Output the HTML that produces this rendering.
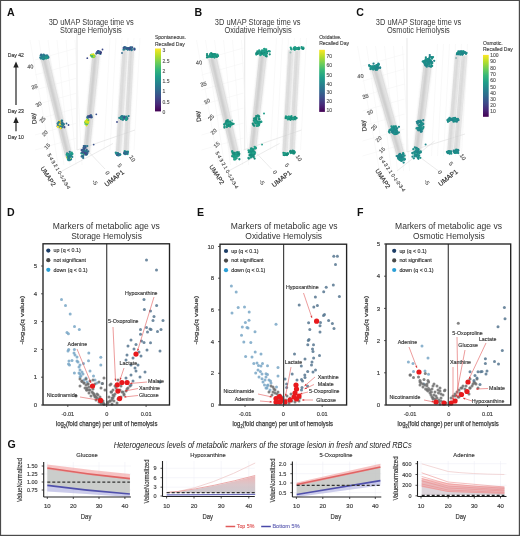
<!DOCTYPE html><html><head><meta charset="utf-8"><style>html,body{margin:0;padding:0;background:#fff;}svg{display:block;will-change:transform;}#wrap{width:520px;height:536px;}</style></head><body><div id="wrap"><svg width="520" height="536" viewBox="0 0 520 536">
<defs><linearGradient id="barg" x1="0" x2="1" y1="0" y2="0"><stop offset="0" stop-color="#f6f6f6"/><stop offset="0.2" stop-color="#dcdcdc"/><stop offset="0.45" stop-color="#c6c6c6"/><stop offset="0.55" stop-color="#c2c2c2"/><stop offset="0.8" stop-color="#dadada"/><stop offset="1" stop-color="#f4f4f4"/></linearGradient><linearGradient id="vir" x1="0" x2="0" y1="1" y2="0"><stop offset="0.000" stop-color="#440154"/><stop offset="0.111" stop-color="#482878"/><stop offset="0.222" stop-color="#3e4a89"/><stop offset="0.333" stop-color="#31688e"/><stop offset="0.444" stop-color="#26828e"/><stop offset="0.556" stop-color="#1f9e89"/><stop offset="0.667" stop-color="#35b779"/><stop offset="0.778" stop-color="#6ece58"/><stop offset="0.889" stop-color="#b5de2b"/><stop offset="1.000" stop-color="#fde725"/></linearGradient><filter id="soft" x="-50%" y="-10%" width="200%" height="120%"><feGaussianBlur stdDeviation="1.0"/></filter></defs>
<rect width="520" height="536" fill="#fff"/>
<g font-family='"Liberation Sans", sans-serif'>
<text x="7.00" y="16.00" font-size="10.6" fill="#111" text-anchor="start" font-weight="bold">A</text>
<text x="194.40" y="15.90" font-size="10.6" fill="#111" text-anchor="start" font-weight="bold">B</text>
<text x="356.30" y="15.90" font-size="10.6" fill="#111" text-anchor="start" font-weight="bold">C</text>
<text x="7.00" y="216.00" font-size="10.6" fill="#111" text-anchor="start" font-weight="bold">D</text>
<text x="196.90" y="216.00" font-size="10.6" fill="#111" text-anchor="start" font-weight="bold">E</text>
<text x="356.90" y="216.00" font-size="10.6" fill="#111" text-anchor="start" font-weight="bold">F</text>
<text x="7.50" y="447.60" font-size="10.6" fill="#111" text-anchor="start" font-weight="bold">G</text>
<text x="7.80" y="56.70" font-size="6.0" fill="#333" text-anchor="start" stroke="#333" stroke-width="0.160" textLength="16.10" lengthAdjust="spacingAndGlyphs">Day 42</text>
<text x="7.80" y="112.50" font-size="6.0" fill="#333" text-anchor="start" stroke="#333" stroke-width="0.160" textLength="16.10" lengthAdjust="spacingAndGlyphs">Day 23</text>
<text x="7.80" y="139.30" font-size="6.0" fill="#333" text-anchor="start" stroke="#333" stroke-width="0.160" textLength="16.10" lengthAdjust="spacingAndGlyphs">Day 10</text>
<line x1="16" y1="66" x2="16" y2="105" stroke="#333" stroke-width="1.3"/>
<polygon points="16,61.4 13.3,67.6 18.7,67.6" fill="#222"/>
<line x1="16" y1="121" x2="16" y2="131.2" stroke="#333" stroke-width="1.3"/>
<polygon points="16,116.8 13.3,123 18.7,123" fill="#222"/>
<text x="48.70" y="25.00" font-size="8.5" fill="#3a3a3a" text-anchor="start" textLength="85.10" lengthAdjust="spacingAndGlyphs">3D uMAP Storage time vs</text>
<text x="60.00" y="33.30" font-size="8.5" fill="#3a3a3a" text-anchor="start" textLength="61.70" lengthAdjust="spacingAndGlyphs">Storage Hemolysis</text>
<text x="214.80" y="25.00" font-size="8.5" fill="#3a3a3a" text-anchor="start" textLength="85.60" lengthAdjust="spacingAndGlyphs">3D uMAP Storage time vs</text>
<text x="224.40" y="33.30" font-size="8.5" fill="#3a3a3a" text-anchor="start" textLength="67.30" lengthAdjust="spacingAndGlyphs">Oxidative Hemolysis</text>
<text x="375.80" y="25.00" font-size="8.5" fill="#3a3a3a" text-anchor="start" textLength="85.50" lengthAdjust="spacingAndGlyphs">3D uMAP Storage time vs</text>
<text x="386.90" y="33.30" font-size="8.5" fill="#3a3a3a" text-anchor="start" textLength="62.90" lengthAdjust="spacingAndGlyphs">Osmotic Hemolysis</text>
<line x1="77" y1="32" x2="77" y2="150" stroke="#d6d6d6" stroke-width="0.6"/>
<line x1="30" y1="40" x2="52" y2="165" stroke="#f2f2f2" stroke-width="0.5"/>
<line x1="110" y1="38" x2="104" y2="150" stroke="#f2f2f2" stroke-width="0.5"/>
<line x1="39" y1="40" x2="58" y2="165" stroke="#f2f2f2" stroke-width="0.5"/>
<line x1="116" y1="38" x2="110" y2="150" stroke="#f2f2f2" stroke-width="0.5"/>
<line x1="48" y1="40" x2="64" y2="165" stroke="#f2f2f2" stroke-width="0.5"/>
<line x1="122" y1="38" x2="116" y2="150" stroke="#f2f2f2" stroke-width="0.5"/>
<line x1="57" y1="40" x2="70" y2="165" stroke="#f2f2f2" stroke-width="0.5"/>
<line x1="128" y1="38" x2="122" y2="150" stroke="#f2f2f2" stroke-width="0.5"/>
<line x1="66" y1="40" x2="76" y2="165" stroke="#f2f2f2" stroke-width="0.5"/>
<line x1="134" y1="38" x2="128" y2="150" stroke="#f2f2f2" stroke-width="0.5"/>
<line x1="75" y1="40" x2="82" y2="165" stroke="#f2f2f2" stroke-width="0.5"/>
<line x1="140" y1="38" x2="134" y2="150" stroke="#f2f2f2" stroke-width="0.5"/>
<line x1="35" y1="60" x2="77" y2="48" stroke="#f2f2f2" stroke-width="0.5"/>
<line x1="35" y1="75" x2="77" y2="63" stroke="#f2f2f2" stroke-width="0.5"/>
<line x1="35" y1="90" x2="77" y2="78" stroke="#f2f2f2" stroke-width="0.5"/>
<line x1="35" y1="105" x2="77" y2="93" stroke="#f2f2f2" stroke-width="0.5"/>
<line x1="35" y1="120" x2="77" y2="108" stroke="#f2f2f2" stroke-width="0.5"/>
<line x1="35" y1="135" x2="77" y2="123" stroke="#f2f2f2" stroke-width="0.5"/>
<line x1="35" y1="150" x2="77" y2="138" stroke="#f2f2f2" stroke-width="0.5"/>
<line x1="62" y1="171" x2="113" y2="143.5" stroke="#dedede" stroke-width="0.6"/>
<line x1="86" y1="149" x2="105" y2="169" stroke="#dedede" stroke-width="0.6"/>
<line x1="77" y1="150" x2="135" y2="130" stroke="#dedede" stroke-width="0.6"/>
<g filter="url(#soft)" opacity="0.9">
<polygon points="40.25,58 48.75,58 72.75,157 65.25,157" fill="#dedede"/>
<line x1="43.65" y1="58" x2="68.25" y2="157" stroke="#b4b4b4" stroke-width="1.6"/>
</g>
<line x1="40.93" y1="58" x2="65.85" y2="157" stroke="#cfcfcf" stroke-width="0.6" opacity="0.9"/>
<line x1="48.07" y1="58" x2="72.15" y2="157" stroke="#d6d6d6" stroke-width="0.6" opacity="0.9"/>
<g filter="url(#soft)" opacity="0.9">
<polygon points="92.25,55 99.75,55 89.75,153 83.25,153" fill="#dedede"/>
<line x1="95.25" y1="55" x2="85.85" y2="153" stroke="#b4b4b4" stroke-width="1.6"/>
</g>
<line x1="92.85" y1="55" x2="83.77" y2="153" stroke="#cfcfcf" stroke-width="0.6" opacity="0.9"/>
<line x1="99.15" y1="55" x2="89.23" y2="153" stroke="#d6d6d6" stroke-width="0.6" opacity="0.9"/>
<g filter="url(#soft)" opacity="0.7">
<polygon points="122.5,50 127.5,50 121.0,153 116.0,153" fill="#dedede"/>
<line x1="124.50" y1="50" x2="118.00" y2="153" stroke="#b4b4b4" stroke-width="1.6"/>
</g>
<line x1="122.90" y1="50" x2="116.40" y2="153" stroke="#cfcfcf" stroke-width="0.6" opacity="0.7"/>
<line x1="127.10" y1="50" x2="120.60" y2="153" stroke="#d6d6d6" stroke-width="0.6" opacity="0.7"/>
<g filter="url(#soft)" opacity="0.7">
<polygon points="129.0,50 134.0,50 128.5,152 123.5,152" fill="#dedede"/>
<line x1="131.00" y1="50" x2="125.50" y2="152" stroke="#b4b4b4" stroke-width="1.6"/>
</g>
<line x1="129.40" y1="50" x2="123.90" y2="152" stroke="#cfcfcf" stroke-width="0.6" opacity="0.7"/>
<line x1="133.60" y1="50" x2="128.10" y2="152" stroke="#d6d6d6" stroke-width="0.6" opacity="0.7"/>
<circle cx="43.99" cy="57.61" r="1.15" fill="#1f9e89"/>
<circle cx="46.73" cy="57.65" r="1.15" fill="#2a788e"/>
<circle cx="40.69" cy="55.69" r="1.15" fill="#26828e"/>
<circle cx="46.57" cy="57.30" r="1.15" fill="#1f9e89"/>
<circle cx="44.65" cy="58.52" r="1.15" fill="#1f9e89"/>
<circle cx="44.98" cy="56.45" r="1.15" fill="#26828e"/>
<circle cx="42.70" cy="55.84" r="1.15" fill="#1f9e89"/>
<circle cx="42.72" cy="56.44" r="1.15" fill="#26828e"/>
<circle cx="48.29" cy="57.68" r="1.15" fill="#2a788e"/>
<circle cx="42.32" cy="57.73" r="1.15" fill="#31688e"/>
<circle cx="43.18" cy="59.06" r="1.15" fill="#26828e"/>
<circle cx="46.58" cy="57.94" r="1.15" fill="#26828e"/>
<circle cx="42.75" cy="58.09" r="1.15" fill="#1f9e89"/>
<circle cx="41.95" cy="56.34" r="1.15" fill="#23898e"/>
<circle cx="43.61" cy="55.85" r="1.15" fill="#2a788e"/>
<circle cx="40.30" cy="57.58" r="1.15" fill="#2a788e"/>
<circle cx="43.41" cy="59.03" r="1.15" fill="#26828e"/>
<circle cx="45.97" cy="57.50" r="1.15" fill="#23898e"/>
<circle cx="46.79" cy="55.63" r="1.15" fill="#2a788e"/>
<circle cx="43.90" cy="56.70" r="1.15" fill="#31688e"/>
<circle cx="41.57" cy="57.99" r="1.15" fill="#26828e"/>
<circle cx="46.41" cy="56.49" r="1.15" fill="#1f9e89"/>
<circle cx="44.74" cy="55.44" r="1.15" fill="#2a788e"/>
<circle cx="43.50" cy="57.94" r="1.15" fill="#23898e"/>
<circle cx="42.56" cy="56.36" r="1.15" fill="#1f9e89"/>
<circle cx="46.63" cy="56.54" r="1.15" fill="#1f9e89"/>
<circle cx="47.39" cy="57.69" r="1.15" fill="#31688e"/>
<circle cx="48.21" cy="56.90" r="1.15" fill="#2a788e"/>
<circle cx="43.63" cy="54.55" r="1.15" fill="#2a788e"/>
<circle cx="46.70" cy="57.19" r="1.15" fill="#26828e"/>
<circle cx="42.71" cy="56.10" r="1.15" fill="#26828e"/>
<circle cx="44.62" cy="56.37" r="1.15" fill="#26828e"/>
<circle cx="40.93" cy="58.60" r="1.15" fill="#23898e"/>
<circle cx="46.41" cy="57.64" r="1.15" fill="#31688e"/>
<circle cx="44.31" cy="57.64" r="1.15" fill="#23898e"/>
<circle cx="45.56" cy="56.27" r="1.15" fill="#23898e"/>
<circle cx="47.52" cy="56.85" r="1.15" fill="#23898e"/>
<circle cx="45.60" cy="56.82" r="1.15" fill="#26828e"/>
<circle cx="46.20" cy="58.43" r="1.15" fill="#1f9e89"/>
<circle cx="41.84" cy="57.15" r="1.15" fill="#2a788e"/>
<circle cx="44.28" cy="57.66" r="1.15" fill="#31688e"/>
<circle cx="42.74" cy="58.14" r="1.15" fill="#26828e"/>
<circle cx="43.62" cy="55.66" r="1.15" fill="#31688e"/>
<circle cx="42.65" cy="55.37" r="1.15" fill="#23898e"/>
<circle cx="47.31" cy="55.77" r="1.15" fill="#31688e"/>
<circle cx="42.93" cy="57.76" r="1.15" fill="#1f9e89"/>
<circle cx="42.49" cy="57.14" r="1.15" fill="#26828e"/>
<circle cx="45.75" cy="57.34" r="1.15" fill="#26828e"/>
<circle cx="46.59" cy="58.04" r="1.15" fill="#1f9e89"/>
<circle cx="45.65" cy="57.00" r="1.15" fill="#1f9e89"/>
<circle cx="47.12" cy="56.48" r="1.15" fill="#1f9e89"/>
<circle cx="46.44" cy="55.82" r="1.15" fill="#26828e"/>
<circle cx="41.19" cy="54.76" r="1.15" fill="#31688e"/>
<circle cx="43.83" cy="57.46" r="1.15" fill="#23898e"/>
<circle cx="62.79" cy="124.39" r="1.15" fill="#2c728e"/>
<circle cx="60.66" cy="125.64" r="1.15" fill="#31688e"/>
<circle cx="60.89" cy="121.99" r="1.15" fill="#2a788e"/>
<circle cx="59.92" cy="124.35" r="1.15" fill="#fde725"/>
<circle cx="59.42" cy="127.07" r="1.15" fill="#1f9e89"/>
<circle cx="61.07" cy="122.65" r="1.15" fill="#26828e"/>
<circle cx="60.59" cy="122.89" r="1.15" fill="#31688e"/>
<circle cx="62.26" cy="123.38" r="1.15" fill="#23898e"/>
<circle cx="58.28" cy="123.72" r="1.15" fill="#31688e"/>
<circle cx="59.56" cy="122.21" r="1.15" fill="#23898e"/>
<circle cx="62.02" cy="120.69" r="1.15" fill="#23898e"/>
<circle cx="61.58" cy="126.94" r="1.15" fill="#1f9e89"/>
<circle cx="63.82" cy="124.25" r="1.15" fill="#2c728e"/>
<circle cx="60.86" cy="127.87" r="1.15" fill="#31688e"/>
<circle cx="57.64" cy="126.18" r="1.15" fill="#31688e"/>
<circle cx="62.46" cy="123.92" r="1.15" fill="#23898e"/>
<circle cx="62.44" cy="125.98" r="1.15" fill="#31688e"/>
<circle cx="61.63" cy="127.45" r="1.15" fill="#1f9e89"/>
<circle cx="58.69" cy="124.91" r="1.15" fill="#26828e"/>
<circle cx="61.41" cy="123.54" r="1.15" fill="#3b528b"/>
<circle cx="61.54" cy="120.91" r="1.15" fill="#2c728e"/>
<circle cx="62.31" cy="122.99" r="1.15" fill="#31688e"/>
<circle cx="64.31" cy="127.26" r="1.15" fill="#3b528b"/>
<circle cx="58.43" cy="125.33" r="1.15" fill="#26828e"/>
<circle cx="60.85" cy="123.17" r="1.15" fill="#2a788e"/>
<circle cx="63.11" cy="125.01" r="1.15" fill="#2c728e"/>
<circle cx="61.31" cy="123.34" r="1.15" fill="#2c728e"/>
<circle cx="60.18" cy="122.79" r="1.15" fill="#fde725"/>
<circle cx="60.68" cy="124.36" r="1.15" fill="#26828e"/>
<circle cx="57.64" cy="123.65" r="1.15" fill="#3b528b"/>
<circle cx="62.05" cy="124.38" r="1.15" fill="#23898e"/>
<circle cx="62.09" cy="124.77" r="1.15" fill="#fde725"/>
<circle cx="61.13" cy="127.42" r="1.15" fill="#3e4a89"/>
<circle cx="58.08" cy="123.35" r="1.15" fill="#1f9e89"/>
<circle cx="62.26" cy="123.40" r="1.15" fill="#2c728e"/>
<circle cx="59.46" cy="121.05" r="1.15" fill="#fde725"/>
<circle cx="57.86" cy="126.85" r="1.15" fill="#fde725"/>
<circle cx="61.63" cy="125.42" r="1.15" fill="#fde725"/>
<circle cx="62.71" cy="124.78" r="1.15" fill="#2a788e"/>
<circle cx="58.85" cy="122.10" r="1.15" fill="#2a788e"/>
<circle cx="61.85" cy="126.70" r="1.15" fill="#26828e"/>
<circle cx="59.67" cy="123.82" r="1.15" fill="#fde725"/>
<circle cx="59.20" cy="124.02" r="1.15" fill="#26828e"/>
<circle cx="61.41" cy="124.00" r="1.15" fill="#23898e"/>
<circle cx="60.54" cy="128.23" r="1.15" fill="#fde725"/>
<circle cx="60.64" cy="124.65" r="1.15" fill="#26828e"/>
<circle cx="58.94" cy="125.56" r="1.15" fill="#fde725"/>
<circle cx="60.16" cy="123.59" r="1.15" fill="#3e4a89"/>
<circle cx="59.11" cy="125.30" r="1.15" fill="#2c728e"/>
<circle cx="59.79" cy="124.42" r="1.15" fill="#fde725"/>
<circle cx="71.73" cy="152.66" r="1.15" fill="#1f9e89"/>
<circle cx="71.99" cy="154.03" r="1.15" fill="#23898e"/>
<circle cx="69.47" cy="155.08" r="1.15" fill="#26828e"/>
<circle cx="67.91" cy="157.09" r="1.15" fill="#23898e"/>
<circle cx="68.00" cy="156.60" r="1.15" fill="#1f9e89"/>
<circle cx="69.72" cy="151.83" r="1.15" fill="#2a788e"/>
<circle cx="71.13" cy="154.93" r="1.15" fill="#26828e"/>
<circle cx="71.06" cy="159.24" r="1.15" fill="#23898e"/>
<circle cx="69.75" cy="160.20" r="1.15" fill="#2a788e"/>
<circle cx="69.72" cy="155.21" r="1.15" fill="#23898e"/>
<circle cx="69.90" cy="157.81" r="1.15" fill="#fde725"/>
<circle cx="67.62" cy="157.19" r="1.15" fill="#26828e"/>
<circle cx="67.93" cy="158.91" r="1.15" fill="#1f9e89"/>
<circle cx="68.07" cy="157.89" r="1.15" fill="#1f9e89"/>
<circle cx="67.56" cy="157.60" r="1.15" fill="#1f9e89"/>
<circle cx="68.42" cy="155.94" r="1.15" fill="#23898e"/>
<circle cx="69.74" cy="155.83" r="1.15" fill="#1f9e89"/>
<circle cx="68.52" cy="160.20" r="1.15" fill="#2a788e"/>
<circle cx="68.89" cy="157.04" r="1.15" fill="#2a788e"/>
<circle cx="70.41" cy="153.57" r="1.15" fill="#1f9e89"/>
<circle cx="67.35" cy="157.38" r="1.15" fill="#fde725"/>
<circle cx="66.76" cy="154.67" r="1.15" fill="#26828e"/>
<circle cx="68.48" cy="159.53" r="1.15" fill="#2a788e"/>
<circle cx="68.45" cy="156.35" r="1.15" fill="#1f9e89"/>
<circle cx="67.09" cy="153.31" r="1.15" fill="#26828e"/>
<circle cx="68.12" cy="155.11" r="1.15" fill="#1f9e89"/>
<circle cx="70.15" cy="154.33" r="1.15" fill="#26828e"/>
<circle cx="70.66" cy="155.93" r="1.15" fill="#1f9e89"/>
<circle cx="68.66" cy="155.59" r="1.15" fill="#23898e"/>
<circle cx="72.36" cy="154.00" r="1.15" fill="#1f9e89"/>
<circle cx="70.02" cy="156.42" r="1.15" fill="#1f9e89"/>
<circle cx="67.64" cy="154.22" r="1.15" fill="#23898e"/>
<circle cx="68.53" cy="158.28" r="1.15" fill="#2a788e"/>
<circle cx="68.63" cy="159.58" r="1.15" fill="#1f9e89"/>
<circle cx="69.30" cy="156.09" r="1.15" fill="#fde725"/>
<circle cx="68.02" cy="155.59" r="1.15" fill="#23898e"/>
<circle cx="69.05" cy="158.18" r="1.15" fill="#2a788e"/>
<circle cx="67.89" cy="153.91" r="1.15" fill="#2a788e"/>
<circle cx="70.35" cy="155.68" r="1.15" fill="#23898e"/>
<circle cx="70.46" cy="155.80" r="1.15" fill="#2a788e"/>
<circle cx="67.78" cy="157.04" r="1.15" fill="#1f9e89"/>
<circle cx="69.14" cy="155.71" r="1.15" fill="#1f9e89"/>
<circle cx="68.51" cy="156.28" r="1.15" fill="#2a788e"/>
<circle cx="70.64" cy="153.83" r="1.15" fill="#1f9e89"/>
<circle cx="67.00" cy="154.21" r="1.15" fill="#1f9e89"/>
<circle cx="68.09" cy="156.30" r="1.15" fill="#23898e"/>
<circle cx="70.52" cy="156.04" r="1.15" fill="#26828e"/>
<circle cx="70.98" cy="155.57" r="1.15" fill="#23898e"/>
<circle cx="72.23" cy="156.89" r="1.15" fill="#23898e"/>
<circle cx="68.95" cy="156.07" r="1.15" fill="#2a788e"/>
<circle cx="70.12" cy="156.81" r="1.15" fill="#23898e"/>
<circle cx="69.03" cy="159.46" r="1.15" fill="#26828e"/>
<circle cx="68.94" cy="156.86" r="1.15" fill="#2a788e"/>
<circle cx="67.63" cy="154.96" r="1.15" fill="#1f9e89"/>
<circle cx="92.26" cy="56.62" r="1.15" fill="#35b779"/>
<circle cx="94.39" cy="55.54" r="1.15" fill="#d8e219"/>
<circle cx="91.63" cy="54.81" r="1.15" fill="#35b779"/>
<circle cx="91.82" cy="56.51" r="1.15" fill="#6ece58"/>
<circle cx="93.45" cy="57.17" r="1.15" fill="#d8e219"/>
<circle cx="94.33" cy="56.46" r="1.15" fill="#35b779"/>
<circle cx="91.37" cy="54.95" r="1.15" fill="#35b779"/>
<circle cx="93.28" cy="56.84" r="1.15" fill="#35b779"/>
<circle cx="90.84" cy="55.31" r="1.15" fill="#fde725"/>
<circle cx="93.11" cy="54.94" r="1.15" fill="#d8e219"/>
<circle cx="92.75" cy="56.13" r="1.15" fill="#b5de2b"/>
<circle cx="93.44" cy="55.78" r="1.15" fill="#6ece58"/>
<circle cx="91.19" cy="55.55" r="1.15" fill="#35b779"/>
<circle cx="92.01" cy="55.05" r="1.15" fill="#fde725"/>
<circle cx="92.13" cy="56.09" r="1.15" fill="#35b779"/>
<circle cx="92.85" cy="55.76" r="1.15" fill="#35b779"/>
<circle cx="94.00" cy="56.59" r="1.15" fill="#b5de2b"/>
<circle cx="93.20" cy="54.38" r="1.15" fill="#d8e219"/>
<circle cx="98.86" cy="52.03" r="1.15" fill="#2c728e"/>
<circle cx="97.43" cy="52.53" r="1.15" fill="#2c728e"/>
<circle cx="100.11" cy="52.19" r="1.15" fill="#3e4a89"/>
<circle cx="97.30" cy="51.83" r="1.15" fill="#3e4a89"/>
<circle cx="97.84" cy="52.13" r="1.15" fill="#3b528b"/>
<circle cx="98.38" cy="52.24" r="1.15" fill="#2c728e"/>
<circle cx="100.18" cy="52.71" r="1.15" fill="#3e4a89"/>
<circle cx="98.15" cy="51.52" r="1.15" fill="#3b528b"/>
<circle cx="98.66" cy="51.95" r="1.15" fill="#2c728e"/>
<circle cx="98.21" cy="52.57" r="1.15" fill="#440154"/>
<circle cx="100.39" cy="53.97" r="1.15" fill="#2c728e"/>
<circle cx="100.76" cy="52.59" r="1.15" fill="#440154"/>
<circle cx="100.71" cy="52.35" r="1.15" fill="#3b528b"/>
<circle cx="96.30" cy="53.52" r="1.15" fill="#31688e"/>
<circle cx="99.62" cy="52.64" r="1.15" fill="#440154"/>
<circle cx="98.89" cy="53.16" r="1.15" fill="#440154"/>
<circle cx="99.81" cy="51.75" r="1.15" fill="#3e4a89"/>
<circle cx="98.66" cy="52.01" r="1.15" fill="#2c728e"/>
<circle cx="98.26" cy="52.75" r="1.15" fill="#2c728e"/>
<circle cx="98.32" cy="51.85" r="1.15" fill="#31688e"/>
<circle cx="97.66" cy="52.84" r="1.15" fill="#3e4a89"/>
<circle cx="99.05" cy="52.47" r="1.15" fill="#3b528b"/>
<circle cx="99.43" cy="52.20" r="1.15" fill="#31688e"/>
<circle cx="98.21" cy="51.03" r="1.15" fill="#3b528b"/>
<circle cx="98.99" cy="52.76" r="1.15" fill="#2c728e"/>
<circle cx="88.20" cy="121.98" r="1.15" fill="#b5de2b"/>
<circle cx="88.35" cy="120.79" r="1.15" fill="#fde725"/>
<circle cx="86.94" cy="122.51" r="1.15" fill="#35b779"/>
<circle cx="86.53" cy="125.36" r="1.15" fill="#d8e219"/>
<circle cx="87.95" cy="121.69" r="1.15" fill="#b5de2b"/>
<circle cx="87.32" cy="123.44" r="1.15" fill="#b5de2b"/>
<circle cx="88.23" cy="120.06" r="1.15" fill="#35b779"/>
<circle cx="85.51" cy="123.92" r="1.15" fill="#6ece58"/>
<circle cx="85.63" cy="121.22" r="1.15" fill="#fde725"/>
<circle cx="87.85" cy="121.33" r="1.15" fill="#6ece58"/>
<circle cx="87.02" cy="119.70" r="1.15" fill="#b5de2b"/>
<circle cx="85.11" cy="122.32" r="1.15" fill="#6ece58"/>
<circle cx="87.71" cy="123.30" r="1.15" fill="#b5de2b"/>
<circle cx="86.86" cy="123.21" r="1.15" fill="#35b779"/>
<circle cx="87.69" cy="121.82" r="1.15" fill="#35b779"/>
<circle cx="87.07" cy="123.83" r="1.15" fill="#35b779"/>
<circle cx="86.57" cy="122.60" r="1.15" fill="#d8e219"/>
<circle cx="87.94" cy="122.86" r="1.15" fill="#b5de2b"/>
<circle cx="86.06" cy="121.45" r="1.15" fill="#b5de2b"/>
<circle cx="87.98" cy="121.96" r="1.15" fill="#d8e219"/>
<circle cx="86.36" cy="121.65" r="1.15" fill="#d8e219"/>
<circle cx="89.21" cy="116.76" r="1.15" fill="#31688e"/>
<circle cx="88.02" cy="117.44" r="1.15" fill="#31688e"/>
<circle cx="91.02" cy="115.74" r="1.15" fill="#2c728e"/>
<circle cx="88.03" cy="117.28" r="1.15" fill="#31688e"/>
<circle cx="88.72" cy="116.94" r="1.15" fill="#3e4a89"/>
<circle cx="87.93" cy="116.51" r="1.15" fill="#3b528b"/>
<circle cx="90.50" cy="117.09" r="1.15" fill="#31688e"/>
<circle cx="91.64" cy="117.32" r="1.15" fill="#2c728e"/>
<circle cx="88.45" cy="116.95" r="1.15" fill="#3b528b"/>
<circle cx="90.92" cy="115.34" r="1.15" fill="#3e4a89"/>
<circle cx="90.38" cy="117.03" r="1.15" fill="#2c728e"/>
<circle cx="90.86" cy="116.34" r="1.15" fill="#3e4a89"/>
<circle cx="87.37" cy="117.51" r="1.15" fill="#2c728e"/>
<circle cx="90.39" cy="116.41" r="1.15" fill="#3e4a89"/>
<circle cx="89.61" cy="116.90" r="1.15" fill="#3e4a89"/>
<circle cx="91.29" cy="116.10" r="1.15" fill="#2c728e"/>
<circle cx="91.29" cy="117.12" r="1.15" fill="#3e4a89"/>
<circle cx="89.68" cy="116.00" r="1.15" fill="#3e4a89"/>
<circle cx="83.57" cy="150.11" r="1.15" fill="#3b528b"/>
<circle cx="82.95" cy="149.55" r="1.15" fill="#3b528b"/>
<circle cx="84.22" cy="150.71" r="1.15" fill="#31688e"/>
<circle cx="83.16" cy="157.88" r="1.15" fill="#2c728e"/>
<circle cx="83.52" cy="153.29" r="1.15" fill="#1f9e89"/>
<circle cx="86.74" cy="152.03" r="1.15" fill="#2c728e"/>
<circle cx="84.22" cy="154.40" r="1.15" fill="#2c728e"/>
<circle cx="83.20" cy="152.32" r="1.15" fill="#2c728e"/>
<circle cx="86.32" cy="152.53" r="1.15" fill="#3e4a89"/>
<circle cx="85.61" cy="152.63" r="1.15" fill="#3b528b"/>
<circle cx="85.63" cy="152.98" r="1.15" fill="#3b528b"/>
<circle cx="85.65" cy="151.09" r="1.15" fill="#3e4a89"/>
<circle cx="83.54" cy="147.80" r="1.15" fill="#31688e"/>
<circle cx="84.01" cy="150.30" r="1.15" fill="#3e4a89"/>
<circle cx="84.35" cy="148.69" r="1.15" fill="#2c728e"/>
<circle cx="83.30" cy="152.05" r="1.15" fill="#2c728e"/>
<circle cx="84.65" cy="153.97" r="1.15" fill="#3e4a89"/>
<circle cx="86.45" cy="154.48" r="1.15" fill="#1f9e89"/>
<circle cx="84.99" cy="153.84" r="1.15" fill="#3b528b"/>
<circle cx="85.02" cy="151.49" r="1.15" fill="#1f9e89"/>
<circle cx="85.59" cy="154.23" r="1.15" fill="#2c728e"/>
<circle cx="86.90" cy="152.56" r="1.15" fill="#3b528b"/>
<circle cx="85.10" cy="152.32" r="1.15" fill="#3b528b"/>
<circle cx="81.80" cy="153.37" r="1.15" fill="#31688e"/>
<circle cx="83.82" cy="146.12" r="1.15" fill="#3b528b"/>
<circle cx="83.95" cy="153.58" r="1.15" fill="#fde725"/>
<circle cx="84.49" cy="151.29" r="1.15" fill="#3b528b"/>
<circle cx="87.27" cy="146.12" r="1.15" fill="#2c728e"/>
<circle cx="84.57" cy="152.19" r="1.15" fill="#3e4a89"/>
<circle cx="86.14" cy="153.42" r="1.15" fill="#31688e"/>
<circle cx="81.69" cy="150.23" r="1.15" fill="#3b528b"/>
<circle cx="82.42" cy="156.07" r="1.15" fill="#3b528b"/>
<circle cx="86.90" cy="154.29" r="1.15" fill="#2c728e"/>
<circle cx="81.68" cy="156.51" r="1.15" fill="#2c728e"/>
<circle cx="83.19" cy="156.10" r="1.15" fill="#2c728e"/>
<circle cx="86.32" cy="152.54" r="1.15" fill="#3b528b"/>
<circle cx="84.96" cy="152.19" r="1.15" fill="#31688e"/>
<circle cx="84.71" cy="151.05" r="1.15" fill="#2c728e"/>
<circle cx="84.43" cy="146.12" r="1.15" fill="#31688e"/>
<circle cx="83.44" cy="153.92" r="1.15" fill="#1f9e89"/>
<circle cx="87.37" cy="153.25" r="1.15" fill="#31688e"/>
<circle cx="85.84" cy="150.92" r="1.15" fill="#1f9e89"/>
<circle cx="86.71" cy="150.01" r="1.15" fill="#31688e"/>
<circle cx="85.80" cy="152.31" r="1.15" fill="#2c728e"/>
<circle cx="84.07" cy="148.94" r="1.15" fill="#3b528b"/>
<circle cx="85.49" cy="146.12" r="1.15" fill="#2c728e"/>
<circle cx="85.92" cy="154.43" r="1.15" fill="#3e4a89"/>
<circle cx="85.46" cy="147.66" r="1.15" fill="#3b528b"/>
<circle cx="83.25" cy="150.44" r="1.15" fill="#31688e"/>
<circle cx="81.44" cy="153.20" r="1.15" fill="#1f9e89"/>
<circle cx="85.55" cy="152.88" r="1.15" fill="#3b528b"/>
<circle cx="84.51" cy="153.02" r="1.15" fill="#3e4a89"/>
<circle cx="82.26" cy="152.40" r="1.15" fill="#3b528b"/>
<circle cx="88.20" cy="151.28" r="1.15" fill="#31688e"/>
<circle cx="128.90" cy="48.99" r="1.15" fill="#31688e"/>
<circle cx="123.54" cy="49.69" r="1.15" fill="#23898e"/>
<circle cx="129.64" cy="49.03" r="1.15" fill="#23898e"/>
<circle cx="126.17" cy="47.98" r="1.15" fill="#31688e"/>
<circle cx="129.40" cy="48.13" r="1.15" fill="#1f9e89"/>
<circle cx="126.71" cy="48.42" r="1.15" fill="#1f9e89"/>
<circle cx="129.62" cy="49.20" r="1.15" fill="#2c728e"/>
<circle cx="129.19" cy="49.27" r="1.15" fill="#2c728e"/>
<circle cx="127.80" cy="49.32" r="1.15" fill="#2c728e"/>
<circle cx="127.12" cy="48.68" r="1.15" fill="#31688e"/>
<circle cx="124.45" cy="47.23" r="1.15" fill="#31688e"/>
<circle cx="134.38" cy="48.74" r="1.15" fill="#2c728e"/>
<circle cx="132.11" cy="47.39" r="1.15" fill="#3e4a89"/>
<circle cx="130.35" cy="48.34" r="1.15" fill="#3e4a89"/>
<circle cx="131.59" cy="50.17" r="1.15" fill="#2c728e"/>
<circle cx="131.27" cy="48.41" r="1.15" fill="#3b528b"/>
<circle cx="127.08" cy="48.87" r="1.15" fill="#3e4a89"/>
<circle cx="131.76" cy="49.28" r="1.15" fill="#26828e"/>
<circle cx="129.50" cy="49.36" r="1.15" fill="#3b528b"/>
<circle cx="134.46" cy="49.51" r="1.15" fill="#3e4a89"/>
<circle cx="125.94" cy="48.11" r="1.15" fill="#2c728e"/>
<circle cx="130.90" cy="47.51" r="1.15" fill="#2a788e"/>
<circle cx="128.28" cy="48.30" r="1.15" fill="#1f9e89"/>
<circle cx="129.58" cy="48.78" r="1.15" fill="#23898e"/>
<circle cx="128.10" cy="48.62" r="1.15" fill="#31688e"/>
<circle cx="130.09" cy="47.71" r="1.15" fill="#3b528b"/>
<circle cx="128.27" cy="48.47" r="1.15" fill="#3b528b"/>
<circle cx="127.34" cy="49.03" r="1.15" fill="#1f9e89"/>
<circle cx="127.66" cy="48.07" r="1.15" fill="#3e4a89"/>
<circle cx="127.72" cy="49.54" r="1.15" fill="#26828e"/>
<circle cx="128.57" cy="48.77" r="1.15" fill="#26828e"/>
<circle cx="127.41" cy="48.15" r="1.15" fill="#2a788e"/>
<circle cx="129.08" cy="48.77" r="1.15" fill="#3b528b"/>
<circle cx="124.72" cy="49.30" r="1.15" fill="#2a788e"/>
<circle cx="126.81" cy="48.39" r="1.15" fill="#3b528b"/>
<circle cx="129.58" cy="48.87" r="1.15" fill="#3b528b"/>
<circle cx="125.38" cy="47.51" r="1.15" fill="#31688e"/>
<circle cx="123.66" cy="47.99" r="1.15" fill="#3b528b"/>
<circle cx="130.29" cy="49.15" r="1.15" fill="#3b528b"/>
<circle cx="124.94" cy="117.81" r="1.15" fill="#23898e"/>
<circle cx="124.09" cy="116.41" r="1.15" fill="#23898e"/>
<circle cx="122.66" cy="119.63" r="1.15" fill="#1f9e89"/>
<circle cx="126.50" cy="117.84" r="1.15" fill="#1f9e89"/>
<circle cx="121.56" cy="117.20" r="1.15" fill="#26828e"/>
<circle cx="126.52" cy="117.29" r="1.15" fill="#2a788e"/>
<circle cx="121.24" cy="116.63" r="1.15" fill="#2a788e"/>
<circle cx="122.91" cy="117.61" r="1.15" fill="#23898e"/>
<circle cx="124.63" cy="118.58" r="1.15" fill="#2a788e"/>
<circle cx="125.19" cy="117.80" r="1.15" fill="#26828e"/>
<circle cx="125.19" cy="118.47" r="1.15" fill="#23898e"/>
<circle cx="126.73" cy="118.30" r="1.15" fill="#1f9e89"/>
<circle cx="123.04" cy="117.31" r="1.15" fill="#2a788e"/>
<circle cx="121.75" cy="117.33" r="1.15" fill="#1f9e89"/>
<circle cx="122.88" cy="117.38" r="1.15" fill="#23898e"/>
<circle cx="121.12" cy="118.59" r="1.15" fill="#23898e"/>
<circle cx="122.62" cy="117.99" r="1.15" fill="#1f9e89"/>
<circle cx="122.13" cy="117.29" r="1.15" fill="#23898e"/>
<circle cx="121.11" cy="118.41" r="1.15" fill="#23898e"/>
<circle cx="126.08" cy="116.60" r="1.15" fill="#2a788e"/>
<circle cx="124.90" cy="118.29" r="1.15" fill="#2a788e"/>
<circle cx="121.37" cy="119.21" r="1.15" fill="#3e4a89"/>
<circle cx="123.37" cy="117.98" r="1.15" fill="#2a788e"/>
<circle cx="127.11" cy="118.72" r="1.15" fill="#3e4a89"/>
<circle cx="127.22" cy="118.72" r="1.15" fill="#2a788e"/>
<circle cx="121.79" cy="116.71" r="1.15" fill="#1f9e89"/>
<circle cx="128.57" cy="116.11" r="1.15" fill="#26828e"/>
<circle cx="126.16" cy="119.89" r="1.15" fill="#23898e"/>
<circle cx="123.05" cy="119.60" r="1.15" fill="#2a788e"/>
<circle cx="122.63" cy="116.68" r="1.15" fill="#23898e"/>
<circle cx="125.87" cy="118.33" r="1.15" fill="#1f9e89"/>
<circle cx="126.54" cy="119.61" r="1.15" fill="#1f9e89"/>
<circle cx="126.01" cy="117.44" r="1.15" fill="#1f9e89"/>
<circle cx="119.38" cy="117.97" r="1.15" fill="#23898e"/>
<circle cx="121.45" cy="117.32" r="1.15" fill="#23898e"/>
<circle cx="123.75" cy="118.22" r="1.15" fill="#2a788e"/>
<circle cx="121.43" cy="118.73" r="1.15" fill="#1f9e89"/>
<circle cx="122.00" cy="116.27" r="1.15" fill="#2a788e"/>
<circle cx="124.45" cy="117.32" r="1.15" fill="#3e4a89"/>
<circle cx="120.26" cy="154.62" r="1.15" fill="#23898e"/>
<circle cx="116.51" cy="153.89" r="1.15" fill="#31688e"/>
<circle cx="117.98" cy="155.07" r="1.15" fill="#2a788e"/>
<circle cx="117.91" cy="153.53" r="1.15" fill="#2a788e"/>
<circle cx="119.57" cy="154.15" r="1.15" fill="#26828e"/>
<circle cx="117.76" cy="154.45" r="1.15" fill="#2c728e"/>
<circle cx="118.88" cy="155.23" r="1.15" fill="#3e4a89"/>
<circle cx="117.58" cy="155.01" r="1.15" fill="#1f9e89"/>
<circle cx="115.79" cy="152.73" r="1.15" fill="#26828e"/>
<circle cx="117.79" cy="153.05" r="1.15" fill="#2c728e"/>
<circle cx="118.98" cy="154.98" r="1.15" fill="#2a788e"/>
<circle cx="117.01" cy="154.53" r="1.15" fill="#3e4a89"/>
<circle cx="118.58" cy="154.57" r="1.15" fill="#3e4a89"/>
<circle cx="118.09" cy="154.21" r="1.15" fill="#26828e"/>
<circle cx="117.52" cy="155.00" r="1.15" fill="#2c728e"/>
<circle cx="117.13" cy="154.51" r="1.15" fill="#3b528b"/>
<circle cx="118.48" cy="155.14" r="1.15" fill="#23898e"/>
<circle cx="118.11" cy="154.30" r="1.15" fill="#2c728e"/>
<circle cx="117.65" cy="153.46" r="1.15" fill="#31688e"/>
<circle cx="116.43" cy="153.12" r="1.15" fill="#1f9e89"/>
<circle cx="117.23" cy="154.52" r="1.15" fill="#3e4a89"/>
<circle cx="120.09" cy="154.65" r="1.15" fill="#26828e"/>
<circle cx="116.69" cy="153.68" r="1.15" fill="#23898e"/>
<circle cx="125.82" cy="154.07" r="1.15" fill="#3e4a89"/>
<circle cx="126.05" cy="152.66" r="1.15" fill="#3b528b"/>
<circle cx="125.83" cy="152.84" r="1.15" fill="#31688e"/>
<circle cx="127.31" cy="152.67" r="1.15" fill="#2c728e"/>
<circle cx="126.30" cy="152.96" r="1.15" fill="#2a788e"/>
<circle cx="126.09" cy="152.20" r="1.15" fill="#1f9e89"/>
<circle cx="127.35" cy="152.98" r="1.15" fill="#23898e"/>
<circle cx="125.77" cy="152.52" r="1.15" fill="#2a788e"/>
<circle cx="125.76" cy="151.82" r="1.15" fill="#23898e"/>
<circle cx="127.63" cy="154.07" r="1.15" fill="#1f9e89"/>
<circle cx="125.84" cy="152.80" r="1.15" fill="#26828e"/>
<circle cx="127.92" cy="151.59" r="1.15" fill="#1f9e89"/>
<circle cx="125.57" cy="152.07" r="1.15" fill="#2a788e"/>
<circle cx="124.75" cy="151.16" r="1.15" fill="#1f9e89"/>
<circle cx="125.02" cy="154.07" r="1.15" fill="#2c728e"/>
<circle cx="127.03" cy="153.03" r="1.15" fill="#3b528b"/>
<circle cx="125.74" cy="153.11" r="1.15" fill="#2c728e"/>
<circle cx="127.67" cy="152.21" r="1.15" fill="#26828e"/>
<circle cx="126.22" cy="153.25" r="1.15" fill="#2c728e"/>
<circle cx="124.10" cy="153.54" r="1.15" fill="#23898e"/>
<circle cx="124.35" cy="152.75" r="1.15" fill="#3e4a89"/>
<circle cx="126.60" cy="152.01" r="1.15" fill="#2c728e"/>
<circle cx="124.87" cy="152.34" r="1.15" fill="#2c728e"/>
<text transform="translate(30.40,66.50) rotate(-5)" x="0" y="1.98" font-size="5.5" fill="#555" stroke="#555" stroke-width="0.147" text-anchor="middle">40</text>
<text transform="translate(34.50,86.70) rotate(-15)" x="0" y="1.98" font-size="5.5" fill="#555" stroke="#555" stroke-width="0.147" text-anchor="middle">35</text>
<text transform="translate(38.60,104.20) rotate(-30)" x="0" y="1.98" font-size="5.5" fill="#555" stroke="#555" stroke-width="0.147" text-anchor="middle">30</text>
<text transform="translate(42.50,119.60) rotate(-50)" x="0" y="1.98" font-size="5.5" fill="#555" stroke="#555" stroke-width="0.147" text-anchor="middle">25</text>
<text transform="translate(44.70,133.30) rotate(-45)" x="0" y="1.98" font-size="5.5" fill="#555" stroke="#555" stroke-width="0.147" text-anchor="middle">20</text>
<text transform="translate(47.20,146.10) rotate(-45)" x="0" y="1.98" font-size="5.5" fill="#555" stroke="#555" stroke-width="0.147" text-anchor="middle">15</text>
<text transform="translate(33.50,118.60) rotate(-100)" x="0" y="2.27" font-size="6.3" fill="#333" stroke="#333" stroke-width="0.168" text-anchor="middle">Day</text>
<text transform="translate(49.50,155.00) rotate(60)" x="0" y="1.80" font-size="5.0" fill="#444" stroke="#444" stroke-width="0.133" text-anchor="middle">5</text>
<text transform="translate(51.56,158.50) rotate(60)" x="0" y="1.80" font-size="5.0" fill="#444" stroke="#444" stroke-width="0.133" text-anchor="middle">4</text>
<text transform="translate(53.61,162.00) rotate(60)" x="0" y="1.80" font-size="5.0" fill="#444" stroke="#444" stroke-width="0.133" text-anchor="middle">3</text>
<text transform="translate(55.67,165.50) rotate(60)" x="0" y="1.80" font-size="5.0" fill="#444" stroke="#444" stroke-width="0.133" text-anchor="middle">2</text>
<text transform="translate(57.72,169.00) rotate(60)" x="0" y="1.80" font-size="5.0" fill="#444" stroke="#444" stroke-width="0.133" text-anchor="middle">1</text>
<text transform="translate(59.78,172.50) rotate(60)" x="0" y="1.80" font-size="5.0" fill="#444" stroke="#444" stroke-width="0.133" text-anchor="middle">0</text>
<text transform="translate(61.83,176.00) rotate(60)" x="0" y="1.80" font-size="5.0" fill="#444" stroke="#444" stroke-width="0.133" text-anchor="middle">-1</text>
<text transform="translate(63.89,179.50) rotate(60)" x="0" y="1.80" font-size="5.0" fill="#444" stroke="#444" stroke-width="0.133" text-anchor="middle">-2</text>
<text transform="translate(65.94,183.00) rotate(60)" x="0" y="1.80" font-size="5.0" fill="#444" stroke="#444" stroke-width="0.133" text-anchor="middle">-3</text>
<text transform="translate(68.00,186.50) rotate(60)" x="0" y="1.80" font-size="5.0" fill="#444" stroke="#444" stroke-width="0.133" text-anchor="middle">-4</text>
<text transform="translate(48.30,176.20) rotate(57)" x="0" y="2.30" font-size="6.4" fill="#333" stroke="#333" stroke-width="0.171" text-anchor="middle">UMAP2</text>
<text transform="translate(132.40,158.50) rotate(55)" x="0" y="2.02" font-size="5.6" fill="#555" stroke="#555" stroke-width="0.149" text-anchor="middle">10</text>
<text transform="translate(119.70,165.30) rotate(55)" x="0" y="2.02" font-size="5.6" fill="#555" stroke="#555" stroke-width="0.149" text-anchor="middle">5</text>
<text transform="translate(107.60,172.80) rotate(55)" x="0" y="2.02" font-size="5.6" fill="#555" stroke="#555" stroke-width="0.149" text-anchor="middle">0</text>
<text transform="translate(94.90,182.30) rotate(55)" x="0" y="2.02" font-size="5.6" fill="#555" stroke="#555" stroke-width="0.149" text-anchor="middle">-5</text>
<text transform="translate(114.20,178.10) rotate(-38)" x="0" y="2.38" font-size="6.6" fill="#333" stroke="#333" stroke-width="0.176" text-anchor="middle">UMAP1</text>
<circle cx="122" cy="53" r="0.9" fill="#31688e"/>
<circle cx="87.3" cy="58.2" r="0.9" fill="#3e4a89"/>
<circle cx="102.5" cy="49.5" r="0.9" fill="#3e4a89"/>
<circle cx="96.3" cy="114.3" r="0.9" fill="#3b528b"/>
<circle cx="93.7" cy="144.6" r="0.9" fill="#3b528b"/>
<circle cx="117" cy="122" r="0.9" fill="#3e4a89"/>
<circle cx="66.5" cy="123.5" r="0.9" fill="#31688e"/>
<circle cx="68.5" cy="125" r="0.9" fill="#3e4a89"/>
<circle cx="262" cy="144.4" r="1.0" fill="#1f9e89"/>
<circle cx="264" cy="113.5" r="1.0" fill="#1f9e89"/>
<circle cx="290.5" cy="52.5" r="1.0" fill="#1f9e89"/>
<circle cx="232" cy="120.5" r="1.0" fill="#1f9e89"/>
<circle cx="239" cy="152" r="1.0" fill="#1f9e89"/>
<circle cx="425.6" cy="144.4" r="1.0" fill="#23898e"/>
<circle cx="456" cy="58" r="1.0" fill="#23898e"/>
<circle cx="448" cy="122" r="1.0" fill="#23898e"/>
<line x1="244.7" y1="32" x2="244.7" y2="150" stroke="#d6d6d6" stroke-width="0.6"/>
<line x1="196.5" y1="40" x2="218.5" y2="165" stroke="#f2f2f2" stroke-width="0.5"/>
<line x1="276.5" y1="38" x2="270.5" y2="150" stroke="#f2f2f2" stroke-width="0.5"/>
<line x1="205.5" y1="40" x2="224.5" y2="165" stroke="#f2f2f2" stroke-width="0.5"/>
<line x1="282.5" y1="38" x2="276.5" y2="150" stroke="#f2f2f2" stroke-width="0.5"/>
<line x1="214.5" y1="40" x2="230.5" y2="165" stroke="#f2f2f2" stroke-width="0.5"/>
<line x1="288.5" y1="38" x2="282.5" y2="150" stroke="#f2f2f2" stroke-width="0.5"/>
<line x1="223.5" y1="40" x2="236.5" y2="165" stroke="#f2f2f2" stroke-width="0.5"/>
<line x1="294.5" y1="38" x2="288.5" y2="150" stroke="#f2f2f2" stroke-width="0.5"/>
<line x1="232.5" y1="40" x2="242.5" y2="165" stroke="#f2f2f2" stroke-width="0.5"/>
<line x1="300.5" y1="38" x2="294.5" y2="150" stroke="#f2f2f2" stroke-width="0.5"/>
<line x1="241.5" y1="40" x2="248.5" y2="165" stroke="#f2f2f2" stroke-width="0.5"/>
<line x1="306.5" y1="38" x2="300.5" y2="150" stroke="#f2f2f2" stroke-width="0.5"/>
<line x1="201.5" y1="60" x2="243.5" y2="48" stroke="#f2f2f2" stroke-width="0.5"/>
<line x1="201.5" y1="75" x2="243.5" y2="63" stroke="#f2f2f2" stroke-width="0.5"/>
<line x1="201.5" y1="90" x2="243.5" y2="78" stroke="#f2f2f2" stroke-width="0.5"/>
<line x1="201.5" y1="105" x2="243.5" y2="93" stroke="#f2f2f2" stroke-width="0.5"/>
<line x1="201.5" y1="120" x2="243.5" y2="108" stroke="#f2f2f2" stroke-width="0.5"/>
<line x1="201.5" y1="135" x2="243.5" y2="123" stroke="#f2f2f2" stroke-width="0.5"/>
<line x1="201.5" y1="150" x2="243.5" y2="138" stroke="#f2f2f2" stroke-width="0.5"/>
<line x1="228.5" y1="171" x2="279.5" y2="143.5" stroke="#dedede" stroke-width="0.6"/>
<line x1="252.5" y1="149" x2="271.5" y2="169" stroke="#dedede" stroke-width="0.6"/>
<line x1="243.5" y1="150" x2="301.5" y2="130" stroke="#dedede" stroke-width="0.6"/>
<g filter="url(#soft)" opacity="0.9">
<polygon points="208.0,58 217.0,58 240.0,157 232.0,157" fill="#dedede"/>
<line x1="211.60" y1="58" x2="235.20" y2="157" stroke="#b4b4b4" stroke-width="1.6"/>
</g>
<line x1="208.72" y1="58" x2="232.64" y2="157" stroke="#cfcfcf" stroke-width="0.6" opacity="0.9"/>
<line x1="216.28" y1="58" x2="239.36" y2="157" stroke="#d6d6d6" stroke-width="0.6" opacity="0.9"/>
<g filter="url(#soft)" opacity="0.9">
<polygon points="259.0,55 267.0,55 255.8,153 248.8,153" fill="#dedede"/>
<line x1="262.20" y1="55" x2="251.60" y2="153" stroke="#b4b4b4" stroke-width="1.6"/>
</g>
<line x1="259.64" y1="55" x2="249.36" y2="153" stroke="#cfcfcf" stroke-width="0.6" opacity="0.9"/>
<line x1="266.36" y1="55" x2="255.24" y2="153" stroke="#d6d6d6" stroke-width="0.6" opacity="0.9"/>
<g filter="url(#soft)" opacity="0.7">
<polygon points="288.5,50 293.5,50 287.5,153 282.5,153" fill="#dedede"/>
<line x1="290.50" y1="50" x2="284.50" y2="153" stroke="#b4b4b4" stroke-width="1.6"/>
</g>
<line x1="288.90" y1="50" x2="282.90" y2="153" stroke="#cfcfcf" stroke-width="0.6" opacity="0.7"/>
<line x1="293.10" y1="50" x2="287.10" y2="153" stroke="#d6d6d6" stroke-width="0.6" opacity="0.7"/>
<g filter="url(#soft)" opacity="0.7">
<polygon points="295.0,50 300.0,50 294.5,152 289.5,152" fill="#dedede"/>
<line x1="297.00" y1="50" x2="291.50" y2="152" stroke="#b4b4b4" stroke-width="1.6"/>
</g>
<line x1="295.40" y1="50" x2="289.90" y2="152" stroke="#cfcfcf" stroke-width="0.6" opacity="0.7"/>
<line x1="299.60" y1="50" x2="294.10" y2="152" stroke="#d6d6d6" stroke-width="0.6" opacity="0.7"/>
<circle cx="209.82" cy="56.34" r="1.15" fill="#1f9e89"/>
<circle cx="212.87" cy="55.68" r="1.15" fill="#1a8f7e"/>
<circle cx="211.39" cy="55.09" r="1.15" fill="#1f9e89"/>
<circle cx="212.30" cy="55.26" r="1.15" fill="#1f9e89"/>
<circle cx="211.20" cy="54.17" r="1.15" fill="#1a8f7e"/>
<circle cx="212.42" cy="55.13" r="1.15" fill="#178a78"/>
<circle cx="214.52" cy="57.60" r="1.15" fill="#1a8f7e"/>
<circle cx="215.68" cy="54.35" r="1.15" fill="#20a086"/>
<circle cx="213.88" cy="55.92" r="1.15" fill="#1a8f7e"/>
<circle cx="217.96" cy="56.02" r="1.15" fill="#1a8f7e"/>
<circle cx="214.17" cy="54.24" r="1.15" fill="#178a78"/>
<circle cx="211.13" cy="55.58" r="1.15" fill="#1f9e89"/>
<circle cx="211.85" cy="56.37" r="1.15" fill="#178a78"/>
<circle cx="214.49" cy="55.60" r="1.15" fill="#178a78"/>
<circle cx="216.69" cy="56.01" r="1.15" fill="#178a78"/>
<circle cx="212.93" cy="54.15" r="1.15" fill="#20a086"/>
<circle cx="214.65" cy="54.38" r="1.15" fill="#1a8f7e"/>
<circle cx="212.66" cy="55.26" r="1.15" fill="#1a8f7e"/>
<circle cx="210.18" cy="56.78" r="1.15" fill="#1f9e89"/>
<circle cx="211.42" cy="53.67" r="1.15" fill="#178a78"/>
<circle cx="212.56" cy="55.54" r="1.15" fill="#1f9e89"/>
<circle cx="211.47" cy="57.12" r="1.15" fill="#1a8f7e"/>
<circle cx="215.52" cy="55.53" r="1.15" fill="#20a086"/>
<circle cx="210.86" cy="53.74" r="1.15" fill="#20a086"/>
<circle cx="207.05" cy="54.12" r="1.15" fill="#178a78"/>
<circle cx="211.15" cy="55.22" r="1.15" fill="#1f9e89"/>
<circle cx="214.25" cy="55.23" r="1.15" fill="#1f9e89"/>
<circle cx="215.35" cy="56.41" r="1.15" fill="#1a8f7e"/>
<circle cx="207.04" cy="55.69" r="1.15" fill="#1a8f7e"/>
<circle cx="210.81" cy="54.82" r="1.15" fill="#20a086"/>
<circle cx="217.44" cy="54.58" r="1.15" fill="#1a8f7e"/>
<circle cx="209.19" cy="56.18" r="1.15" fill="#178a78"/>
<circle cx="213.05" cy="56.25" r="1.15" fill="#1f9e89"/>
<circle cx="208.58" cy="56.93" r="1.15" fill="#1f9e89"/>
<circle cx="213.77" cy="55.32" r="1.15" fill="#1a8f7e"/>
<circle cx="211.16" cy="56.22" r="1.15" fill="#1f9e89"/>
<circle cx="214.42" cy="54.69" r="1.15" fill="#178a78"/>
<circle cx="213.85" cy="56.44" r="1.15" fill="#178a78"/>
<circle cx="211.31" cy="55.25" r="1.15" fill="#20a086"/>
<circle cx="209.99" cy="54.29" r="1.15" fill="#1f9e89"/>
<circle cx="212.02" cy="57.17" r="1.15" fill="#1f9e89"/>
<circle cx="211.32" cy="53.40" r="1.15" fill="#178a78"/>
<circle cx="210.58" cy="54.94" r="1.15" fill="#1f9e89"/>
<circle cx="211.71" cy="56.07" r="1.15" fill="#1a8f7e"/>
<circle cx="214.45" cy="56.76" r="1.15" fill="#1f9e89"/>
<circle cx="207.04" cy="57.41" r="1.15" fill="#178a78"/>
<circle cx="212.21" cy="54.44" r="1.15" fill="#1f9e89"/>
<circle cx="216.93" cy="56.90" r="1.15" fill="#178a78"/>
<circle cx="213.20" cy="56.45" r="1.15" fill="#1a8f7e"/>
<circle cx="217.59" cy="55.66" r="1.15" fill="#20a086"/>
<circle cx="211.43" cy="54.40" r="1.15" fill="#178a78"/>
<circle cx="211.10" cy="55.63" r="1.15" fill="#20a086"/>
<circle cx="214.44" cy="55.53" r="1.15" fill="#20a086"/>
<circle cx="211.45" cy="54.23" r="1.15" fill="#20a086"/>
<circle cx="214.69" cy="54.28" r="1.15" fill="#1f9e89"/>
<circle cx="210.91" cy="54.21" r="1.15" fill="#20a086"/>
<circle cx="210.66" cy="55.82" r="1.15" fill="#1a8f7e"/>
<circle cx="214.03" cy="55.04" r="1.15" fill="#20a086"/>
<circle cx="211.66" cy="54.13" r="1.15" fill="#178a78"/>
<circle cx="214.25" cy="54.57" r="1.15" fill="#1a8f7e"/>
<circle cx="210.57" cy="54.79" r="1.15" fill="#1f9e89"/>
<circle cx="230.55" cy="123.01" r="1.15" fill="#1a8f7e"/>
<circle cx="227.05" cy="125.34" r="1.15" fill="#1a8f7e"/>
<circle cx="231.68" cy="124.54" r="1.15" fill="#1f9e89"/>
<circle cx="227.86" cy="120.22" r="1.15" fill="#1f9e89"/>
<circle cx="227.99" cy="123.90" r="1.15" fill="#20a086"/>
<circle cx="225.62" cy="123.27" r="1.15" fill="#1a8f7e"/>
<circle cx="226.35" cy="121.40" r="1.15" fill="#178a78"/>
<circle cx="224.48" cy="126.34" r="1.15" fill="#1f9e89"/>
<circle cx="230.40" cy="123.93" r="1.15" fill="#1a8f7e"/>
<circle cx="228.60" cy="121.54" r="1.15" fill="#1a8f7e"/>
<circle cx="228.97" cy="125.77" r="1.15" fill="#1a8f7e"/>
<circle cx="231.28" cy="124.16" r="1.15" fill="#20a086"/>
<circle cx="226.72" cy="122.05" r="1.15" fill="#178a78"/>
<circle cx="230.45" cy="124.97" r="1.15" fill="#20a086"/>
<circle cx="231.50" cy="123.19" r="1.15" fill="#1f9e89"/>
<circle cx="233.62" cy="123.83" r="1.15" fill="#20a086"/>
<circle cx="229.27" cy="124.92" r="1.15" fill="#1a8f7e"/>
<circle cx="230.14" cy="121.62" r="1.15" fill="#20a086"/>
<circle cx="226.80" cy="121.76" r="1.15" fill="#1f9e89"/>
<circle cx="227.10" cy="126.05" r="1.15" fill="#20a086"/>
<circle cx="227.20" cy="124.30" r="1.15" fill="#1f9e89"/>
<circle cx="229.46" cy="122.01" r="1.15" fill="#1f9e89"/>
<circle cx="228.77" cy="125.74" r="1.15" fill="#178a78"/>
<circle cx="232.30" cy="123.71" r="1.15" fill="#20a086"/>
<circle cx="232.52" cy="124.05" r="1.15" fill="#178a78"/>
<circle cx="226.99" cy="126.04" r="1.15" fill="#178a78"/>
<circle cx="226.69" cy="124.24" r="1.15" fill="#1a8f7e"/>
<circle cx="227.87" cy="122.56" r="1.15" fill="#178a78"/>
<circle cx="229.46" cy="123.51" r="1.15" fill="#178a78"/>
<circle cx="229.26" cy="123.03" r="1.15" fill="#178a78"/>
<circle cx="228.74" cy="123.77" r="1.15" fill="#1a8f7e"/>
<circle cx="229.21" cy="124.67" r="1.15" fill="#178a78"/>
<circle cx="229.00" cy="124.83" r="1.15" fill="#1f9e89"/>
<circle cx="229.86" cy="123.08" r="1.15" fill="#20a086"/>
<circle cx="228.28" cy="124.85" r="1.15" fill="#20a086"/>
<circle cx="229.35" cy="122.95" r="1.15" fill="#1a8f7e"/>
<circle cx="226.72" cy="120.68" r="1.15" fill="#178a78"/>
<circle cx="230.10" cy="126.62" r="1.15" fill="#1a8f7e"/>
<circle cx="228.88" cy="122.07" r="1.15" fill="#1a8f7e"/>
<circle cx="227.38" cy="123.52" r="1.15" fill="#1f9e89"/>
<circle cx="230.16" cy="122.20" r="1.15" fill="#1a8f7e"/>
<circle cx="224.38" cy="124.38" r="1.15" fill="#20a086"/>
<circle cx="229.03" cy="125.08" r="1.15" fill="#1a8f7e"/>
<circle cx="230.03" cy="125.34" r="1.15" fill="#20a086"/>
<circle cx="226.86" cy="121.03" r="1.15" fill="#178a78"/>
<circle cx="224.38" cy="127.60" r="1.15" fill="#1a8f7e"/>
<circle cx="229.88" cy="125.54" r="1.15" fill="#1a8f7e"/>
<circle cx="229.67" cy="124.07" r="1.15" fill="#178a78"/>
<circle cx="229.35" cy="123.25" r="1.15" fill="#20a086"/>
<circle cx="224.38" cy="124.37" r="1.15" fill="#1a8f7e"/>
<circle cx="229.52" cy="125.82" r="1.15" fill="#1f9e89"/>
<circle cx="226.69" cy="127.04" r="1.15" fill="#178a78"/>
<circle cx="226.93" cy="126.62" r="1.15" fill="#1f9e89"/>
<circle cx="228.57" cy="125.61" r="1.15" fill="#178a78"/>
<circle cx="232.82" cy="153.63" r="1.15" fill="#178a78"/>
<circle cx="234.71" cy="157.03" r="1.15" fill="#178a78"/>
<circle cx="234.57" cy="154.96" r="1.15" fill="#178a78"/>
<circle cx="238.59" cy="154.50" r="1.15" fill="#1a8f7e"/>
<circle cx="235.23" cy="156.68" r="1.15" fill="#178a78"/>
<circle cx="239.36" cy="159.24" r="1.15" fill="#1a8f7e"/>
<circle cx="236.11" cy="154.39" r="1.15" fill="#20a086"/>
<circle cx="235.45" cy="154.80" r="1.15" fill="#178a78"/>
<circle cx="236.43" cy="155.43" r="1.15" fill="#20a086"/>
<circle cx="233.95" cy="152.97" r="1.15" fill="#20a086"/>
<circle cx="234.12" cy="152.93" r="1.15" fill="#1a8f7e"/>
<circle cx="236.62" cy="158.17" r="1.15" fill="#20a086"/>
<circle cx="235.21" cy="154.04" r="1.15" fill="#1f9e89"/>
<circle cx="237.28" cy="153.31" r="1.15" fill="#1a8f7e"/>
<circle cx="238.25" cy="153.35" r="1.15" fill="#178a78"/>
<circle cx="236.68" cy="154.13" r="1.15" fill="#178a78"/>
<circle cx="234.71" cy="154.35" r="1.15" fill="#178a78"/>
<circle cx="236.19" cy="155.53" r="1.15" fill="#1a8f7e"/>
<circle cx="233.66" cy="156.33" r="1.15" fill="#1a8f7e"/>
<circle cx="233.81" cy="155.04" r="1.15" fill="#1a8f7e"/>
<circle cx="236.28" cy="152.73" r="1.15" fill="#20a086"/>
<circle cx="235.71" cy="155.12" r="1.15" fill="#20a086"/>
<circle cx="232.22" cy="151.14" r="1.15" fill="#1f9e89"/>
<circle cx="234.17" cy="155.35" r="1.15" fill="#1a8f7e"/>
<circle cx="237.76" cy="156.24" r="1.15" fill="#1f9e89"/>
<circle cx="234.67" cy="153.34" r="1.15" fill="#1a8f7e"/>
<circle cx="235.63" cy="153.98" r="1.15" fill="#1a8f7e"/>
<circle cx="236.18" cy="156.10" r="1.15" fill="#20a086"/>
<circle cx="238.85" cy="155.39" r="1.15" fill="#1f9e89"/>
<circle cx="233.17" cy="156.11" r="1.15" fill="#1a8f7e"/>
<circle cx="234.01" cy="157.72" r="1.15" fill="#1f9e89"/>
<circle cx="235.90" cy="154.08" r="1.15" fill="#20a086"/>
<circle cx="232.22" cy="156.25" r="1.15" fill="#178a78"/>
<circle cx="236.51" cy="154.63" r="1.15" fill="#1a8f7e"/>
<circle cx="236.31" cy="155.03" r="1.15" fill="#1a8f7e"/>
<circle cx="234.81" cy="156.22" r="1.15" fill="#1f9e89"/>
<circle cx="239.30" cy="153.90" r="1.15" fill="#1a8f7e"/>
<circle cx="234.23" cy="159.62" r="1.15" fill="#20a086"/>
<circle cx="234.93" cy="155.25" r="1.15" fill="#1a8f7e"/>
<circle cx="234.31" cy="157.40" r="1.15" fill="#20a086"/>
<circle cx="232.91" cy="155.55" r="1.15" fill="#20a086"/>
<circle cx="238.97" cy="153.69" r="1.15" fill="#178a78"/>
<circle cx="235.83" cy="155.75" r="1.15" fill="#178a78"/>
<circle cx="237.98" cy="152.41" r="1.15" fill="#1a8f7e"/>
<circle cx="237.19" cy="152.40" r="1.15" fill="#178a78"/>
<circle cx="232.22" cy="151.95" r="1.15" fill="#1f9e89"/>
<circle cx="234.05" cy="157.34" r="1.15" fill="#1f9e89"/>
<circle cx="236.52" cy="153.32" r="1.15" fill="#1a8f7e"/>
<circle cx="235.38" cy="156.57" r="1.15" fill="#1f9e89"/>
<circle cx="233.17" cy="152.90" r="1.15" fill="#1a8f7e"/>
<circle cx="235.76" cy="156.18" r="1.15" fill="#1f9e89"/>
<circle cx="235.48" cy="159.25" r="1.15" fill="#20a086"/>
<circle cx="235.57" cy="155.76" r="1.15" fill="#20a086"/>
<circle cx="236.35" cy="153.59" r="1.15" fill="#1f9e89"/>
<circle cx="262.60" cy="53.18" r="1.15" fill="#20a086"/>
<circle cx="260.87" cy="52.86" r="1.15" fill="#178a78"/>
<circle cx="262.62" cy="52.47" r="1.15" fill="#20a086"/>
<circle cx="261.67" cy="52.79" r="1.15" fill="#178a78"/>
<circle cx="263.32" cy="51.30" r="1.15" fill="#178a78"/>
<circle cx="265.92" cy="51.15" r="1.15" fill="#20a086"/>
<circle cx="260.85" cy="52.55" r="1.15" fill="#1f9e89"/>
<circle cx="263.72" cy="53.66" r="1.15" fill="#178a78"/>
<circle cx="260.31" cy="54.36" r="1.15" fill="#20a086"/>
<circle cx="264.17" cy="49.11" r="1.15" fill="#1f9e89"/>
<circle cx="269.72" cy="54.30" r="1.15" fill="#178a78"/>
<circle cx="265.06" cy="51.31" r="1.15" fill="#20a086"/>
<circle cx="263.43" cy="51.58" r="1.15" fill="#1a8f7e"/>
<circle cx="260.82" cy="54.40" r="1.15" fill="#1a8f7e"/>
<circle cx="264.80" cy="53.28" r="1.15" fill="#20a086"/>
<circle cx="261.10" cy="51.95" r="1.15" fill="#178a78"/>
<circle cx="256.28" cy="54.55" r="1.15" fill="#1f9e89"/>
<circle cx="262.98" cy="53.10" r="1.15" fill="#1f9e89"/>
<circle cx="266.12" cy="52.54" r="1.15" fill="#1a8f7e"/>
<circle cx="266.88" cy="53.32" r="1.15" fill="#20a086"/>
<circle cx="256.84" cy="52.89" r="1.15" fill="#1a8f7e"/>
<circle cx="265.98" cy="50.65" r="1.15" fill="#1a8f7e"/>
<circle cx="262.62" cy="51.85" r="1.15" fill="#178a78"/>
<circle cx="258.79" cy="51.59" r="1.15" fill="#20a086"/>
<circle cx="265.56" cy="55.80" r="1.15" fill="#178a78"/>
<circle cx="269.72" cy="51.41" r="1.15" fill="#1f9e89"/>
<circle cx="266.59" cy="56.38" r="1.15" fill="#178a78"/>
<circle cx="266.78" cy="53.43" r="1.15" fill="#1a8f7e"/>
<circle cx="263.52" cy="52.12" r="1.15" fill="#20a086"/>
<circle cx="264.68" cy="52.95" r="1.15" fill="#1a8f7e"/>
<circle cx="267.47" cy="51.59" r="1.15" fill="#178a78"/>
<circle cx="260.08" cy="51.56" r="1.15" fill="#1a8f7e"/>
<circle cx="259.97" cy="52.92" r="1.15" fill="#20a086"/>
<circle cx="265.61" cy="54.05" r="1.15" fill="#1f9e89"/>
<circle cx="257.58" cy="53.78" r="1.15" fill="#1a8f7e"/>
<circle cx="256.28" cy="53.40" r="1.15" fill="#1a8f7e"/>
<circle cx="266.34" cy="55.44" r="1.15" fill="#1a8f7e"/>
<circle cx="268.88" cy="51.14" r="1.15" fill="#1f9e89"/>
<circle cx="264.43" cy="48.82" r="1.15" fill="#20a086"/>
<circle cx="265.47" cy="50.48" r="1.15" fill="#20a086"/>
<circle cx="265.78" cy="52.33" r="1.15" fill="#1f9e89"/>
<circle cx="258.54" cy="52.96" r="1.15" fill="#1f9e89"/>
<circle cx="260.43" cy="55.16" r="1.15" fill="#1f9e89"/>
<circle cx="262.08" cy="50.37" r="1.15" fill="#1f9e89"/>
<circle cx="261.31" cy="52.98" r="1.15" fill="#20a086"/>
<circle cx="261.42" cy="53.15" r="1.15" fill="#178a78"/>
<circle cx="260.58" cy="51.95" r="1.15" fill="#1f9e89"/>
<circle cx="262.90" cy="53.46" r="1.15" fill="#20a086"/>
<circle cx="264.29" cy="52.09" r="1.15" fill="#1a8f7e"/>
<circle cx="259.17" cy="50.28" r="1.15" fill="#1f9e89"/>
<circle cx="257.35" cy="51.34" r="1.15" fill="#1a8f7e"/>
<circle cx="262.89" cy="53.81" r="1.15" fill="#178a78"/>
<circle cx="260.73" cy="53.18" r="1.15" fill="#1f9e89"/>
<circle cx="264.29" cy="52.23" r="1.15" fill="#178a78"/>
<circle cx="261.36" cy="53.14" r="1.15" fill="#178a78"/>
<circle cx="265.82" cy="54.63" r="1.15" fill="#20a086"/>
<circle cx="264.02" cy="51.06" r="1.15" fill="#1f9e89"/>
<circle cx="257.71" cy="53.71" r="1.15" fill="#178a78"/>
<circle cx="264.34" cy="54.37" r="1.15" fill="#20a086"/>
<circle cx="263.83" cy="54.90" r="1.15" fill="#1f9e89"/>
<circle cx="265.15" cy="50.78" r="1.15" fill="#1f9e89"/>
<circle cx="262.49" cy="51.44" r="1.15" fill="#1a8f7e"/>
<circle cx="266.20" cy="49.28" r="1.15" fill="#20a086"/>
<circle cx="263.14" cy="51.49" r="1.15" fill="#1f9e89"/>
<circle cx="254.61" cy="118.35" r="1.15" fill="#1f9e89"/>
<circle cx="255.83" cy="120.13" r="1.15" fill="#1a8f7e"/>
<circle cx="256.14" cy="118.06" r="1.15" fill="#1a8f7e"/>
<circle cx="255.16" cy="120.72" r="1.15" fill="#178a78"/>
<circle cx="259.18" cy="116.64" r="1.15" fill="#20a086"/>
<circle cx="258.73" cy="122.43" r="1.15" fill="#20a086"/>
<circle cx="258.98" cy="123.86" r="1.15" fill="#1f9e89"/>
<circle cx="258.48" cy="125.52" r="1.15" fill="#178a78"/>
<circle cx="260.03" cy="121.92" r="1.15" fill="#1a8f7e"/>
<circle cx="254.13" cy="125.74" r="1.15" fill="#1a8f7e"/>
<circle cx="259.30" cy="123.83" r="1.15" fill="#178a78"/>
<circle cx="257.73" cy="115.85" r="1.15" fill="#1a8f7e"/>
<circle cx="256.75" cy="122.20" r="1.15" fill="#20a086"/>
<circle cx="256.57" cy="121.20" r="1.15" fill="#1f9e89"/>
<circle cx="261.20" cy="121.88" r="1.15" fill="#1f9e89"/>
<circle cx="256.11" cy="119.93" r="1.15" fill="#178a78"/>
<circle cx="256.99" cy="125.79" r="1.15" fill="#1a8f7e"/>
<circle cx="261.20" cy="121.72" r="1.15" fill="#1f9e89"/>
<circle cx="256.73" cy="125.94" r="1.15" fill="#20a086"/>
<circle cx="253.92" cy="120.42" r="1.15" fill="#1a8f7e"/>
<circle cx="256.47" cy="121.93" r="1.15" fill="#1f9e89"/>
<circle cx="257.98" cy="121.37" r="1.15" fill="#20a086"/>
<circle cx="254.10" cy="118.74" r="1.15" fill="#1a8f7e"/>
<circle cx="258.47" cy="122.84" r="1.15" fill="#1f9e89"/>
<circle cx="255.61" cy="120.52" r="1.15" fill="#1f9e89"/>
<circle cx="258.57" cy="123.71" r="1.15" fill="#20a086"/>
<circle cx="258.92" cy="125.17" r="1.15" fill="#20a086"/>
<circle cx="256.07" cy="117.71" r="1.15" fill="#1a8f7e"/>
<circle cx="253.23" cy="124.78" r="1.15" fill="#178a78"/>
<circle cx="256.22" cy="122.64" r="1.15" fill="#178a78"/>
<circle cx="256.17" cy="116.11" r="1.15" fill="#178a78"/>
<circle cx="258.54" cy="116.37" r="1.15" fill="#1a8f7e"/>
<circle cx="256.49" cy="122.31" r="1.15" fill="#178a78"/>
<circle cx="257.01" cy="123.72" r="1.15" fill="#1a8f7e"/>
<circle cx="255.38" cy="123.41" r="1.15" fill="#1a8f7e"/>
<circle cx="256.40" cy="122.55" r="1.15" fill="#1a8f7e"/>
<circle cx="257.32" cy="123.68" r="1.15" fill="#20a086"/>
<circle cx="257.78" cy="115.54" r="1.15" fill="#1a8f7e"/>
<circle cx="258.51" cy="115.97" r="1.15" fill="#1a8f7e"/>
<circle cx="259.80" cy="121.80" r="1.15" fill="#178a78"/>
<circle cx="259.43" cy="119.21" r="1.15" fill="#1a8f7e"/>
<circle cx="255.90" cy="119.64" r="1.15" fill="#1a8f7e"/>
<circle cx="252.80" cy="123.58" r="1.15" fill="#178a78"/>
<circle cx="258.40" cy="122.57" r="1.15" fill="#1f9e89"/>
<circle cx="258.95" cy="123.40" r="1.15" fill="#178a78"/>
<circle cx="259.30" cy="122.76" r="1.15" fill="#1f9e89"/>
<circle cx="254.77" cy="122.15" r="1.15" fill="#178a78"/>
<circle cx="259.26" cy="119.27" r="1.15" fill="#178a78"/>
<circle cx="257.04" cy="122.11" r="1.15" fill="#178a78"/>
<circle cx="258.47" cy="117.98" r="1.15" fill="#1f9e89"/>
<circle cx="256.21" cy="119.59" r="1.15" fill="#178a78"/>
<circle cx="254.56" cy="121.80" r="1.15" fill="#20a086"/>
<circle cx="255.31" cy="121.43" r="1.15" fill="#1f9e89"/>
<circle cx="256.35" cy="122.45" r="1.15" fill="#20a086"/>
<circle cx="254.08" cy="152.17" r="1.15" fill="#178a78"/>
<circle cx="254.62" cy="158.58" r="1.15" fill="#178a78"/>
<circle cx="250.34" cy="151.57" r="1.15" fill="#178a78"/>
<circle cx="253.21" cy="151.35" r="1.15" fill="#1a8f7e"/>
<circle cx="252.45" cy="151.07" r="1.15" fill="#1a8f7e"/>
<circle cx="250.99" cy="151.10" r="1.15" fill="#1a8f7e"/>
<circle cx="248.91" cy="152.13" r="1.15" fill="#178a78"/>
<circle cx="252.22" cy="151.36" r="1.15" fill="#1f9e89"/>
<circle cx="255.00" cy="152.42" r="1.15" fill="#1f9e89"/>
<circle cx="249.98" cy="154.78" r="1.15" fill="#1f9e89"/>
<circle cx="251.17" cy="149.24" r="1.15" fill="#178a78"/>
<circle cx="253.24" cy="149.65" r="1.15" fill="#20a086"/>
<circle cx="252.00" cy="156.62" r="1.15" fill="#1f9e89"/>
<circle cx="251.58" cy="153.38" r="1.15" fill="#20a086"/>
<circle cx="252.54" cy="149.00" r="1.15" fill="#20a086"/>
<circle cx="248.52" cy="157.99" r="1.15" fill="#1f9e89"/>
<circle cx="249.56" cy="155.12" r="1.15" fill="#1a8f7e"/>
<circle cx="250.86" cy="154.81" r="1.15" fill="#20a086"/>
<circle cx="251.90" cy="155.24" r="1.15" fill="#178a78"/>
<circle cx="250.53" cy="154.96" r="1.15" fill="#20a086"/>
<circle cx="252.17" cy="152.44" r="1.15" fill="#20a086"/>
<circle cx="251.19" cy="154.31" r="1.15" fill="#178a78"/>
<circle cx="252.93" cy="149.87" r="1.15" fill="#20a086"/>
<circle cx="251.63" cy="152.11" r="1.15" fill="#178a78"/>
<circle cx="250.75" cy="157.52" r="1.15" fill="#1f9e89"/>
<circle cx="253.48" cy="152.21" r="1.15" fill="#20a086"/>
<circle cx="255.79" cy="148.28" r="1.15" fill="#1a8f7e"/>
<circle cx="254.52" cy="153.76" r="1.15" fill="#20a086"/>
<circle cx="251.61" cy="156.00" r="1.15" fill="#178a78"/>
<circle cx="248.52" cy="150.30" r="1.15" fill="#20a086"/>
<circle cx="251.00" cy="154.39" r="1.15" fill="#178a78"/>
<circle cx="252.05" cy="152.82" r="1.15" fill="#1a8f7e"/>
<circle cx="251.49" cy="152.50" r="1.15" fill="#178a78"/>
<circle cx="249.70" cy="152.68" r="1.15" fill="#1f9e89"/>
<circle cx="255.69" cy="147.74" r="1.15" fill="#20a086"/>
<circle cx="249.79" cy="155.47" r="1.15" fill="#178a78"/>
<circle cx="251.23" cy="148.37" r="1.15" fill="#1a8f7e"/>
<circle cx="253.05" cy="154.85" r="1.15" fill="#1a8f7e"/>
<circle cx="253.29" cy="149.72" r="1.15" fill="#1a8f7e"/>
<circle cx="251.46" cy="150.76" r="1.15" fill="#178a78"/>
<circle cx="254.65" cy="146.82" r="1.15" fill="#20a086"/>
<circle cx="250.81" cy="150.20" r="1.15" fill="#1f9e89"/>
<circle cx="251.14" cy="152.64" r="1.15" fill="#1f9e89"/>
<circle cx="254.46" cy="154.03" r="1.15" fill="#1a8f7e"/>
<circle cx="248.84" cy="158.58" r="1.15" fill="#1a8f7e"/>
<circle cx="252.21" cy="152.32" r="1.15" fill="#1a8f7e"/>
<circle cx="251.34" cy="156.72" r="1.15" fill="#1a8f7e"/>
<circle cx="253.87" cy="151.30" r="1.15" fill="#1a8f7e"/>
<circle cx="250.01" cy="150.56" r="1.15" fill="#1f9e89"/>
<circle cx="253.70" cy="156.97" r="1.15" fill="#178a78"/>
<circle cx="254.94" cy="148.39" r="1.15" fill="#1f9e89"/>
<circle cx="250.65" cy="151.40" r="1.15" fill="#1a8f7e"/>
<circle cx="253.63" cy="155.38" r="1.15" fill="#1a8f7e"/>
<circle cx="253.00" cy="152.90" r="1.15" fill="#20a086"/>
<circle cx="298.83" cy="47.56" r="1.15" fill="#1a8f7e"/>
<circle cx="294.32" cy="47.56" r="1.15" fill="#178a78"/>
<circle cx="298.37" cy="48.65" r="1.15" fill="#178a78"/>
<circle cx="298.15" cy="48.71" r="1.15" fill="#1a8f7e"/>
<circle cx="301.62" cy="47.17" r="1.15" fill="#1a8f7e"/>
<circle cx="295.09" cy="48.83" r="1.15" fill="#20a086"/>
<circle cx="299.10" cy="48.35" r="1.15" fill="#20a086"/>
<circle cx="290.70" cy="47.55" r="1.15" fill="#20a086"/>
<circle cx="299.08" cy="48.45" r="1.15" fill="#1f9e89"/>
<circle cx="303.30" cy="48.68" r="1.15" fill="#1f9e89"/>
<circle cx="294.46" cy="49.48" r="1.15" fill="#20a086"/>
<circle cx="295.65" cy="49.07" r="1.15" fill="#20a086"/>
<circle cx="298.11" cy="48.27" r="1.15" fill="#20a086"/>
<circle cx="295.19" cy="47.59" r="1.15" fill="#20a086"/>
<circle cx="294.78" cy="49.44" r="1.15" fill="#20a086"/>
<circle cx="302.98" cy="48.47" r="1.15" fill="#1a8f7e"/>
<circle cx="298.31" cy="48.80" r="1.15" fill="#1f9e89"/>
<circle cx="303.20" cy="48.36" r="1.15" fill="#20a086"/>
<circle cx="295.63" cy="48.19" r="1.15" fill="#20a086"/>
<circle cx="294.76" cy="49.05" r="1.15" fill="#1a8f7e"/>
<circle cx="291.15" cy="48.92" r="1.15" fill="#1f9e89"/>
<circle cx="294.44" cy="48.74" r="1.15" fill="#178a78"/>
<circle cx="297.06" cy="48.46" r="1.15" fill="#1a8f7e"/>
<circle cx="296.05" cy="48.59" r="1.15" fill="#1f9e89"/>
<circle cx="298.99" cy="48.56" r="1.15" fill="#1f9e89"/>
<circle cx="293.83" cy="48.07" r="1.15" fill="#1f9e89"/>
<circle cx="298.51" cy="48.77" r="1.15" fill="#20a086"/>
<circle cx="291.59" cy="49.36" r="1.15" fill="#1f9e89"/>
<circle cx="296.00" cy="48.95" r="1.15" fill="#1f9e89"/>
<circle cx="297.47" cy="48.95" r="1.15" fill="#1f9e89"/>
<circle cx="303.30" cy="47.55" r="1.15" fill="#20a086"/>
<circle cx="294.55" cy="48.00" r="1.15" fill="#1f9e89"/>
<circle cx="294.05" cy="48.71" r="1.15" fill="#1f9e89"/>
<circle cx="298.07" cy="48.08" r="1.15" fill="#1a8f7e"/>
<circle cx="294.70" cy="48.17" r="1.15" fill="#20a086"/>
<circle cx="301.70" cy="48.47" r="1.15" fill="#1f9e89"/>
<circle cx="295.89" cy="48.85" r="1.15" fill="#1a8f7e"/>
<circle cx="295.23" cy="47.32" r="1.15" fill="#1f9e89"/>
<circle cx="295.09" cy="49.10" r="1.15" fill="#1a8f7e"/>
<circle cx="303.04" cy="48.85" r="1.15" fill="#178a78"/>
<circle cx="298.68" cy="49.19" r="1.15" fill="#1a8f7e"/>
<circle cx="297.23" cy="48.61" r="1.15" fill="#20a086"/>
<circle cx="296.38" cy="48.90" r="1.15" fill="#20a086"/>
<circle cx="291.41" cy="116.12" r="1.15" fill="#1f9e89"/>
<circle cx="292.11" cy="117.78" r="1.15" fill="#178a78"/>
<circle cx="288.73" cy="116.77" r="1.15" fill="#178a78"/>
<circle cx="291.01" cy="117.87" r="1.15" fill="#20a086"/>
<circle cx="290.55" cy="119.78" r="1.15" fill="#178a78"/>
<circle cx="291.55" cy="117.77" r="1.15" fill="#178a78"/>
<circle cx="295.13" cy="119.35" r="1.15" fill="#1f9e89"/>
<circle cx="290.31" cy="117.74" r="1.15" fill="#1a8f7e"/>
<circle cx="288.19" cy="117.38" r="1.15" fill="#178a78"/>
<circle cx="293.05" cy="119.25" r="1.15" fill="#178a78"/>
<circle cx="285.92" cy="116.41" r="1.15" fill="#1f9e89"/>
<circle cx="286.48" cy="117.38" r="1.15" fill="#178a78"/>
<circle cx="294.22" cy="117.38" r="1.15" fill="#178a78"/>
<circle cx="291.75" cy="117.82" r="1.15" fill="#178a78"/>
<circle cx="295.14" cy="116.91" r="1.15" fill="#1a8f7e"/>
<circle cx="294.68" cy="117.77" r="1.15" fill="#1a8f7e"/>
<circle cx="291.00" cy="117.39" r="1.15" fill="#178a78"/>
<circle cx="290.50" cy="117.61" r="1.15" fill="#20a086"/>
<circle cx="294.37" cy="117.98" r="1.15" fill="#1f9e89"/>
<circle cx="290.26" cy="118.39" r="1.15" fill="#20a086"/>
<circle cx="288.11" cy="118.30" r="1.15" fill="#20a086"/>
<circle cx="286.30" cy="117.92" r="1.15" fill="#1f9e89"/>
<circle cx="287.48" cy="118.48" r="1.15" fill="#1f9e89"/>
<circle cx="288.69" cy="118.04" r="1.15" fill="#178a78"/>
<circle cx="291.26" cy="118.49" r="1.15" fill="#1f9e89"/>
<circle cx="288.46" cy="117.81" r="1.15" fill="#1a8f7e"/>
<circle cx="291.77" cy="118.74" r="1.15" fill="#1a8f7e"/>
<circle cx="291.23" cy="118.76" r="1.15" fill="#1f9e89"/>
<circle cx="289.24" cy="117.02" r="1.15" fill="#20a086"/>
<circle cx="290.66" cy="118.68" r="1.15" fill="#20a086"/>
<circle cx="293.19" cy="118.98" r="1.15" fill="#178a78"/>
<circle cx="293.44" cy="119.07" r="1.15" fill="#1f9e89"/>
<circle cx="287.92" cy="119.46" r="1.15" fill="#20a086"/>
<circle cx="290.61" cy="117.44" r="1.15" fill="#1f9e89"/>
<circle cx="287.97" cy="117.41" r="1.15" fill="#20a086"/>
<circle cx="291.17" cy="117.60" r="1.15" fill="#178a78"/>
<circle cx="293.72" cy="118.08" r="1.15" fill="#1a8f7e"/>
<circle cx="292.61" cy="118.28" r="1.15" fill="#1f9e89"/>
<circle cx="292.35" cy="118.51" r="1.15" fill="#1a8f7e"/>
<circle cx="292.11" cy="118.85" r="1.15" fill="#178a78"/>
<circle cx="289.62" cy="119.14" r="1.15" fill="#1a8f7e"/>
<circle cx="296.38" cy="118.19" r="1.15" fill="#20a086"/>
<circle cx="294.34" cy="118.74" r="1.15" fill="#178a78"/>
<circle cx="293.02" cy="118.67" r="1.15" fill="#20a086"/>
<circle cx="285.61" cy="118.12" r="1.15" fill="#178a78"/>
<circle cx="296.38" cy="118.11" r="1.15" fill="#178a78"/>
<circle cx="283.45" cy="152.95" r="1.15" fill="#178a78"/>
<circle cx="285.12" cy="154.04" r="1.15" fill="#1a8f7e"/>
<circle cx="286.59" cy="154.43" r="1.15" fill="#1f9e89"/>
<circle cx="285.18" cy="154.79" r="1.15" fill="#1f9e89"/>
<circle cx="286.93" cy="155.06" r="1.15" fill="#178a78"/>
<circle cx="285.35" cy="153.59" r="1.15" fill="#1f9e89"/>
<circle cx="284.72" cy="153.70" r="1.15" fill="#1f9e89"/>
<circle cx="284.37" cy="155.04" r="1.15" fill="#178a78"/>
<circle cx="285.88" cy="153.78" r="1.15" fill="#1a8f7e"/>
<circle cx="286.90" cy="154.57" r="1.15" fill="#20a086"/>
<circle cx="287.79" cy="153.22" r="1.15" fill="#20a086"/>
<circle cx="283.68" cy="154.90" r="1.15" fill="#178a78"/>
<circle cx="284.05" cy="153.63" r="1.15" fill="#1f9e89"/>
<circle cx="285.13" cy="153.86" r="1.15" fill="#20a086"/>
<circle cx="284.61" cy="153.69" r="1.15" fill="#1a8f7e"/>
<circle cx="286.21" cy="153.56" r="1.15" fill="#1f9e89"/>
<circle cx="285.38" cy="154.24" r="1.15" fill="#20a086"/>
<circle cx="285.69" cy="154.54" r="1.15" fill="#1a8f7e"/>
<circle cx="284.15" cy="154.22" r="1.15" fill="#178a78"/>
<circle cx="285.55" cy="154.34" r="1.15" fill="#1f9e89"/>
<circle cx="285.99" cy="154.03" r="1.15" fill="#178a78"/>
<circle cx="287.57" cy="154.34" r="1.15" fill="#178a78"/>
<circle cx="284.17" cy="153.93" r="1.15" fill="#178a78"/>
<circle cx="284.14" cy="154.21" r="1.15" fill="#1f9e89"/>
<circle cx="287.92" cy="153.97" r="1.15" fill="#1a8f7e"/>
<circle cx="285.56" cy="154.04" r="1.15" fill="#178a78"/>
<circle cx="284.62" cy="153.87" r="1.15" fill="#20a086"/>
<circle cx="294.42" cy="152.03" r="1.15" fill="#1f9e89"/>
<circle cx="292.64" cy="153.00" r="1.15" fill="#1a8f7e"/>
<circle cx="293.53" cy="151.84" r="1.15" fill="#20a086"/>
<circle cx="292.74" cy="151.88" r="1.15" fill="#178a78"/>
<circle cx="290.27" cy="151.65" r="1.15" fill="#178a78"/>
<circle cx="291.35" cy="152.11" r="1.15" fill="#20a086"/>
<circle cx="292.94" cy="152.87" r="1.15" fill="#1f9e89"/>
<circle cx="292.39" cy="152.18" r="1.15" fill="#178a78"/>
<circle cx="292.51" cy="151.88" r="1.15" fill="#178a78"/>
<circle cx="292.76" cy="151.74" r="1.15" fill="#20a086"/>
<circle cx="293.25" cy="153.33" r="1.15" fill="#1a8f7e"/>
<circle cx="292.74" cy="150.62" r="1.15" fill="#1a8f7e"/>
<circle cx="294.17" cy="151.33" r="1.15" fill="#20a086"/>
<circle cx="294.02" cy="153.01" r="1.15" fill="#1a8f7e"/>
<circle cx="290.69" cy="150.85" r="1.15" fill="#1a8f7e"/>
<circle cx="291.08" cy="152.60" r="1.15" fill="#1f9e89"/>
<circle cx="293.83" cy="152.20" r="1.15" fill="#20a086"/>
<circle cx="293.11" cy="151.87" r="1.15" fill="#1a8f7e"/>
<circle cx="292.67" cy="152.44" r="1.15" fill="#1a8f7e"/>
<circle cx="294.74" cy="152.40" r="1.15" fill="#1f9e89"/>
<circle cx="292.36" cy="152.40" r="1.15" fill="#1f9e89"/>
<circle cx="290.57" cy="153.05" r="1.15" fill="#1f9e89"/>
<circle cx="290.32" cy="151.61" r="1.15" fill="#178a78"/>
<circle cx="294.06" cy="153.45" r="1.15" fill="#178a78"/>
<circle cx="293.71" cy="151.07" r="1.15" fill="#1a8f7e"/>
<circle cx="293.30" cy="151.94" r="1.15" fill="#178a78"/>
<circle cx="291.42" cy="152.22" r="1.15" fill="#178a78"/>
<text transform="translate(199.00,62.50) rotate(-5)" x="0" y="1.98" font-size="5.5" fill="#555" stroke="#555" stroke-width="0.147" text-anchor="middle">40</text>
<text transform="translate(203.50,84.00) rotate(-15)" x="0" y="1.98" font-size="5.5" fill="#555" stroke="#555" stroke-width="0.147" text-anchor="middle">35</text>
<text transform="translate(207.00,101.40) rotate(-30)" x="0" y="1.98" font-size="5.5" fill="#555" stroke="#555" stroke-width="0.147" text-anchor="middle">30</text>
<text transform="translate(211.00,117.50) rotate(-50)" x="0" y="1.98" font-size="5.5" fill="#555" stroke="#555" stroke-width="0.147" text-anchor="middle">25</text>
<text transform="translate(213.50,131.50) rotate(-45)" x="0" y="1.98" font-size="5.5" fill="#555" stroke="#555" stroke-width="0.147" text-anchor="middle">20</text>
<text transform="translate(216.50,144.60) rotate(-45)" x="0" y="1.98" font-size="5.5" fill="#555" stroke="#555" stroke-width="0.147" text-anchor="middle">15</text>
<text transform="translate(198.00,116.50) rotate(-100)" x="0" y="2.27" font-size="6.3" fill="#333" stroke="#333" stroke-width="0.168" text-anchor="middle">Day</text>
<text transform="translate(217.50,153.00) rotate(60)" x="0" y="1.80" font-size="5.0" fill="#444" stroke="#444" stroke-width="0.133" text-anchor="middle">5</text>
<text transform="translate(219.56,156.67) rotate(60)" x="0" y="1.80" font-size="5.0" fill="#444" stroke="#444" stroke-width="0.133" text-anchor="middle">4</text>
<text transform="translate(221.61,160.33) rotate(60)" x="0" y="1.80" font-size="5.0" fill="#444" stroke="#444" stroke-width="0.133" text-anchor="middle">3</text>
<text transform="translate(223.67,164.00) rotate(60)" x="0" y="1.80" font-size="5.0" fill="#444" stroke="#444" stroke-width="0.133" text-anchor="middle">2</text>
<text transform="translate(225.72,167.67) rotate(60)" x="0" y="1.80" font-size="5.0" fill="#444" stroke="#444" stroke-width="0.133" text-anchor="middle">1</text>
<text transform="translate(227.78,171.33) rotate(60)" x="0" y="1.80" font-size="5.0" fill="#444" stroke="#444" stroke-width="0.133" text-anchor="middle">0</text>
<text transform="translate(229.83,175.00) rotate(60)" x="0" y="1.80" font-size="5.0" fill="#444" stroke="#444" stroke-width="0.133" text-anchor="middle">-1</text>
<text transform="translate(231.89,178.67) rotate(60)" x="0" y="1.80" font-size="5.0" fill="#444" stroke="#444" stroke-width="0.133" text-anchor="middle">-2</text>
<text transform="translate(233.94,182.33) rotate(60)" x="0" y="1.80" font-size="5.0" fill="#444" stroke="#444" stroke-width="0.133" text-anchor="middle">-3</text>
<text transform="translate(236.00,186.00) rotate(60)" x="0" y="1.80" font-size="5.0" fill="#444" stroke="#444" stroke-width="0.133" text-anchor="middle">-4</text>
<text transform="translate(217.00,174.50) rotate(57)" x="0" y="2.30" font-size="6.4" fill="#333" stroke="#333" stroke-width="0.171" text-anchor="middle">UMAP2</text>
<text transform="translate(299.00,158.00) rotate(55)" x="0" y="2.02" font-size="5.6" fill="#555" stroke="#555" stroke-width="0.149" text-anchor="middle">10</text>
<text transform="translate(287.00,165.00) rotate(55)" x="0" y="2.02" font-size="5.6" fill="#555" stroke="#555" stroke-width="0.149" text-anchor="middle">5</text>
<text transform="translate(275.00,172.00) rotate(55)" x="0" y="2.02" font-size="5.6" fill="#555" stroke="#555" stroke-width="0.149" text-anchor="middle">0</text>
<text transform="translate(262.00,182.00) rotate(55)" x="0" y="2.02" font-size="5.6" fill="#555" stroke="#555" stroke-width="0.149" text-anchor="middle">-5</text>
<text transform="translate(281.50,178.50) rotate(-38)" x="0" y="2.38" font-size="6.6" fill="#333" stroke="#333" stroke-width="0.176" text-anchor="middle">UMAP1</text>
<line x1="407" y1="38" x2="407" y2="152" stroke="#d6d6d6" stroke-width="0.6"/>
<line x1="357.5" y1="46" x2="379.5" y2="171" stroke="#f2f2f2" stroke-width="0.5"/>
<line x1="437.5" y1="44" x2="431.5" y2="156" stroke="#f2f2f2" stroke-width="0.5"/>
<line x1="366.5" y1="46" x2="385.5" y2="171" stroke="#f2f2f2" stroke-width="0.5"/>
<line x1="443.5" y1="44" x2="437.5" y2="156" stroke="#f2f2f2" stroke-width="0.5"/>
<line x1="375.5" y1="46" x2="391.5" y2="171" stroke="#f2f2f2" stroke-width="0.5"/>
<line x1="449.5" y1="44" x2="443.5" y2="156" stroke="#f2f2f2" stroke-width="0.5"/>
<line x1="384.5" y1="46" x2="397.5" y2="171" stroke="#f2f2f2" stroke-width="0.5"/>
<line x1="455.5" y1="44" x2="449.5" y2="156" stroke="#f2f2f2" stroke-width="0.5"/>
<line x1="393.5" y1="46" x2="403.5" y2="171" stroke="#f2f2f2" stroke-width="0.5"/>
<line x1="461.5" y1="44" x2="455.5" y2="156" stroke="#f2f2f2" stroke-width="0.5"/>
<line x1="402.5" y1="46" x2="409.5" y2="171" stroke="#f2f2f2" stroke-width="0.5"/>
<line x1="467.5" y1="44" x2="461.5" y2="156" stroke="#f2f2f2" stroke-width="0.5"/>
<line x1="362.5" y1="66" x2="404.5" y2="54" stroke="#f2f2f2" stroke-width="0.5"/>
<line x1="362.5" y1="81" x2="404.5" y2="69" stroke="#f2f2f2" stroke-width="0.5"/>
<line x1="362.5" y1="96" x2="404.5" y2="84" stroke="#f2f2f2" stroke-width="0.5"/>
<line x1="362.5" y1="111" x2="404.5" y2="99" stroke="#f2f2f2" stroke-width="0.5"/>
<line x1="362.5" y1="126" x2="404.5" y2="114" stroke="#f2f2f2" stroke-width="0.5"/>
<line x1="362.5" y1="141" x2="404.5" y2="129" stroke="#f2f2f2" stroke-width="0.5"/>
<line x1="362.5" y1="156" x2="404.5" y2="144" stroke="#f2f2f2" stroke-width="0.5"/>
<line x1="397" y1="171" x2="434.6" y2="141" stroke="#dedede" stroke-width="0.6"/>
<line x1="419" y1="156.5" x2="438.5" y2="171" stroke="#dedede" stroke-width="0.6"/>
<line x1="407" y1="152" x2="465" y2="134" stroke="#dedede" stroke-width="0.6"/>
<g filter="url(#soft)" opacity="0.9">
<polygon points="370.5,68 380.5,68 405.55,157 397.05,157" fill="#dedede"/>
<line x1="374.50" y1="68" x2="400.45" y2="157" stroke="#b4b4b4" stroke-width="1.6"/>
</g>
<line x1="371.30" y1="68" x2="397.73" y2="157" stroke="#cfcfcf" stroke-width="0.6" opacity="0.9"/>
<line x1="379.70" y1="68" x2="404.87" y2="157" stroke="#d6d6d6" stroke-width="0.6" opacity="0.9"/>
<g filter="url(#soft)" opacity="0.9">
<polygon points="423.75,62 432.25,62 420.75,153 413.25,153" fill="#dedede"/>
<line x1="427.15" y1="62" x2="416.25" y2="153" stroke="#b4b4b4" stroke-width="1.6"/>
</g>
<line x1="424.43" y1="62" x2="413.85" y2="153" stroke="#cfcfcf" stroke-width="0.6" opacity="0.9"/>
<line x1="431.57" y1="62" x2="420.15" y2="153" stroke="#d6d6d6" stroke-width="0.6" opacity="0.9"/>
<g filter="url(#soft)" opacity="0.7">
<polygon points="455.25,55 460.75,55 452.75,152 447.25,152" fill="#dedede"/>
<line x1="457.45" y1="55" x2="449.45" y2="152" stroke="#b4b4b4" stroke-width="1.6"/>
</g>
<line x1="455.69" y1="55" x2="447.69" y2="152" stroke="#cfcfcf" stroke-width="0.6" opacity="0.7"/>
<line x1="460.31" y1="55" x2="452.31" y2="152" stroke="#d6d6d6" stroke-width="0.6" opacity="0.7"/>
<g filter="url(#soft)" opacity="0.7">
<polygon points="461.75,55 467.25,55 459.25,151 453.75,151" fill="#dedede"/>
<line x1="463.95" y1="55" x2="455.95" y2="151" stroke="#b4b4b4" stroke-width="1.6"/>
</g>
<line x1="462.19" y1="55" x2="454.19" y2="151" stroke="#cfcfcf" stroke-width="0.6" opacity="0.7"/>
<line x1="466.81" y1="55" x2="458.81" y2="151" stroke="#d6d6d6" stroke-width="0.6" opacity="0.7"/>
<circle cx="374.46" cy="66.53" r="1.15" fill="#20928c"/>
<circle cx="377.26" cy="68.18" r="1.15" fill="#1f8a8a"/>
<circle cx="380.06" cy="67.75" r="1.15" fill="#1a8f86"/>
<circle cx="374.55" cy="68.05" r="1.15" fill="#22808a"/>
<circle cx="380.06" cy="67.64" r="1.15" fill="#22808a"/>
<circle cx="375.00" cy="67.22" r="1.15" fill="#1f8a8a"/>
<circle cx="376.40" cy="67.55" r="1.15" fill="#1a8f86"/>
<circle cx="372.57" cy="66.56" r="1.15" fill="#22808a"/>
<circle cx="376.39" cy="65.17" r="1.15" fill="#20928c"/>
<circle cx="370.74" cy="66.41" r="1.15" fill="#20928c"/>
<circle cx="375.01" cy="66.92" r="1.15" fill="#20928c"/>
<circle cx="377.60" cy="66.94" r="1.15" fill="#22808a"/>
<circle cx="377.86" cy="64.94" r="1.15" fill="#1f8a8a"/>
<circle cx="377.83" cy="68.01" r="1.15" fill="#22808a"/>
<circle cx="378.35" cy="63.64" r="1.15" fill="#22808a"/>
<circle cx="370.46" cy="69.02" r="1.15" fill="#1f8a8a"/>
<circle cx="372.55" cy="68.50" r="1.15" fill="#20928c"/>
<circle cx="377.33" cy="65.68" r="1.15" fill="#1f8a8a"/>
<circle cx="375.76" cy="69.87" r="1.15" fill="#22808a"/>
<circle cx="373.17" cy="68.57" r="1.15" fill="#20928c"/>
<circle cx="373.68" cy="68.33" r="1.15" fill="#22808a"/>
<circle cx="374.33" cy="67.28" r="1.15" fill="#22808a"/>
<circle cx="377.14" cy="65.46" r="1.15" fill="#1a8f86"/>
<circle cx="374.39" cy="66.12" r="1.15" fill="#22808a"/>
<circle cx="374.15" cy="68.86" r="1.15" fill="#20928c"/>
<circle cx="372.49" cy="68.64" r="1.15" fill="#1a8f86"/>
<circle cx="375.28" cy="66.98" r="1.15" fill="#1f8a8a"/>
<circle cx="377.72" cy="65.02" r="1.15" fill="#1f8a8a"/>
<circle cx="373.22" cy="67.99" r="1.15" fill="#1a8f86"/>
<circle cx="378.88" cy="64.29" r="1.15" fill="#1f8a8a"/>
<circle cx="373.13" cy="69.56" r="1.15" fill="#20928c"/>
<circle cx="370.91" cy="66.87" r="1.15" fill="#20928c"/>
<circle cx="377.48" cy="65.18" r="1.15" fill="#20928c"/>
<circle cx="376.79" cy="67.54" r="1.15" fill="#20928c"/>
<circle cx="377.98" cy="65.13" r="1.15" fill="#20928c"/>
<circle cx="378.32" cy="65.20" r="1.15" fill="#20928c"/>
<circle cx="375.63" cy="67.88" r="1.15" fill="#22808a"/>
<circle cx="372.44" cy="67.90" r="1.15" fill="#20928c"/>
<circle cx="377.72" cy="66.09" r="1.15" fill="#1a8f86"/>
<circle cx="373.89" cy="68.30" r="1.15" fill="#20928c"/>
<circle cx="376.11" cy="67.46" r="1.15" fill="#1f8a8a"/>
<circle cx="372.69" cy="66.31" r="1.15" fill="#20928c"/>
<circle cx="377.04" cy="66.88" r="1.15" fill="#22808a"/>
<circle cx="373.54" cy="63.64" r="1.15" fill="#22808a"/>
<circle cx="373.92" cy="67.90" r="1.15" fill="#20928c"/>
<circle cx="370.40" cy="66.22" r="1.15" fill="#20928c"/>
<circle cx="374.64" cy="67.32" r="1.15" fill="#1f8a8a"/>
<circle cx="373.20" cy="67.63" r="1.15" fill="#20928c"/>
<circle cx="377.07" cy="65.26" r="1.15" fill="#1a8f86"/>
<circle cx="374.65" cy="67.55" r="1.15" fill="#1a8f86"/>
<circle cx="373.75" cy="66.61" r="1.15" fill="#20928c"/>
<circle cx="374.55" cy="66.84" r="1.15" fill="#20928c"/>
<circle cx="369.44" cy="66.25" r="1.15" fill="#20928c"/>
<circle cx="376.19" cy="66.49" r="1.15" fill="#20928c"/>
<circle cx="375.01" cy="66.72" r="1.15" fill="#22808a"/>
<circle cx="371.35" cy="68.35" r="1.15" fill="#20928c"/>
<circle cx="376.97" cy="69.84" r="1.15" fill="#1f8a8a"/>
<circle cx="377.66" cy="68.15" r="1.15" fill="#22808a"/>
<circle cx="377.22" cy="66.88" r="1.15" fill="#22808a"/>
<circle cx="375.02" cy="66.74" r="1.15" fill="#20928c"/>
<circle cx="369.14" cy="65.14" r="1.15" fill="#1f8a8a"/>
<circle cx="371.08" cy="68.28" r="1.15" fill="#20928c"/>
<circle cx="374.88" cy="67.26" r="1.15" fill="#1a8f86"/>
<circle cx="377.37" cy="69.13" r="1.15" fill="#1f8a8a"/>
<circle cx="392.57" cy="132.62" r="1.15" fill="#20928c"/>
<circle cx="390.90" cy="130.29" r="1.15" fill="#1a8f86"/>
<circle cx="392.21" cy="128.51" r="1.15" fill="#20928c"/>
<circle cx="394.42" cy="134.03" r="1.15" fill="#22808a"/>
<circle cx="394.35" cy="127.21" r="1.15" fill="#20928c"/>
<circle cx="392.24" cy="128.74" r="1.15" fill="#22808a"/>
<circle cx="391.88" cy="130.24" r="1.15" fill="#20928c"/>
<circle cx="394.22" cy="131.22" r="1.15" fill="#22808a"/>
<circle cx="397.54" cy="133.35" r="1.15" fill="#20928c"/>
<circle cx="395.98" cy="133.51" r="1.15" fill="#22808a"/>
<circle cx="394.04" cy="130.05" r="1.15" fill="#1f8a8a"/>
<circle cx="393.13" cy="130.21" r="1.15" fill="#1a8f86"/>
<circle cx="392.57" cy="130.53" r="1.15" fill="#20928c"/>
<circle cx="393.60" cy="126.38" r="1.15" fill="#1a8f86"/>
<circle cx="391.80" cy="130.64" r="1.15" fill="#1a8f86"/>
<circle cx="389.56" cy="132.57" r="1.15" fill="#1a8f86"/>
<circle cx="392.55" cy="129.47" r="1.15" fill="#22808a"/>
<circle cx="391.94" cy="131.48" r="1.15" fill="#1f8a8a"/>
<circle cx="397.04" cy="133.24" r="1.15" fill="#1f8a8a"/>
<circle cx="395.85" cy="126.44" r="1.15" fill="#20928c"/>
<circle cx="396.88" cy="132.04" r="1.15" fill="#22808a"/>
<circle cx="395.94" cy="129.82" r="1.15" fill="#1a8f86"/>
<circle cx="394.48" cy="131.09" r="1.15" fill="#22808a"/>
<circle cx="394.12" cy="133.06" r="1.15" fill="#20928c"/>
<circle cx="394.20" cy="127.85" r="1.15" fill="#20928c"/>
<circle cx="396.05" cy="129.22" r="1.15" fill="#1a8f86"/>
<circle cx="388.96" cy="131.73" r="1.15" fill="#20928c"/>
<circle cx="395.25" cy="130.66" r="1.15" fill="#20928c"/>
<circle cx="393.56" cy="132.93" r="1.15" fill="#22808a"/>
<circle cx="395.26" cy="129.80" r="1.15" fill="#20928c"/>
<circle cx="392.67" cy="128.29" r="1.15" fill="#22808a"/>
<circle cx="394.19" cy="131.70" r="1.15" fill="#1a8f86"/>
<circle cx="396.33" cy="128.12" r="1.15" fill="#1f8a8a"/>
<circle cx="394.89" cy="126.69" r="1.15" fill="#1a8f86"/>
<circle cx="392.79" cy="131.48" r="1.15" fill="#20928c"/>
<circle cx="392.28" cy="127.35" r="1.15" fill="#1a8f86"/>
<circle cx="394.33" cy="130.95" r="1.15" fill="#20928c"/>
<circle cx="396.29" cy="133.92" r="1.15" fill="#1f8a8a"/>
<circle cx="394.02" cy="128.54" r="1.15" fill="#22808a"/>
<circle cx="395.84" cy="132.08" r="1.15" fill="#22808a"/>
<circle cx="398.94" cy="126.85" r="1.15" fill="#1f8a8a"/>
<circle cx="392.62" cy="130.25" r="1.15" fill="#1f8a8a"/>
<circle cx="396.77" cy="131.61" r="1.15" fill="#1a8f86"/>
<circle cx="390.69" cy="129.46" r="1.15" fill="#1f8a8a"/>
<circle cx="398.85" cy="132.39" r="1.15" fill="#1f8a8a"/>
<circle cx="394.88" cy="130.23" r="1.15" fill="#22808a"/>
<circle cx="396.88" cy="130.51" r="1.15" fill="#1f8a8a"/>
<circle cx="395.58" cy="134.02" r="1.15" fill="#1a8f86"/>
<circle cx="391.98" cy="128.95" r="1.15" fill="#1f8a8a"/>
<circle cx="389.49" cy="130.21" r="1.15" fill="#1f8a8a"/>
<circle cx="393.02" cy="132.24" r="1.15" fill="#1a8f86"/>
<circle cx="393.78" cy="129.26" r="1.15" fill="#1a8f86"/>
<circle cx="395.89" cy="131.17" r="1.15" fill="#1f8a8a"/>
<circle cx="394.25" cy="131.65" r="1.15" fill="#20928c"/>
<circle cx="393.77" cy="132.94" r="1.15" fill="#1f8a8a"/>
<circle cx="392.28" cy="128.74" r="1.15" fill="#20928c"/>
<circle cx="391.50" cy="126.38" r="1.15" fill="#20928c"/>
<circle cx="392.31" cy="132.14" r="1.15" fill="#22808a"/>
<circle cx="392.98" cy="131.85" r="1.15" fill="#22808a"/>
<circle cx="397.19" cy="128.31" r="1.15" fill="#1f8a8a"/>
<circle cx="394.19" cy="133.59" r="1.15" fill="#20928c"/>
<circle cx="400.07" cy="153.86" r="1.15" fill="#1a8f86"/>
<circle cx="402.78" cy="154.35" r="1.15" fill="#1f8a8a"/>
<circle cx="403.43" cy="154.00" r="1.15" fill="#1f8a8a"/>
<circle cx="398.97" cy="159.21" r="1.15" fill="#22808a"/>
<circle cx="399.47" cy="156.87" r="1.15" fill="#1f8a8a"/>
<circle cx="398.17" cy="158.07" r="1.15" fill="#22808a"/>
<circle cx="398.36" cy="157.30" r="1.15" fill="#22808a"/>
<circle cx="401.60" cy="160.87" r="1.15" fill="#22808a"/>
<circle cx="400.81" cy="158.19" r="1.15" fill="#20928c"/>
<circle cx="398.79" cy="155.15" r="1.15" fill="#20928c"/>
<circle cx="404.84" cy="159.37" r="1.15" fill="#1a8f86"/>
<circle cx="404.63" cy="155.62" r="1.15" fill="#20928c"/>
<circle cx="403.39" cy="156.03" r="1.15" fill="#20928c"/>
<circle cx="398.82" cy="157.12" r="1.15" fill="#1a8f86"/>
<circle cx="402.11" cy="157.50" r="1.15" fill="#20928c"/>
<circle cx="398.64" cy="157.06" r="1.15" fill="#20928c"/>
<circle cx="401.40" cy="158.97" r="1.15" fill="#22808a"/>
<circle cx="403.64" cy="162.54" r="1.15" fill="#1f8a8a"/>
<circle cx="400.39" cy="159.55" r="1.15" fill="#22808a"/>
<circle cx="402.21" cy="158.47" r="1.15" fill="#20928c"/>
<circle cx="399.82" cy="159.12" r="1.15" fill="#20928c"/>
<circle cx="400.40" cy="157.80" r="1.15" fill="#22808a"/>
<circle cx="400.70" cy="160.03" r="1.15" fill="#1f8a8a"/>
<circle cx="398.92" cy="158.36" r="1.15" fill="#1a8f86"/>
<circle cx="401.37" cy="156.13" r="1.15" fill="#1a8f86"/>
<circle cx="399.51" cy="159.66" r="1.15" fill="#1a8f86"/>
<circle cx="399.38" cy="155.46" r="1.15" fill="#22808a"/>
<circle cx="401.25" cy="160.56" r="1.15" fill="#1f8a8a"/>
<circle cx="400.61" cy="157.14" r="1.15" fill="#1a8f86"/>
<circle cx="400.34" cy="160.32" r="1.15" fill="#20928c"/>
<circle cx="401.24" cy="159.38" r="1.15" fill="#22808a"/>
<circle cx="403.93" cy="159.35" r="1.15" fill="#1f8a8a"/>
<circle cx="401.99" cy="159.90" r="1.15" fill="#20928c"/>
<circle cx="399.73" cy="155.94" r="1.15" fill="#1f8a8a"/>
<circle cx="400.87" cy="155.22" r="1.15" fill="#1f8a8a"/>
<circle cx="400.87" cy="155.55" r="1.15" fill="#22808a"/>
<circle cx="398.57" cy="158.88" r="1.15" fill="#20928c"/>
<circle cx="400.00" cy="159.39" r="1.15" fill="#1a8f86"/>
<circle cx="402.58" cy="156.79" r="1.15" fill="#20928c"/>
<circle cx="402.67" cy="158.13" r="1.15" fill="#1f8a8a"/>
<circle cx="403.39" cy="158.75" r="1.15" fill="#22808a"/>
<circle cx="398.76" cy="157.05" r="1.15" fill="#1f8a8a"/>
<circle cx="403.51" cy="159.44" r="1.15" fill="#22808a"/>
<circle cx="400.59" cy="155.05" r="1.15" fill="#22808a"/>
<circle cx="401.66" cy="158.29" r="1.15" fill="#22808a"/>
<circle cx="398.67" cy="157.66" r="1.15" fill="#1f8a8a"/>
<circle cx="399.57" cy="154.04" r="1.15" fill="#22808a"/>
<circle cx="396.68" cy="156.08" r="1.15" fill="#20928c"/>
<circle cx="397.75" cy="156.14" r="1.15" fill="#22808a"/>
<circle cx="402.45" cy="158.65" r="1.15" fill="#1f8a8a"/>
<circle cx="400.95" cy="157.32" r="1.15" fill="#22808a"/>
<circle cx="404.43" cy="159.61" r="1.15" fill="#22808a"/>
<circle cx="404.43" cy="158.73" r="1.15" fill="#20928c"/>
<circle cx="400.57" cy="157.59" r="1.15" fill="#22808a"/>
<circle cx="401.97" cy="156.40" r="1.15" fill="#22808a"/>
<circle cx="403.12" cy="153.06" r="1.15" fill="#1a8f86"/>
<circle cx="400.69" cy="158.91" r="1.15" fill="#1f8a8a"/>
<circle cx="402.37" cy="160.25" r="1.15" fill="#20928c"/>
<circle cx="403.15" cy="158.72" r="1.15" fill="#20928c"/>
<circle cx="398.83" cy="156.52" r="1.15" fill="#22808a"/>
<circle cx="400.51" cy="155.63" r="1.15" fill="#1a8f86"/>
<circle cx="431.67" cy="57.26" r="1.15" fill="#20928c"/>
<circle cx="427.80" cy="62.40" r="1.15" fill="#1a8f86"/>
<circle cx="425.66" cy="60.38" r="1.15" fill="#22808a"/>
<circle cx="425.85" cy="57.34" r="1.15" fill="#1a8f86"/>
<circle cx="424.95" cy="64.76" r="1.15" fill="#1a8f86"/>
<circle cx="424.08" cy="62.19" r="1.15" fill="#1f8a8a"/>
<circle cx="428.25" cy="60.64" r="1.15" fill="#1f8a8a"/>
<circle cx="425.26" cy="62.96" r="1.15" fill="#20928c"/>
<circle cx="430.22" cy="61.43" r="1.15" fill="#22808a"/>
<circle cx="427.16" cy="65.26" r="1.15" fill="#22808a"/>
<circle cx="424.55" cy="63.52" r="1.15" fill="#1a8f86"/>
<circle cx="429.00" cy="60.33" r="1.15" fill="#22808a"/>
<circle cx="429.21" cy="59.88" r="1.15" fill="#1a8f86"/>
<circle cx="429.00" cy="60.18" r="1.15" fill="#22808a"/>
<circle cx="430.99" cy="66.73" r="1.15" fill="#1a8f86"/>
<circle cx="424.11" cy="61.05" r="1.15" fill="#20928c"/>
<circle cx="429.41" cy="57.72" r="1.15" fill="#1a8f86"/>
<circle cx="432.11" cy="65.97" r="1.15" fill="#1a8f86"/>
<circle cx="425.18" cy="60.68" r="1.15" fill="#1a8f86"/>
<circle cx="429.77" cy="55.12" r="1.15" fill="#22808a"/>
<circle cx="429.17" cy="66.23" r="1.15" fill="#22808a"/>
<circle cx="427.66" cy="59.51" r="1.15" fill="#1f8a8a"/>
<circle cx="429.63" cy="60.31" r="1.15" fill="#1a8f86"/>
<circle cx="429.50" cy="59.00" r="1.15" fill="#1a8f86"/>
<circle cx="431.83" cy="57.46" r="1.15" fill="#1a8f86"/>
<circle cx="427.51" cy="63.01" r="1.15" fill="#1a8f86"/>
<circle cx="431.20" cy="65.10" r="1.15" fill="#1a8f86"/>
<circle cx="427.74" cy="61.46" r="1.15" fill="#22808a"/>
<circle cx="429.59" cy="62.93" r="1.15" fill="#1f8a8a"/>
<circle cx="428.81" cy="62.51" r="1.15" fill="#1a8f86"/>
<circle cx="424.48" cy="62.80" r="1.15" fill="#1f8a8a"/>
<circle cx="430.83" cy="61.63" r="1.15" fill="#1a8f86"/>
<circle cx="434.18" cy="60.84" r="1.15" fill="#1f8a8a"/>
<circle cx="427.64" cy="63.51" r="1.15" fill="#22808a"/>
<circle cx="433.05" cy="57.04" r="1.15" fill="#1a8f86"/>
<circle cx="422.73" cy="61.54" r="1.15" fill="#1f8a8a"/>
<circle cx="429.25" cy="64.01" r="1.15" fill="#1a8f86"/>
<circle cx="426.22" cy="59.88" r="1.15" fill="#1f8a8a"/>
<circle cx="430.82" cy="60.48" r="1.15" fill="#1a8f86"/>
<circle cx="427.80" cy="60.25" r="1.15" fill="#20928c"/>
<circle cx="426.41" cy="63.59" r="1.15" fill="#20928c"/>
<circle cx="428.22" cy="59.24" r="1.15" fill="#20928c"/>
<circle cx="429.93" cy="56.81" r="1.15" fill="#22808a"/>
<circle cx="431.22" cy="63.01" r="1.15" fill="#1a8f86"/>
<circle cx="425.73" cy="59.24" r="1.15" fill="#1f8a8a"/>
<circle cx="431.87" cy="61.91" r="1.15" fill="#22808a"/>
<circle cx="427.40" cy="59.81" r="1.15" fill="#20928c"/>
<circle cx="432.31" cy="63.08" r="1.15" fill="#1a8f86"/>
<circle cx="425.68" cy="64.19" r="1.15" fill="#1f8a8a"/>
<circle cx="425.66" cy="65.69" r="1.15" fill="#22808a"/>
<circle cx="427.58" cy="63.06" r="1.15" fill="#1f8a8a"/>
<circle cx="429.31" cy="60.04" r="1.15" fill="#22808a"/>
<circle cx="427.85" cy="64.47" r="1.15" fill="#20928c"/>
<circle cx="426.66" cy="61.34" r="1.15" fill="#1f8a8a"/>
<circle cx="425.63" cy="60.89" r="1.15" fill="#1a8f86"/>
<circle cx="427.56" cy="64.49" r="1.15" fill="#1a8f86"/>
<circle cx="432.08" cy="58.55" r="1.15" fill="#1a8f86"/>
<circle cx="428.68" cy="60.69" r="1.15" fill="#1f8a8a"/>
<circle cx="423.36" cy="61.36" r="1.15" fill="#1a8f86"/>
<circle cx="427.54" cy="59.13" r="1.15" fill="#1a8f86"/>
<circle cx="429.55" cy="62.80" r="1.15" fill="#1f8a8a"/>
<circle cx="424.82" cy="62.80" r="1.15" fill="#1f8a8a"/>
<circle cx="426.77" cy="66.69" r="1.15" fill="#1f8a8a"/>
<circle cx="427.29" cy="59.32" r="1.15" fill="#1a8f86"/>
<circle cx="417.70" cy="123.24" r="1.15" fill="#1f8a8a"/>
<circle cx="420.60" cy="125.02" r="1.15" fill="#20928c"/>
<circle cx="420.82" cy="125.91" r="1.15" fill="#1a8f86"/>
<circle cx="420.95" cy="123.65" r="1.15" fill="#22808a"/>
<circle cx="419.34" cy="125.03" r="1.15" fill="#20928c"/>
<circle cx="422.03" cy="124.94" r="1.15" fill="#22808a"/>
<circle cx="423.41" cy="126.99" r="1.15" fill="#1a8f86"/>
<circle cx="420.02" cy="121.80" r="1.15" fill="#1a8f86"/>
<circle cx="421.21" cy="121.41" r="1.15" fill="#1a8f86"/>
<circle cx="420.71" cy="127.87" r="1.15" fill="#20928c"/>
<circle cx="420.13" cy="124.99" r="1.15" fill="#1f8a8a"/>
<circle cx="420.83" cy="122.91" r="1.15" fill="#22808a"/>
<circle cx="418.71" cy="125.60" r="1.15" fill="#1f8a8a"/>
<circle cx="420.32" cy="122.02" r="1.15" fill="#1a8f86"/>
<circle cx="420.69" cy="125.33" r="1.15" fill="#20928c"/>
<circle cx="420.48" cy="124.80" r="1.15" fill="#20928c"/>
<circle cx="417.48" cy="123.49" r="1.15" fill="#22808a"/>
<circle cx="418.91" cy="121.90" r="1.15" fill="#1a8f86"/>
<circle cx="420.14" cy="130.30" r="1.15" fill="#20928c"/>
<circle cx="422.76" cy="123.39" r="1.15" fill="#1a8f86"/>
<circle cx="417.21" cy="128.07" r="1.15" fill="#20928c"/>
<circle cx="420.27" cy="122.24" r="1.15" fill="#1f8a8a"/>
<circle cx="423.16" cy="128.03" r="1.15" fill="#20928c"/>
<circle cx="420.32" cy="120.57" r="1.15" fill="#1a8f86"/>
<circle cx="420.94" cy="128.93" r="1.15" fill="#1a8f86"/>
<circle cx="421.99" cy="123.45" r="1.15" fill="#1f8a8a"/>
<circle cx="417.85" cy="129.08" r="1.15" fill="#20928c"/>
<circle cx="421.14" cy="123.46" r="1.15" fill="#1f8a8a"/>
<circle cx="420.66" cy="130.14" r="1.15" fill="#20928c"/>
<circle cx="418.28" cy="120.81" r="1.15" fill="#22808a"/>
<circle cx="420.35" cy="125.74" r="1.15" fill="#22808a"/>
<circle cx="416.79" cy="121.83" r="1.15" fill="#22808a"/>
<circle cx="418.16" cy="127.87" r="1.15" fill="#22808a"/>
<circle cx="421.68" cy="128.79" r="1.15" fill="#1f8a8a"/>
<circle cx="418.19" cy="130.30" r="1.15" fill="#1f8a8a"/>
<circle cx="420.10" cy="127.16" r="1.15" fill="#20928c"/>
<circle cx="421.75" cy="131.43" r="1.15" fill="#22808a"/>
<circle cx="418.57" cy="121.69" r="1.15" fill="#1f8a8a"/>
<circle cx="420.83" cy="129.85" r="1.15" fill="#22808a"/>
<circle cx="420.81" cy="124.40" r="1.15" fill="#20928c"/>
<circle cx="419.79" cy="127.39" r="1.15" fill="#1a8f86"/>
<circle cx="420.91" cy="131.80" r="1.15" fill="#22808a"/>
<circle cx="419.73" cy="128.29" r="1.15" fill="#1a8f86"/>
<circle cx="423.24" cy="120.24" r="1.15" fill="#22808a"/>
<circle cx="420.25" cy="125.99" r="1.15" fill="#1a8f86"/>
<circle cx="421.38" cy="127.28" r="1.15" fill="#20928c"/>
<circle cx="420.07" cy="121.81" r="1.15" fill="#22808a"/>
<circle cx="422.29" cy="129.51" r="1.15" fill="#20928c"/>
<circle cx="419.94" cy="125.04" r="1.15" fill="#20928c"/>
<circle cx="416.52" cy="128.42" r="1.15" fill="#20928c"/>
<circle cx="419.34" cy="130.14" r="1.15" fill="#22808a"/>
<circle cx="423.33" cy="124.06" r="1.15" fill="#1f8a8a"/>
<circle cx="422.06" cy="124.19" r="1.15" fill="#20928c"/>
<circle cx="420.18" cy="125.50" r="1.15" fill="#1f8a8a"/>
<circle cx="414.66" cy="151.92" r="1.15" fill="#1a8f86"/>
<circle cx="416.26" cy="148.38" r="1.15" fill="#1f8a8a"/>
<circle cx="418.88" cy="151.97" r="1.15" fill="#1f8a8a"/>
<circle cx="420.73" cy="151.28" r="1.15" fill="#1a8f86"/>
<circle cx="418.41" cy="158.79" r="1.15" fill="#1f8a8a"/>
<circle cx="417.93" cy="152.98" r="1.15" fill="#20928c"/>
<circle cx="415.66" cy="151.51" r="1.15" fill="#1f8a8a"/>
<circle cx="412.50" cy="156.70" r="1.15" fill="#1f8a8a"/>
<circle cx="417.72" cy="149.04" r="1.15" fill="#22808a"/>
<circle cx="412.50" cy="153.33" r="1.15" fill="#20928c"/>
<circle cx="416.11" cy="150.90" r="1.15" fill="#1a8f86"/>
<circle cx="417.87" cy="150.16" r="1.15" fill="#1f8a8a"/>
<circle cx="417.20" cy="150.51" r="1.15" fill="#1a8f86"/>
<circle cx="417.80" cy="157.84" r="1.15" fill="#1f8a8a"/>
<circle cx="418.42" cy="156.90" r="1.15" fill="#1a8f86"/>
<circle cx="414.88" cy="147.45" r="1.15" fill="#20928c"/>
<circle cx="420.11" cy="152.14" r="1.15" fill="#20928c"/>
<circle cx="417.95" cy="152.58" r="1.15" fill="#20928c"/>
<circle cx="418.46" cy="150.99" r="1.15" fill="#20928c"/>
<circle cx="418.53" cy="151.76" r="1.15" fill="#20928c"/>
<circle cx="415.57" cy="154.88" r="1.15" fill="#22808a"/>
<circle cx="416.56" cy="154.88" r="1.15" fill="#22808a"/>
<circle cx="414.65" cy="152.98" r="1.15" fill="#1a8f86"/>
<circle cx="417.01" cy="150.60" r="1.15" fill="#1a8f86"/>
<circle cx="416.25" cy="156.41" r="1.15" fill="#22808a"/>
<circle cx="416.73" cy="150.75" r="1.15" fill="#20928c"/>
<circle cx="416.29" cy="150.25" r="1.15" fill="#20928c"/>
<circle cx="417.30" cy="151.86" r="1.15" fill="#22808a"/>
<circle cx="416.78" cy="152.19" r="1.15" fill="#20928c"/>
<circle cx="413.82" cy="158.28" r="1.15" fill="#20928c"/>
<circle cx="420.84" cy="152.29" r="1.15" fill="#1f8a8a"/>
<circle cx="416.77" cy="148.79" r="1.15" fill="#22808a"/>
<circle cx="418.30" cy="149.19" r="1.15" fill="#20928c"/>
<circle cx="417.33" cy="154.51" r="1.15" fill="#1f8a8a"/>
<circle cx="417.01" cy="150.23" r="1.15" fill="#20928c"/>
<circle cx="414.80" cy="154.94" r="1.15" fill="#20928c"/>
<circle cx="415.95" cy="154.45" r="1.15" fill="#1a8f86"/>
<circle cx="414.32" cy="152.33" r="1.15" fill="#20928c"/>
<circle cx="417.92" cy="154.89" r="1.15" fill="#1f8a8a"/>
<circle cx="417.36" cy="152.52" r="1.15" fill="#1f8a8a"/>
<circle cx="418.47" cy="149.67" r="1.15" fill="#22808a"/>
<circle cx="414.55" cy="155.08" r="1.15" fill="#20928c"/>
<circle cx="417.36" cy="148.88" r="1.15" fill="#1a8f86"/>
<circle cx="418.44" cy="156.40" r="1.15" fill="#1a8f86"/>
<circle cx="412.50" cy="152.98" r="1.15" fill="#1f8a8a"/>
<circle cx="416.54" cy="147.81" r="1.15" fill="#22808a"/>
<circle cx="417.47" cy="151.97" r="1.15" fill="#22808a"/>
<circle cx="415.48" cy="151.54" r="1.15" fill="#1f8a8a"/>
<circle cx="417.07" cy="149.22" r="1.15" fill="#20928c"/>
<circle cx="413.32" cy="149.21" r="1.15" fill="#20928c"/>
<circle cx="419.20" cy="155.34" r="1.15" fill="#1f8a8a"/>
<circle cx="414.73" cy="156.35" r="1.15" fill="#1f8a8a"/>
<circle cx="420.28" cy="157.81" r="1.15" fill="#1a8f86"/>
<circle cx="419.52" cy="153.08" r="1.15" fill="#1a8f86"/>
<circle cx="458.82" cy="53.31" r="1.15" fill="#22808a"/>
<circle cx="458.78" cy="52.42" r="1.15" fill="#1f8a8a"/>
<circle cx="465.86" cy="53.37" r="1.15" fill="#1f8a8a"/>
<circle cx="459.51" cy="53.07" r="1.15" fill="#20928c"/>
<circle cx="464.38" cy="52.78" r="1.15" fill="#1a8f86"/>
<circle cx="462.35" cy="54.39" r="1.15" fill="#1a8f86"/>
<circle cx="460.22" cy="54.68" r="1.15" fill="#1f8a8a"/>
<circle cx="461.75" cy="53.49" r="1.15" fill="#20928c"/>
<circle cx="460.73" cy="53.13" r="1.15" fill="#20928c"/>
<circle cx="460.99" cy="51.95" r="1.15" fill="#22808a"/>
<circle cx="456.90" cy="54.26" r="1.15" fill="#22808a"/>
<circle cx="462.22" cy="54.59" r="1.15" fill="#1f8a8a"/>
<circle cx="463.54" cy="51.32" r="1.15" fill="#20928c"/>
<circle cx="460.50" cy="52.49" r="1.15" fill="#22808a"/>
<circle cx="459.23" cy="52.61" r="1.15" fill="#22808a"/>
<circle cx="462.71" cy="54.03" r="1.15" fill="#1f8a8a"/>
<circle cx="459.90" cy="53.37" r="1.15" fill="#1a8f86"/>
<circle cx="466.04" cy="53.79" r="1.15" fill="#1f8a8a"/>
<circle cx="460.02" cy="53.20" r="1.15" fill="#1a8f86"/>
<circle cx="461.73" cy="52.47" r="1.15" fill="#20928c"/>
<circle cx="461.41" cy="51.32" r="1.15" fill="#1f8a8a"/>
<circle cx="463.00" cy="53.21" r="1.15" fill="#1f8a8a"/>
<circle cx="463.26" cy="52.02" r="1.15" fill="#20928c"/>
<circle cx="458.35" cy="52.60" r="1.15" fill="#20928c"/>
<circle cx="463.55" cy="52.96" r="1.15" fill="#1f8a8a"/>
<circle cx="461.25" cy="51.78" r="1.15" fill="#22808a"/>
<circle cx="464.99" cy="52.14" r="1.15" fill="#22808a"/>
<circle cx="461.81" cy="52.27" r="1.15" fill="#1a8f86"/>
<circle cx="458.23" cy="54.25" r="1.15" fill="#22808a"/>
<circle cx="466.54" cy="52.90" r="1.15" fill="#20928c"/>
<circle cx="457.09" cy="53.22" r="1.15" fill="#1a8f86"/>
<circle cx="463.23" cy="52.21" r="1.15" fill="#20928c"/>
<circle cx="459.86" cy="52.97" r="1.15" fill="#20928c"/>
<circle cx="458.36" cy="51.43" r="1.15" fill="#1a8f86"/>
<circle cx="460.07" cy="51.32" r="1.15" fill="#22808a"/>
<circle cx="462.09" cy="51.73" r="1.15" fill="#1a8f86"/>
<circle cx="463.25" cy="51.58" r="1.15" fill="#1a8f86"/>
<circle cx="462.25" cy="53.30" r="1.15" fill="#22808a"/>
<circle cx="465.83" cy="53.25" r="1.15" fill="#1f8a8a"/>
<circle cx="452.49" cy="119.86" r="1.15" fill="#1f8a8a"/>
<circle cx="454.90" cy="119.16" r="1.15" fill="#22808a"/>
<circle cx="449.32" cy="119.92" r="1.15" fill="#1a8f86"/>
<circle cx="455.19" cy="119.83" r="1.15" fill="#20928c"/>
<circle cx="452.33" cy="120.08" r="1.15" fill="#1a8f86"/>
<circle cx="456.14" cy="119.47" r="1.15" fill="#22808a"/>
<circle cx="453.57" cy="118.63" r="1.15" fill="#1f8a8a"/>
<circle cx="454.40" cy="119.38" r="1.15" fill="#1a8f86"/>
<circle cx="452.65" cy="118.81" r="1.15" fill="#22808a"/>
<circle cx="452.19" cy="119.52" r="1.15" fill="#22808a"/>
<circle cx="452.48" cy="119.61" r="1.15" fill="#1a8f86"/>
<circle cx="455.11" cy="118.00" r="1.15" fill="#1f8a8a"/>
<circle cx="449.45" cy="120.79" r="1.15" fill="#1a8f86"/>
<circle cx="450.23" cy="118.70" r="1.15" fill="#1f8a8a"/>
<circle cx="453.58" cy="121.69" r="1.15" fill="#1a8f86"/>
<circle cx="453.55" cy="119.56" r="1.15" fill="#1f8a8a"/>
<circle cx="447.86" cy="121.04" r="1.15" fill="#1a8f86"/>
<circle cx="453.43" cy="119.53" r="1.15" fill="#22808a"/>
<circle cx="453.17" cy="120.32" r="1.15" fill="#1f8a8a"/>
<circle cx="447.42" cy="120.10" r="1.15" fill="#1f8a8a"/>
<circle cx="455.26" cy="121.31" r="1.15" fill="#1a8f86"/>
<circle cx="451.45" cy="119.27" r="1.15" fill="#22808a"/>
<circle cx="453.46" cy="119.77" r="1.15" fill="#1f8a8a"/>
<circle cx="448.42" cy="119.23" r="1.15" fill="#1f8a8a"/>
<circle cx="452.17" cy="118.53" r="1.15" fill="#20928c"/>
<circle cx="449.28" cy="120.16" r="1.15" fill="#1a8f86"/>
<circle cx="458.51" cy="120.06" r="1.15" fill="#22808a"/>
<circle cx="454.43" cy="121.17" r="1.15" fill="#1a8f86"/>
<circle cx="449.52" cy="117.91" r="1.15" fill="#1f8a8a"/>
<circle cx="450.80" cy="119.56" r="1.15" fill="#1f8a8a"/>
<circle cx="455.06" cy="120.15" r="1.15" fill="#1f8a8a"/>
<circle cx="455.19" cy="120.19" r="1.15" fill="#20928c"/>
<circle cx="453.42" cy="119.29" r="1.15" fill="#20928c"/>
<circle cx="453.34" cy="119.69" r="1.15" fill="#1f8a8a"/>
<circle cx="457.39" cy="120.17" r="1.15" fill="#1a8f86"/>
<circle cx="450.24" cy="119.67" r="1.15" fill="#22808a"/>
<circle cx="456.55" cy="119.26" r="1.15" fill="#1a8f86"/>
<circle cx="457.24" cy="119.07" r="1.15" fill="#1f8a8a"/>
<circle cx="457.86" cy="118.91" r="1.15" fill="#1f8a8a"/>
<circle cx="452.57" cy="119.38" r="1.15" fill="#22808a"/>
<circle cx="453.60" cy="119.51" r="1.15" fill="#20928c"/>
<circle cx="449.21" cy="120.30" r="1.15" fill="#20928c"/>
<circle cx="454.57" cy="118.11" r="1.15" fill="#1f8a8a"/>
<circle cx="452.74" cy="120.16" r="1.15" fill="#22808a"/>
<circle cx="456.83" cy="121.66" r="1.15" fill="#22808a"/>
<circle cx="453.71" cy="118.09" r="1.15" fill="#20928c"/>
<circle cx="449.36" cy="153.25" r="1.15" fill="#22808a"/>
<circle cx="448.44" cy="152.29" r="1.15" fill="#20928c"/>
<circle cx="450.44" cy="152.07" r="1.15" fill="#1a8f86"/>
<circle cx="451.14" cy="151.36" r="1.15" fill="#1a8f86"/>
<circle cx="451.27" cy="153.64" r="1.15" fill="#20928c"/>
<circle cx="448.53" cy="152.91" r="1.15" fill="#1f8a8a"/>
<circle cx="446.98" cy="151.90" r="1.15" fill="#1a8f86"/>
<circle cx="449.60" cy="152.82" r="1.15" fill="#1a8f86"/>
<circle cx="450.64" cy="152.11" r="1.15" fill="#1f8a8a"/>
<circle cx="449.00" cy="151.94" r="1.15" fill="#1f8a8a"/>
<circle cx="449.22" cy="151.46" r="1.15" fill="#1f8a8a"/>
<circle cx="450.25" cy="152.46" r="1.15" fill="#22808a"/>
<circle cx="448.95" cy="152.10" r="1.15" fill="#20928c"/>
<circle cx="449.52" cy="151.74" r="1.15" fill="#20928c"/>
<circle cx="450.01" cy="152.39" r="1.15" fill="#1a8f86"/>
<circle cx="448.45" cy="151.42" r="1.15" fill="#1a8f86"/>
<circle cx="448.60" cy="151.38" r="1.15" fill="#22808a"/>
<circle cx="449.36" cy="152.84" r="1.15" fill="#1f8a8a"/>
<circle cx="449.04" cy="152.41" r="1.15" fill="#1f8a8a"/>
<circle cx="449.87" cy="152.88" r="1.15" fill="#22808a"/>
<circle cx="448.65" cy="151.54" r="1.15" fill="#20928c"/>
<circle cx="450.65" cy="151.98" r="1.15" fill="#1f8a8a"/>
<circle cx="449.46" cy="153.50" r="1.15" fill="#1a8f86"/>
<circle cx="447.68" cy="153.05" r="1.15" fill="#1f8a8a"/>
<circle cx="450.36" cy="151.65" r="1.15" fill="#20928c"/>
<circle cx="449.65" cy="152.28" r="1.15" fill="#1a8f86"/>
<circle cx="450.14" cy="152.92" r="1.15" fill="#20928c"/>
<circle cx="455.54" cy="150.79" r="1.15" fill="#1f8a8a"/>
<circle cx="456.26" cy="151.18" r="1.15" fill="#1f8a8a"/>
<circle cx="456.96" cy="152.73" r="1.15" fill="#20928c"/>
<circle cx="455.60" cy="150.96" r="1.15" fill="#1a8f86"/>
<circle cx="453.73" cy="151.72" r="1.15" fill="#1f8a8a"/>
<circle cx="454.71" cy="152.47" r="1.15" fill="#1a8f86"/>
<circle cx="456.93" cy="151.82" r="1.15" fill="#20928c"/>
<circle cx="456.38" cy="151.08" r="1.15" fill="#20928c"/>
<circle cx="454.74" cy="152.71" r="1.15" fill="#1a8f86"/>
<circle cx="454.66" cy="152.70" r="1.15" fill="#20928c"/>
<circle cx="455.03" cy="152.41" r="1.15" fill="#1f8a8a"/>
<circle cx="457.83" cy="149.93" r="1.15" fill="#1a8f86"/>
<circle cx="455.74" cy="152.46" r="1.15" fill="#1f8a8a"/>
<circle cx="456.13" cy="152.15" r="1.15" fill="#1a8f86"/>
<circle cx="456.19" cy="149.55" r="1.15" fill="#1a8f86"/>
<circle cx="455.15" cy="150.62" r="1.15" fill="#1f8a8a"/>
<circle cx="457.68" cy="151.96" r="1.15" fill="#20928c"/>
<circle cx="456.03" cy="151.74" r="1.15" fill="#22808a"/>
<circle cx="455.42" cy="151.54" r="1.15" fill="#22808a"/>
<circle cx="456.50" cy="151.78" r="1.15" fill="#22808a"/>
<circle cx="458.33" cy="150.48" r="1.15" fill="#22808a"/>
<circle cx="455.44" cy="151.68" r="1.15" fill="#1f8a8a"/>
<circle cx="455.87" cy="152.58" r="1.15" fill="#1a8f86"/>
<circle cx="457.41" cy="151.01" r="1.15" fill="#1f8a8a"/>
<circle cx="454.62" cy="151.43" r="1.15" fill="#1a8f86"/>
<circle cx="453.76" cy="150.72" r="1.15" fill="#22808a"/>
<circle cx="458.22" cy="153.03" r="1.15" fill="#1f8a8a"/>
<text transform="translate(360.50,76.00) rotate(-5)" x="0" y="1.98" font-size="5.5" fill="#555" stroke="#555" stroke-width="0.147" text-anchor="middle">40</text>
<text transform="translate(365.50,96.30) rotate(-15)" x="0" y="1.98" font-size="5.5" fill="#555" stroke="#555" stroke-width="0.147" text-anchor="middle">35</text>
<text transform="translate(370.00,112.30) rotate(-30)" x="0" y="1.98" font-size="5.5" fill="#555" stroke="#555" stroke-width="0.147" text-anchor="middle">30</text>
<text transform="translate(374.00,127.50) rotate(-50)" x="0" y="1.98" font-size="5.5" fill="#555" stroke="#555" stroke-width="0.147" text-anchor="middle">25</text>
<text transform="translate(378.50,139.00) rotate(-45)" x="0" y="1.98" font-size="5.5" fill="#555" stroke="#555" stroke-width="0.147" text-anchor="middle">20</text>
<text transform="translate(382.00,150.00) rotate(-45)" x="0" y="1.98" font-size="5.5" fill="#555" stroke="#555" stroke-width="0.147" text-anchor="middle">15</text>
<text transform="translate(363.50,125.80) rotate(-100)" x="0" y="2.27" font-size="6.3" fill="#333" stroke="#333" stroke-width="0.168" text-anchor="middle">Day</text>
<text transform="translate(381.00,158.00) rotate(60)" x="0" y="1.80" font-size="5.0" fill="#444" stroke="#444" stroke-width="0.133" text-anchor="middle">5</text>
<text transform="translate(383.44,161.44) rotate(60)" x="0" y="1.80" font-size="5.0" fill="#444" stroke="#444" stroke-width="0.133" text-anchor="middle">4</text>
<text transform="translate(385.89,164.89) rotate(60)" x="0" y="1.80" font-size="5.0" fill="#444" stroke="#444" stroke-width="0.133" text-anchor="middle">3</text>
<text transform="translate(388.33,168.33) rotate(60)" x="0" y="1.80" font-size="5.0" fill="#444" stroke="#444" stroke-width="0.133" text-anchor="middle">2</text>
<text transform="translate(390.78,171.78) rotate(60)" x="0" y="1.80" font-size="5.0" fill="#444" stroke="#444" stroke-width="0.133" text-anchor="middle">1</text>
<text transform="translate(393.22,175.22) rotate(60)" x="0" y="1.80" font-size="5.0" fill="#444" stroke="#444" stroke-width="0.133" text-anchor="middle">0</text>
<text transform="translate(395.67,178.67) rotate(60)" x="0" y="1.80" font-size="5.0" fill="#444" stroke="#444" stroke-width="0.133" text-anchor="middle">-1</text>
<text transform="translate(398.11,182.11) rotate(60)" x="0" y="1.80" font-size="5.0" fill="#444" stroke="#444" stroke-width="0.133" text-anchor="middle">-2</text>
<text transform="translate(400.56,185.56) rotate(60)" x="0" y="1.80" font-size="5.0" fill="#444" stroke="#444" stroke-width="0.133" text-anchor="middle">-3</text>
<text transform="translate(403.00,189.00) rotate(60)" x="0" y="1.80" font-size="5.0" fill="#444" stroke="#444" stroke-width="0.133" text-anchor="middle">-4</text>
<text transform="translate(383.00,178.50) rotate(57)" x="0" y="2.30" font-size="6.4" fill="#333" stroke="#333" stroke-width="0.171" text-anchor="middle">UMAP2</text>
<text transform="translate(463.00,157.00) rotate(55)" x="0" y="2.02" font-size="5.6" fill="#555" stroke="#555" stroke-width="0.149" text-anchor="middle">10</text>
<text transform="translate(451.00,163.50) rotate(55)" x="0" y="2.02" font-size="5.6" fill="#555" stroke="#555" stroke-width="0.149" text-anchor="middle">5</text>
<text transform="translate(440.00,172.00) rotate(55)" x="0" y="2.02" font-size="5.6" fill="#555" stroke="#555" stroke-width="0.149" text-anchor="middle">0</text>
<text transform="translate(427.00,182.00) rotate(55)" x="0" y="2.02" font-size="5.6" fill="#555" stroke="#555" stroke-width="0.149" text-anchor="middle">-5</text>
<text transform="translate(448.00,177.50) rotate(-38)" x="0" y="2.38" font-size="6.6" fill="#333" stroke="#333" stroke-width="0.176" text-anchor="middle">UMAP1</text>
<rect x="155" y="48.5" width="6" height="62.900000000000006" fill="url(#vir)"/>
<text x="155.00" y="39.00" font-size="5.0" fill="#444" text-anchor="start" stroke="#444" stroke-width="0.133">Spontaneous.</text>
<text x="155.00" y="45.50" font-size="5.0" fill="#444" text-anchor="start" stroke="#444" stroke-width="0.133">Recalled Day</text>
<text x="162.50" y="51.60" font-size="5.0" fill="#555" text-anchor="start" stroke="#555" stroke-width="0.133">3</text>
<text x="162.50" y="62.80" font-size="5.0" fill="#555" text-anchor="start" stroke="#555" stroke-width="0.133">2.5</text>
<text x="162.50" y="72.60" font-size="5.0" fill="#555" text-anchor="start" stroke="#555" stroke-width="0.133">2</text>
<text x="162.50" y="83.00" font-size="5.0" fill="#555" text-anchor="start" stroke="#555" stroke-width="0.133">1.5</text>
<text x="162.50" y="93.00" font-size="5.0" fill="#555" text-anchor="start" stroke="#555" stroke-width="0.133">1</text>
<text x="162.50" y="103.60" font-size="5.0" fill="#555" text-anchor="start" stroke="#555" stroke-width="0.133">0.5</text>
<text x="162.50" y="114.00" font-size="5.0" fill="#555" text-anchor="start" stroke="#555" stroke-width="0.133">0</text>
<rect x="319.2" y="49.8" width="5.7" height="62.10000000000001" fill="url(#vir)"/>
<text x="319.20" y="39.00" font-size="5.0" fill="#444" text-anchor="start" stroke="#444" stroke-width="0.133">Oxidative.</text>
<text x="319.20" y="45.30" font-size="5.0" fill="#444" text-anchor="start" stroke="#444" stroke-width="0.133">Recalled Day</text>
<text x="326.40" y="58.40" font-size="5.0" fill="#555" text-anchor="start" stroke="#555" stroke-width="0.133">70</text>
<text x="326.40" y="67.20" font-size="5.0" fill="#555" text-anchor="start" stroke="#555" stroke-width="0.133">60</text>
<text x="326.40" y="76.60" font-size="5.0" fill="#555" text-anchor="start" stroke="#555" stroke-width="0.133">50</text>
<text x="326.40" y="85.50" font-size="5.0" fill="#555" text-anchor="start" stroke="#555" stroke-width="0.133">40</text>
<text x="326.40" y="94.40" font-size="5.0" fill="#555" text-anchor="start" stroke="#555" stroke-width="0.133">30</text>
<text x="326.40" y="103.30" font-size="5.0" fill="#555" text-anchor="start" stroke="#555" stroke-width="0.133">20</text>
<text x="326.40" y="111.90" font-size="5.0" fill="#555" text-anchor="start" stroke="#555" stroke-width="0.133">10</text>
<rect x="483" y="54.9" width="5.7" height="61.9" fill="url(#vir)"/>
<text x="483.00" y="45.00" font-size="5.0" fill="#444" text-anchor="start" stroke="#444" stroke-width="0.133">Osmotic.</text>
<text x="483.00" y="51.00" font-size="5.0" fill="#444" text-anchor="start" stroke="#444" stroke-width="0.133">Recalled Day</text>
<text x="490.20" y="56.70" font-size="5.0" fill="#555" text-anchor="start" stroke="#555" stroke-width="0.133">100</text>
<text x="490.20" y="63.20" font-size="5.0" fill="#555" text-anchor="start" stroke="#555" stroke-width="0.133">90</text>
<text x="490.20" y="69.70" font-size="5.0" fill="#555" text-anchor="start" stroke="#555" stroke-width="0.133">80</text>
<text x="490.20" y="76.20" font-size="5.0" fill="#555" text-anchor="start" stroke="#555" stroke-width="0.133">70</text>
<text x="490.20" y="82.30" font-size="5.0" fill="#555" text-anchor="start" stroke="#555" stroke-width="0.133">60</text>
<text x="490.20" y="88.60" font-size="5.0" fill="#555" text-anchor="start" stroke="#555" stroke-width="0.133">50</text>
<text x="490.20" y="94.80" font-size="5.0" fill="#555" text-anchor="start" stroke="#555" stroke-width="0.133">40</text>
<text x="490.20" y="101.10" font-size="5.0" fill="#555" text-anchor="start" stroke="#555" stroke-width="0.133">30</text>
<text x="490.20" y="107.40" font-size="5.0" fill="#555" text-anchor="start" stroke="#555" stroke-width="0.133">20</text>
<text x="490.20" y="112.60" font-size="5.0" fill="#555" text-anchor="start" stroke="#555" stroke-width="0.133">10</text>
<text x="52.80" y="228.90" font-size="8.6" fill="#333" text-anchor="start" textLength="106.90" lengthAdjust="spacingAndGlyphs">Markers of metabolic age vs</text>
<text x="71.20" y="238.80" font-size="8.6" fill="#333" text-anchor="start" textLength="70.70" lengthAdjust="spacingAndGlyphs">Storage Hemolysis</text>
<circle cx="61.5" cy="299.5" r="1.5" fill="#78a6c6" opacity="0.85"/>
<circle cx="65.5" cy="305.6" r="1.5" fill="#78a6c6" opacity="0.85"/>
<circle cx="70.2" cy="314" r="1.5" fill="#78a6c6" opacity="0.85"/>
<circle cx="74.5" cy="326.6" r="1.5" fill="#78a6c6" opacity="0.85"/>
<circle cx="79.3" cy="329.4" r="1.5" fill="#78a6c6" opacity="0.85"/>
<circle cx="67" cy="332.6" r="1.5" fill="#78a6c6" opacity="0.85"/>
<circle cx="68.4" cy="333.8" r="1.5" fill="#78a6c6" opacity="0.85"/>
<circle cx="68.7" cy="349.6" r="1.5" fill="#78a6c6" opacity="0.85"/>
<circle cx="68" cy="351" r="1.5" fill="#78a6c6" opacity="0.85"/>
<circle cx="74.4" cy="349.6" r="1.5" fill="#78a6c6" opacity="0.85"/>
<circle cx="74" cy="353" r="1.5" fill="#78a6c6" opacity="0.85"/>
<circle cx="75" cy="355" r="1.5" fill="#78a6c6" opacity="0.85"/>
<circle cx="77" cy="357" r="1.5" fill="#78a6c6" opacity="0.85"/>
<circle cx="69" cy="361" r="1.5" fill="#78a6c6" opacity="0.85"/>
<circle cx="68.5" cy="364" r="1.5" fill="#78a6c6" opacity="0.85"/>
<circle cx="69.5" cy="365" r="1.5" fill="#78a6c6" opacity="0.85"/>
<circle cx="72" cy="360.5" r="1.5" fill="#78a6c6" opacity="0.85"/>
<circle cx="77" cy="361" r="1.5" fill="#78a6c6" opacity="0.85"/>
<circle cx="78" cy="362" r="1.5" fill="#78a6c6" opacity="0.85"/>
<circle cx="83.5" cy="363.5" r="1.5" fill="#78a6c6" opacity="0.85"/>
<circle cx="80" cy="365" r="1.5" fill="#78a6c6" opacity="0.85"/>
<circle cx="79" cy="367" r="1.5" fill="#78a6c6" opacity="0.85"/>
<circle cx="80" cy="370" r="1.5" fill="#78a6c6" opacity="0.85"/>
<circle cx="74.4" cy="373" r="1.5" fill="#78a6c6" opacity="0.85"/>
<circle cx="79" cy="373" r="1.5" fill="#78a6c6" opacity="0.85"/>
<circle cx="80" cy="374" r="1.5" fill="#78a6c6" opacity="0.85"/>
<circle cx="83" cy="374" r="1.5" fill="#78a6c6" opacity="0.85"/>
<circle cx="81" cy="376" r="1.5" fill="#78a6c6" opacity="0.85"/>
<circle cx="80" cy="377" r="1.5" fill="#78a6c6" opacity="0.85"/>
<circle cx="84" cy="380" r="1.5" fill="#78a6c6" opacity="0.85"/>
<circle cx="86" cy="378" r="1.5" fill="#78a6c6" opacity="0.85"/>
<circle cx="82" cy="372" r="1.5" fill="#78a6c6" opacity="0.85"/>
<circle cx="88.8" cy="353" r="1.5" fill="#78a6c6" opacity="0.85"/>
<circle cx="100.8" cy="357.3" r="1.5" fill="#78a6c6" opacity="0.85"/>
<circle cx="88.5" cy="360.8" r="1.5" fill="#78a6c6" opacity="0.85"/>
<circle cx="100.8" cy="365" r="1.5" fill="#78a6c6" opacity="0.85"/>
<circle cx="93.5" cy="376" r="1.5" fill="#78a6c6" opacity="0.85"/>
<circle cx="95" cy="380" r="1.5" fill="#78a6c6" opacity="0.85"/>
<circle cx="102" cy="383.5" r="1.5" fill="#78a6c6" opacity="0.85"/>
<circle cx="90" cy="371" r="1.5" fill="#78a6c6" opacity="0.85"/>
<circle cx="87" cy="382" r="1.5" fill="#78a6c6" opacity="0.85"/>
<circle cx="97" cy="383" r="1.5" fill="#78a6c6" opacity="0.85"/>
<circle cx="81.9" cy="381.5" r="1.5" fill="#6e6e6e" opacity="0.85"/>
<circle cx="84" cy="383" r="1.5" fill="#6e6e6e" opacity="0.85"/>
<circle cx="86" cy="379" r="1.5" fill="#6e6e6e" opacity="0.85"/>
<circle cx="88" cy="384" r="1.5" fill="#6e6e6e" opacity="0.85"/>
<circle cx="90" cy="381" r="1.5" fill="#6e6e6e" opacity="0.85"/>
<circle cx="87" cy="388" r="1.5" fill="#6e6e6e" opacity="0.85"/>
<circle cx="89" cy="390" r="1.5" fill="#6e6e6e" opacity="0.85"/>
<circle cx="86.5" cy="390" r="1.5" fill="#6e6e6e" opacity="0.85"/>
<circle cx="95" cy="384" r="1.5" fill="#6e6e6e" opacity="0.85"/>
<circle cx="93" cy="380" r="1.5" fill="#6e6e6e" opacity="0.85"/>
<circle cx="102.5" cy="383.5" r="1.5" fill="#6e6e6e" opacity="0.85"/>
<circle cx="93" cy="393" r="1.5" fill="#6e6e6e" opacity="0.85"/>
<circle cx="94" cy="395" r="1.5" fill="#6e6e6e" opacity="0.85"/>
<circle cx="95" cy="396" r="1.5" fill="#6e6e6e" opacity="0.85"/>
<circle cx="96" cy="397" r="1.5" fill="#6e6e6e" opacity="0.85"/>
<circle cx="97" cy="394" r="1.5" fill="#6e6e6e" opacity="0.85"/>
<circle cx="99" cy="399" r="1.5" fill="#6e6e6e" opacity="0.85"/>
<circle cx="100" cy="397" r="1.5" fill="#6e6e6e" opacity="0.85"/>
<circle cx="101" cy="402" r="1.5" fill="#6e6e6e" opacity="0.85"/>
<circle cx="103" cy="403" r="1.5" fill="#6e6e6e" opacity="0.85"/>
<circle cx="104" cy="404" r="1.5" fill="#6e6e6e" opacity="0.85"/>
<circle cx="76" cy="396" r="1.5" fill="#6e6e6e" opacity="0.85"/>
<circle cx="111" cy="384" r="1.5" fill="#6e6e6e" opacity="0.85"/>
<circle cx="108" cy="402" r="1.5" fill="#6e6e6e" opacity="0.85"/>
<circle cx="110" cy="401" r="1.5" fill="#6e6e6e" opacity="0.85"/>
<circle cx="112" cy="400" r="1.5" fill="#6e6e6e" opacity="0.85"/>
<circle cx="113" cy="398" r="1.5" fill="#6e6e6e" opacity="0.85"/>
<circle cx="114" cy="396" r="1.5" fill="#6e6e6e" opacity="0.85"/>
<circle cx="111.5" cy="392" r="1.5" fill="#6e6e6e" opacity="0.85"/>
<circle cx="113" cy="390" r="1.5" fill="#6e6e6e" opacity="0.85"/>
<circle cx="115" cy="386" r="1.5" fill="#6e6e6e" opacity="0.85"/>
<circle cx="116" cy="388" r="1.5" fill="#6e6e6e" opacity="0.85"/>
<circle cx="121" cy="386" r="1.5" fill="#6e6e6e" opacity="0.85"/>
<circle cx="123" cy="392" r="1.5" fill="#6e6e6e" opacity="0.85"/>
<circle cx="124" cy="394" r="1.5" fill="#6e6e6e" opacity="0.85"/>
<circle cx="126" cy="391" r="1.5" fill="#6e6e6e" opacity="0.85"/>
<circle cx="128" cy="388" r="1.5" fill="#6e6e6e" opacity="0.85"/>
<circle cx="130" cy="386" r="1.5" fill="#6e6e6e" opacity="0.85"/>
<circle cx="80" cy="379" r="1.5" fill="#6e6e6e" opacity="0.85"/>
<circle cx="82" cy="381" r="1.5" fill="#6e6e6e" opacity="0.85"/>
<circle cx="84" cy="383" r="1.5" fill="#6e6e6e" opacity="0.85"/>
<circle cx="86" cy="385" r="1.5" fill="#6e6e6e" opacity="0.85"/>
<circle cx="88" cy="384" r="1.5" fill="#6e6e6e" opacity="0.85"/>
<circle cx="85" cy="388" r="1.5" fill="#6e6e6e" opacity="0.85"/>
<circle cx="89" cy="387" r="1.5" fill="#6e6e6e" opacity="0.85"/>
<circle cx="87" cy="390" r="1.5" fill="#6e6e6e" opacity="0.85"/>
<circle cx="90" cy="390" r="1.5" fill="#6e6e6e" opacity="0.85"/>
<circle cx="92" cy="392" r="1.5" fill="#6e6e6e" opacity="0.85"/>
<circle cx="89" cy="393" r="1.5" fill="#6e6e6e" opacity="0.85"/>
<circle cx="94" cy="394" r="1.5" fill="#6e6e6e" opacity="0.85"/>
<circle cx="91" cy="396" r="1.5" fill="#6e6e6e" opacity="0.85"/>
<circle cx="95" cy="397" r="1.5" fill="#6e6e6e" opacity="0.85"/>
<circle cx="97" cy="398" r="1.5" fill="#6e6e6e" opacity="0.85"/>
<circle cx="96" cy="400" r="1.5" fill="#6e6e6e" opacity="0.85"/>
<circle cx="99" cy="402" r="1.5" fill="#6e6e6e" opacity="0.85"/>
<circle cx="101" cy="403" r="1.5" fill="#6e6e6e" opacity="0.85"/>
<circle cx="98" cy="395" r="1.5" fill="#6e6e6e" opacity="0.85"/>
<circle cx="93" cy="389" r="1.5" fill="#6e6e6e" opacity="0.85"/>
<circle cx="103" cy="401" r="1.5" fill="#6e6e6e" opacity="0.85"/>
<circle cx="104" cy="404" r="1.5" fill="#6e6e6e" opacity="0.85"/>
<circle cx="108" cy="403" r="1.5" fill="#6e6e6e" opacity="0.85"/>
<circle cx="110" cy="401" r="1.5" fill="#6e6e6e" opacity="0.85"/>
<circle cx="112" cy="398" r="1.5" fill="#6e6e6e" opacity="0.85"/>
<circle cx="109" cy="397" r="1.5" fill="#6e6e6e" opacity="0.85"/>
<circle cx="113" cy="395" r="1.5" fill="#6e6e6e" opacity="0.85"/>
<circle cx="111" cy="392" r="1.5" fill="#6e6e6e" opacity="0.85"/>
<circle cx="115" cy="394" r="1.5" fill="#6e6e6e" opacity="0.85"/>
<circle cx="105" cy="390" r="1.5" fill="#6e6e6e" opacity="0.85"/>
<circle cx="101" cy="388" r="1.5" fill="#6e6e6e" opacity="0.85"/>
<circle cx="99" cy="382" r="1.5" fill="#6e6e6e" opacity="0.85"/>
<circle cx="104" cy="378" r="1.5" fill="#6e6e6e" opacity="0.85"/>
<circle cx="120" cy="390" r="1.5" fill="#6e6e6e" opacity="0.85"/>
<circle cx="122" cy="392" r="1.5" fill="#6e6e6e" opacity="0.85"/>
<circle cx="124" cy="395" r="1.5" fill="#6e6e6e" opacity="0.85"/>
<circle cx="118" cy="399" r="1.5" fill="#6e6e6e" opacity="0.85"/>
<circle cx="114" cy="401" r="1.5" fill="#6e6e6e" opacity="0.85"/>
<circle cx="112" cy="404" r="1.5" fill="#6e6e6e" opacity="0.85"/>
<circle cx="117" cy="403" r="1.5" fill="#6e6e6e" opacity="0.85"/>
<circle cx="121" cy="397" r="1.5" fill="#6e6e6e" opacity="0.85"/>
<circle cx="110" cy="385" r="1.5" fill="#6e6e6e" opacity="0.85"/>
<circle cx="127" cy="389" r="1.5" fill="#6e6e6e" opacity="0.85"/>
<circle cx="80" cy="386" r="1.5" fill="#6e6e6e" opacity="0.85"/>
<circle cx="118" cy="380" r="1.5" fill="#6e6e6e" opacity="0.85"/>
<circle cx="146.5" cy="260" r="1.5" fill="#56758f" opacity="0.85"/>
<circle cx="156.5" cy="270" r="1.5" fill="#56758f" opacity="0.85"/>
<circle cx="144" cy="299.5" r="1.5" fill="#56758f" opacity="0.85"/>
<circle cx="156.6" cy="305.6" r="1.5" fill="#56758f" opacity="0.85"/>
<circle cx="144.4" cy="309.6" r="1.5" fill="#56758f" opacity="0.85"/>
<circle cx="150.5" cy="311" r="1.5" fill="#56758f" opacity="0.85"/>
<circle cx="154" cy="316.4" r="1.5" fill="#56758f" opacity="0.85"/>
<circle cx="153" cy="320.4" r="1.5" fill="#56758f" opacity="0.85"/>
<circle cx="163" cy="320.4" r="1.5" fill="#56758f" opacity="0.85"/>
<circle cx="140.5" cy="329.4" r="1.5" fill="#56758f" opacity="0.85"/>
<circle cx="146.5" cy="327.6" r="1.5" fill="#56758f" opacity="0.85"/>
<circle cx="150" cy="329" r="1.5" fill="#56758f" opacity="0.85"/>
<circle cx="151" cy="329.4" r="1.5" fill="#56758f" opacity="0.85"/>
<circle cx="147.5" cy="332" r="1.5" fill="#56758f" opacity="0.85"/>
<circle cx="157.5" cy="331.6" r="1.5" fill="#56758f" opacity="0.85"/>
<circle cx="161" cy="329.4" r="1.5" fill="#56758f" opacity="0.85"/>
<circle cx="140.5" cy="334.2" r="1.5" fill="#56758f" opacity="0.85"/>
<circle cx="141.5" cy="341" r="1.5" fill="#56758f" opacity="0.85"/>
<circle cx="144" cy="342.6" r="1.5" fill="#56758f" opacity="0.85"/>
<circle cx="150.5" cy="342.8" r="1.5" fill="#56758f" opacity="0.85"/>
<circle cx="136" cy="344.6" r="1.5" fill="#56758f" opacity="0.85"/>
<circle cx="131" cy="340" r="1.5" fill="#56758f" opacity="0.85"/>
<circle cx="128" cy="346" r="1.5" fill="#56758f" opacity="0.85"/>
<circle cx="134" cy="349" r="1.5" fill="#56758f" opacity="0.85"/>
<circle cx="139" cy="352" r="1.5" fill="#56758f" opacity="0.85"/>
<circle cx="133" cy="358" r="1.5" fill="#56758f" opacity="0.85"/>
<circle cx="141" cy="356" r="1.5" fill="#56758f" opacity="0.85"/>
<circle cx="147" cy="350" r="1.5" fill="#56758f" opacity="0.85"/>
<circle cx="160" cy="351" r="1.5" fill="#56758f" opacity="0.85"/>
<circle cx="126" cy="360" r="1.5" fill="#56758f" opacity="0.85"/>
<circle cx="131" cy="365" r="1.5" fill="#56758f" opacity="0.85"/>
<circle cx="135" cy="368" r="1.5" fill="#56758f" opacity="0.85"/>
<circle cx="138" cy="365" r="1.5" fill="#56758f" opacity="0.85"/>
<circle cx="136" cy="371" r="1.5" fill="#56758f" opacity="0.85"/>
<circle cx="131" cy="375" r="1.5" fill="#56758f" opacity="0.85"/>
<circle cx="140" cy="377" r="1.5" fill="#56758f" opacity="0.85"/>
<circle cx="126" cy="378" r="1.5" fill="#56758f" opacity="0.85"/>
<circle cx="133" cy="381" r="1.5" fill="#56758f" opacity="0.85"/>
<circle cx="131" cy="385" r="1.5" fill="#56758f" opacity="0.85"/>
<circle cx="160" cy="382" r="1.5" fill="#56758f" opacity="0.85"/>
<circle cx="145" cy="372" r="1.5" fill="#56758f" opacity="0.85"/>
<circle cx="127" cy="355" r="1.5" fill="#56758f" opacity="0.85"/>
<line x1="77" y1="349" x2="91" y2="383" stroke="#de4a4a" stroke-width="0.55"/>
<polygon points="91.00,383.00 91.09,380.58 89.24,381.35" fill="#d9383a"/>
<line x1="80" y1="397" x2="98" y2="400" stroke="#de4a4a" stroke-width="0.55"/>
<polygon points="98.00,400.00 95.99,398.65 95.67,400.62" fill="#d9383a"/>
<line x1="154" y1="297" x2="137.5" y2="351" stroke="#de4a4a" stroke-width="0.55"/>
<polygon points="137.50,351.00 139.10,349.19 137.19,348.60" fill="#d9383a"/>
<line x1="113" y1="327" x2="115.5" y2="381" stroke="#de4a4a" stroke-width="0.55"/>
<polygon points="115.50,381.00 116.40,378.76 114.40,378.85" fill="#d9383a"/>
<line x1="124" y1="368" x2="120" y2="380" stroke="#de4a4a" stroke-width="0.55"/>
<polygon points="120.00,380.00 121.64,378.23 119.75,377.60" fill="#d9383a"/>
<line x1="147" y1="382" x2="130" y2="383.5" stroke="#de4a4a" stroke-width="0.55"/>
<polygon points="130.00,383.50 132.28,384.30 132.10,382.31" fill="#d9383a"/>
<line x1="138" y1="388.5" x2="125" y2="391" stroke="#de4a4a" stroke-width="0.55"/>
<polygon points="125.00,391.00 127.35,391.57 126.97,389.60" fill="#d9383a"/>
<line x1="138" y1="395.5" x2="124" y2="397" stroke="#de4a4a" stroke-width="0.55"/>
<polygon points="124.00,397.00 126.29,397.76 126.08,395.77" fill="#d9383a"/>
<circle cx="92.5" cy="386" r="2.6" fill="#e8191c"/>
<circle cx="100.6" cy="400.4" r="2.6" fill="#e8191c"/>
<circle cx="117.3" cy="384.8" r="2.6" fill="#e8191c"/>
<circle cx="121.9" cy="382.5" r="2.6" fill="#e8191c"/>
<circle cx="127.1" cy="382.5" r="2.6" fill="#e8191c"/>
<circle cx="117.9" cy="391.1" r="2.6" fill="#e8191c"/>
<circle cx="119.6" cy="398.6" r="2.6" fill="#e8191c"/>
<circle cx="136" cy="354.1" r="2.6" fill="#e8191c"/>
<text x="67.60" y="345.80" font-size="5.35" fill="#333" text-anchor="start" stroke="#333" stroke-width="0.143">Adenine</text>
<text x="46.70" y="397.00" font-size="5.35" fill="#333" text-anchor="start" stroke="#333" stroke-width="0.143">Nicotinamide</text>
<text x="124.90" y="294.80" font-size="5.35" fill="#333" text-anchor="start" stroke="#333" stroke-width="0.143">Hypoxanthine</text>
<text x="108.00" y="322.80" font-size="5.35" fill="#333" text-anchor="start" stroke="#333" stroke-width="0.143">5-Oxoproline</text>
<text x="119.60" y="365.30" font-size="5.35" fill="#333" text-anchor="start" stroke="#333" stroke-width="0.143">Lactate</text>
<text x="148.00" y="383.30" font-size="5.35" fill="#333" text-anchor="start" stroke="#333" stroke-width="0.143">Malate</text>
<text x="139.00" y="390.30" font-size="5.35" fill="#333" text-anchor="start" stroke="#333" stroke-width="0.143">Xanthine</text>
<text x="139.00" y="397.30" font-size="5.35" fill="#333" text-anchor="start" stroke="#333" stroke-width="0.143">Glucose</text>
<line x1="106.7" y1="243.8" x2="106.7" y2="405" stroke="#444" stroke-width="1.2"/>
<rect x="43" y="243.8" width="126.5" height="161.2" fill="none" stroke="#222" stroke-width="1.35"/>
<circle cx="48.3" cy="250.60000000000002" r="2.1" fill="#1c3d66"/>
<text x="53.50" y="252.40" font-size="5.3" fill="#333" text-anchor="start" stroke="#333" stroke-width="0.141">up (q &lt; 0.1)</text>
<circle cx="48.3" cy="260.20000000000005" r="2.1" fill="#4a4a4a"/>
<text x="53.50" y="262.00" font-size="5.3" fill="#333" text-anchor="start" stroke="#333" stroke-width="0.141">not significant</text>
<circle cx="48.3" cy="269.8" r="2.1" fill="#2a9fd6"/>
<text x="53.50" y="271.60" font-size="5.3" fill="#333" text-anchor="start" stroke="#333" stroke-width="0.141">down (q &lt; 0.1)</text>
<line x1="41" y1="405" x2="43" y2="405" stroke="#333" stroke-width="0.8"/>
<text x="37.20" y="407.10" font-size="6.0" fill="#3a3a3a" text-anchor="end" stroke="#3a3a3a" stroke-width="0.160">0</text>
<line x1="41" y1="377.2" x2="43" y2="377.2" stroke="#333" stroke-width="0.8"/>
<text x="37.20" y="379.30" font-size="6.0" fill="#3a3a3a" text-anchor="end" stroke="#3a3a3a" stroke-width="0.160">1</text>
<line x1="41" y1="349.4" x2="43" y2="349.4" stroke="#333" stroke-width="0.8"/>
<text x="37.20" y="351.50" font-size="6.0" fill="#3a3a3a" text-anchor="end" stroke="#3a3a3a" stroke-width="0.160">2</text>
<line x1="41" y1="321.6" x2="43" y2="321.6" stroke="#333" stroke-width="0.8"/>
<text x="37.20" y="323.70" font-size="6.0" fill="#3a3a3a" text-anchor="end" stroke="#3a3a3a" stroke-width="0.160">3</text>
<line x1="41" y1="293.8" x2="43" y2="293.8" stroke="#333" stroke-width="0.8"/>
<text x="37.20" y="295.90" font-size="6.0" fill="#3a3a3a" text-anchor="end" stroke="#3a3a3a" stroke-width="0.160">4</text>
<line x1="41" y1="266" x2="43" y2="266" stroke="#333" stroke-width="0.8"/>
<text x="37.20" y="268.10" font-size="6.0" fill="#3a3a3a" text-anchor="end" stroke="#3a3a3a" stroke-width="0.160">5</text>
<line x1="67.8" y1="405" x2="67.8" y2="407" stroke="#333" stroke-width="0.8"/>
<text x="67.80" y="416.20" font-size="5.6" fill="#3a3a3a" text-anchor="middle" stroke="#3a3a3a" stroke-width="0.149">-0.01</text>
<line x1="106.7" y1="405" x2="106.7" y2="407" stroke="#333" stroke-width="0.8"/>
<text x="106.70" y="416.20" font-size="5.6" fill="#3a3a3a" text-anchor="middle" stroke="#3a3a3a" stroke-width="0.149">0</text>
<line x1="146.1" y1="405" x2="146.1" y2="407" stroke="#333" stroke-width="0.8"/>
<text x="146.10" y="416.20" font-size="5.6" fill="#3a3a3a" text-anchor="middle" stroke="#3a3a3a" stroke-width="0.149">0.01</text>
<text transform="translate(23.5,320.1) rotate(-90)" font-size="6.0" fill="#3a3a3a" stroke="#3a3a3a" stroke-width="0.2" text-anchor="middle" textLength="49" lengthAdjust="spacingAndGlyphs">-log<tspan font-size="3.8" dy="1.2">10</tspan><tspan dy="-1.2">(q value)</tspan></text>
<text x="55.8" y="426.1" font-size="7.3" fill="#3a3a3a" stroke="#3a3a3a" stroke-width="0.25" textLength="101.60000000000001" lengthAdjust="spacingAndGlyphs">log<tspan font-size="4.6" dy="1.4">2</tspan><tspan dy="-1.4">(fold change) per unit of hemolysis</tspan></text>
<text x="230.80" y="228.90" font-size="8.6" fill="#333" text-anchor="start" textLength="106.70" lengthAdjust="spacingAndGlyphs">Markers of metabolic age vs</text>
<text x="245.30" y="238.80" font-size="8.6" fill="#333" text-anchor="start" textLength="76.70" lengthAdjust="spacingAndGlyphs">Oxidative Hemolysis</text>
<circle cx="231.4" cy="286" r="1.5" fill="#78a6c6" opacity="0.85"/>
<circle cx="236.2" cy="292" r="1.5" fill="#78a6c6" opacity="0.85"/>
<circle cx="238.2" cy="307.5" r="1.5" fill="#78a6c6" opacity="0.85"/>
<circle cx="244.5" cy="307" r="1.5" fill="#78a6c6" opacity="0.85"/>
<circle cx="249.2" cy="312" r="1.5" fill="#78a6c6" opacity="0.85"/>
<circle cx="232" cy="313" r="1.5" fill="#78a6c6" opacity="0.85"/>
<circle cx="249" cy="320.2" r="1.5" fill="#78a6c6" opacity="0.85"/>
<circle cx="245.4" cy="322.4" r="1.5" fill="#78a6c6" opacity="0.85"/>
<circle cx="242.3" cy="327" r="1.5" fill="#78a6c6" opacity="0.85"/>
<circle cx="247" cy="327.6" r="1.5" fill="#78a6c6" opacity="0.85"/>
<circle cx="248" cy="328" r="1.5" fill="#78a6c6" opacity="0.85"/>
<circle cx="255" cy="331.8" r="1.5" fill="#78a6c6" opacity="0.85"/>
<circle cx="241.5" cy="335.2" r="1.5" fill="#78a6c6" opacity="0.85"/>
<circle cx="243.8" cy="342" r="1.5" fill="#78a6c6" opacity="0.85"/>
<circle cx="250.8" cy="342.6" r="1.5" fill="#78a6c6" opacity="0.85"/>
<circle cx="276" cy="324.2" r="1.5" fill="#78a6c6" opacity="0.85"/>
<circle cx="255.2" cy="352" r="1.5" fill="#78a6c6" opacity="0.85"/>
<circle cx="261" cy="354" r="1.5" fill="#78a6c6" opacity="0.85"/>
<circle cx="245.6" cy="356.6" r="1.5" fill="#78a6c6" opacity="0.85"/>
<circle cx="252" cy="357" r="1.5" fill="#78a6c6" opacity="0.85"/>
<circle cx="253.8" cy="363.6" r="1.5" fill="#78a6c6" opacity="0.85"/>
<circle cx="257" cy="363" r="1.5" fill="#78a6c6" opacity="0.85"/>
<circle cx="262.5" cy="363.6" r="1.5" fill="#78a6c6" opacity="0.85"/>
<circle cx="258.5" cy="365.5" r="1.5" fill="#78a6c6" opacity="0.85"/>
<circle cx="261" cy="366" r="1.5" fill="#78a6c6" opacity="0.85"/>
<circle cx="267.5" cy="365.7" r="1.5" fill="#78a6c6" opacity="0.85"/>
<circle cx="278" cy="367.5" r="1.5" fill="#78a6c6" opacity="0.85"/>
<circle cx="255.7" cy="373" r="1.5" fill="#78a6c6" opacity="0.85"/>
<circle cx="260.4" cy="371.5" r="1.5" fill="#78a6c6" opacity="0.85"/>
<circle cx="266" cy="373.8" r="1.5" fill="#78a6c6" opacity="0.85"/>
<circle cx="267.5" cy="374.6" r="1.5" fill="#78a6c6" opacity="0.85"/>
<circle cx="278" cy="375.9" r="1.5" fill="#78a6c6" opacity="0.85"/>
<circle cx="259" cy="377" r="1.5" fill="#78a6c6" opacity="0.85"/>
<circle cx="262" cy="378.7" r="1.5" fill="#78a6c6" opacity="0.85"/>
<circle cx="265" cy="380" r="1.5" fill="#78a6c6" opacity="0.85"/>
<circle cx="270.5" cy="381" r="1.5" fill="#78a6c6" opacity="0.85"/>
<circle cx="263" cy="382" r="1.5" fill="#78a6c6" opacity="0.85"/>
<circle cx="264.5" cy="385" r="1.5" fill="#78a6c6" opacity="0.85"/>
<circle cx="267.5" cy="385.5" r="1.5" fill="#78a6c6" opacity="0.85"/>
<circle cx="276.5" cy="387" r="1.5" fill="#78a6c6" opacity="0.85"/>
<circle cx="267" cy="388" r="1.5" fill="#78a6c6" opacity="0.85"/>
<circle cx="270" cy="390" r="1.5" fill="#78a6c6" opacity="0.85"/>
<circle cx="258" cy="370" r="1.5" fill="#78a6c6" opacity="0.85"/>
<circle cx="262" cy="374" r="1.5" fill="#78a6c6" opacity="0.85"/>
<circle cx="266" cy="377" r="1.5" fill="#78a6c6" opacity="0.85"/>
<circle cx="269" cy="380" r="1.5" fill="#78a6c6" opacity="0.85"/>
<circle cx="271" cy="383" r="1.5" fill="#78a6c6" opacity="0.85"/>
<circle cx="268" cy="385" r="1.5" fill="#78a6c6" opacity="0.85"/>
<circle cx="266" cy="388" r="1.5" fill="#78a6c6" opacity="0.85"/>
<circle cx="273" cy="387" r="1.5" fill="#6e6e6e" opacity="0.85"/>
<circle cx="275" cy="390" r="1.5" fill="#6e6e6e" opacity="0.85"/>
<circle cx="278" cy="392" r="1.5" fill="#6e6e6e" opacity="0.85"/>
<circle cx="280" cy="395" r="1.5" fill="#6e6e6e" opacity="0.85"/>
<circle cx="283" cy="397" r="1.5" fill="#6e6e6e" opacity="0.85"/>
<circle cx="277" cy="399" r="1.5" fill="#6e6e6e" opacity="0.85"/>
<circle cx="273" cy="392" r="1.5" fill="#6e6e6e" opacity="0.85"/>
<circle cx="275" cy="393" r="1.5" fill="#6e6e6e" opacity="0.85"/>
<circle cx="277" cy="394" r="1.5" fill="#6e6e6e" opacity="0.85"/>
<circle cx="281" cy="397" r="1.5" fill="#6e6e6e" opacity="0.85"/>
<circle cx="272" cy="395" r="1.5" fill="#6e6e6e" opacity="0.85"/>
<circle cx="276" cy="398" r="1.5" fill="#6e6e6e" opacity="0.85"/>
<circle cx="279" cy="400" r="1.5" fill="#6e6e6e" opacity="0.85"/>
<circle cx="282" cy="402" r="1.5" fill="#6e6e6e" opacity="0.85"/>
<circle cx="274" cy="389" r="1.5" fill="#6e6e6e" opacity="0.85"/>
<circle cx="269" cy="392" r="1.5" fill="#6e6e6e" opacity="0.85"/>
<circle cx="271" cy="386" r="1.5" fill="#6e6e6e" opacity="0.85"/>
<circle cx="287" cy="396" r="1.5" fill="#6e6e6e" opacity="0.85"/>
<circle cx="290" cy="398" r="1.5" fill="#6e6e6e" opacity="0.85"/>
<circle cx="292" cy="401" r="1.5" fill="#6e6e6e" opacity="0.85"/>
<circle cx="295" cy="402" r="1.5" fill="#6e6e6e" opacity="0.85"/>
<circle cx="289" cy="403" r="1.5" fill="#6e6e6e" opacity="0.85"/>
<circle cx="286" cy="400" r="1.5" fill="#6e6e6e" opacity="0.85"/>
<circle cx="299" cy="401" r="1.5" fill="#6e6e6e" opacity="0.85"/>
<circle cx="300" cy="398" r="1.5" fill="#6e6e6e" opacity="0.85"/>
<circle cx="291" cy="394" r="1.5" fill="#6e6e6e" opacity="0.85"/>
<circle cx="333.8" cy="256.2" r="1.5" fill="#56758f" opacity="0.85"/>
<circle cx="337.4" cy="256.2" r="1.5" fill="#56758f" opacity="0.85"/>
<circle cx="335.5" cy="264.5" r="1.5" fill="#56758f" opacity="0.85"/>
<circle cx="333.3" cy="285" r="1.5" fill="#56758f" opacity="0.85"/>
<circle cx="326.2" cy="287.2" r="1.5" fill="#56758f" opacity="0.85"/>
<circle cx="323.7" cy="291.8" r="1.5" fill="#56758f" opacity="0.85"/>
<circle cx="339.4" cy="296.5" r="1.5" fill="#56758f" opacity="0.85"/>
<circle cx="315.4" cy="297" r="1.5" fill="#56758f" opacity="0.85"/>
<circle cx="299.2" cy="305" r="1.5" fill="#56758f" opacity="0.85"/>
<circle cx="313.8" cy="307" r="1.5" fill="#56758f" opacity="0.85"/>
<circle cx="317.4" cy="305.6" r="1.5" fill="#56758f" opacity="0.85"/>
<circle cx="323.5" cy="315.5" r="1.5" fill="#56758f" opacity="0.85"/>
<circle cx="324.5" cy="314.5" r="1.5" fill="#56758f" opacity="0.85"/>
<circle cx="328.6" cy="320.5" r="1.5" fill="#56758f" opacity="0.85"/>
<circle cx="308.6" cy="322.7" r="1.5" fill="#56758f" opacity="0.85"/>
<circle cx="320.5" cy="322.5" r="1.5" fill="#56758f" opacity="0.85"/>
<circle cx="332.4" cy="323.6" r="1.5" fill="#56758f" opacity="0.85"/>
<circle cx="320" cy="325.7" r="1.5" fill="#56758f" opacity="0.85"/>
<circle cx="309.8" cy="329.5" r="1.5" fill="#56758f" opacity="0.85"/>
<circle cx="334" cy="328.6" r="1.5" fill="#56758f" opacity="0.85"/>
<circle cx="320" cy="332" r="1.5" fill="#56758f" opacity="0.85"/>
<circle cx="309" cy="339.5" r="1.5" fill="#56758f" opacity="0.85"/>
<circle cx="308.3" cy="340.5" r="1.5" fill="#56758f" opacity="0.85"/>
<circle cx="307.8" cy="344.7" r="1.5" fill="#56758f" opacity="0.85"/>
<circle cx="313.5" cy="344.7" r="1.5" fill="#56758f" opacity="0.85"/>
<circle cx="312.5" cy="349" r="1.5" fill="#56758f" opacity="0.85"/>
<circle cx="313" cy="351.5" r="1.5" fill="#56758f" opacity="0.85"/>
<circle cx="294.5" cy="354" r="1.5" fill="#56758f" opacity="0.85"/>
<circle cx="305" cy="359" r="1.5" fill="#56758f" opacity="0.85"/>
<circle cx="313.6" cy="358" r="1.5" fill="#56758f" opacity="0.85"/>
<circle cx="319.5" cy="355.6" r="1.5" fill="#56758f" opacity="0.85"/>
<circle cx="301.3" cy="366" r="1.5" fill="#56758f" opacity="0.85"/>
<circle cx="312" cy="362" r="1.5" fill="#56758f" opacity="0.85"/>
<circle cx="311.5" cy="365" r="1.5" fill="#56758f" opacity="0.85"/>
<circle cx="307.7" cy="371.4" r="1.5" fill="#56758f" opacity="0.85"/>
<circle cx="313" cy="372" r="1.5" fill="#56758f" opacity="0.85"/>
<circle cx="315.5" cy="370" r="1.5" fill="#56758f" opacity="0.85"/>
<circle cx="292.2" cy="374" r="1.5" fill="#56758f" opacity="0.85"/>
<circle cx="304.8" cy="375" r="1.5" fill="#56758f" opacity="0.85"/>
<circle cx="305" cy="377.5" r="1.5" fill="#56758f" opacity="0.85"/>
<circle cx="297" cy="380" r="1.5" fill="#56758f" opacity="0.85"/>
<circle cx="301.5" cy="379.5" r="1.5" fill="#56758f" opacity="0.85"/>
<circle cx="302.5" cy="381" r="1.5" fill="#56758f" opacity="0.85"/>
<circle cx="285" cy="379" r="1.5" fill="#56758f" opacity="0.85"/>
<circle cx="286.6" cy="384" r="1.5" fill="#56758f" opacity="0.85"/>
<circle cx="286.6" cy="387.6" r="1.5" fill="#56758f" opacity="0.85"/>
<circle cx="307.5" cy="386" r="1.5" fill="#56758f" opacity="0.85"/>
<circle cx="302" cy="387.5" r="1.5" fill="#56758f" opacity="0.85"/>
<circle cx="301.5" cy="390" r="1.5" fill="#56758f" opacity="0.85"/>
<line x1="303.5" y1="293" x2="312" y2="318" stroke="#de4a4a" stroke-width="0.55"/>
<polygon points="312.00,318.00 312.24,315.60 310.35,316.24" fill="#d9383a"/>
<line x1="258" y1="394" x2="272" y2="397" stroke="#de4a4a" stroke-width="0.55"/>
<polygon points="272.00,397.00 270.06,395.56 269.64,397.52" fill="#d9383a"/>
<line x1="260" y1="401" x2="272" y2="402" stroke="#de4a4a" stroke-width="0.55"/>
<polygon points="272.00,402.00 269.89,400.82 269.72,402.81" fill="#d9383a"/>
<line x1="291" y1="367" x2="285.5" y2="396" stroke="#de4a4a" stroke-width="0.55"/>
<polygon points="285.50,396.00 286.89,394.02 284.93,393.65" fill="#d9383a"/>
<line x1="315" y1="377" x2="304.5" y2="386" stroke="#de4a4a" stroke-width="0.55"/>
<polygon points="304.50,386.00 306.82,385.33 305.52,383.81" fill="#d9383a"/>
<line x1="314" y1="384.5" x2="304.5" y2="389" stroke="#de4a4a" stroke-width="0.55"/>
<polygon points="304.50,389.00 306.92,388.96 306.06,387.15" fill="#d9383a"/>
<line x1="308" y1="392" x2="300" y2="394" stroke="#de4a4a" stroke-width="0.55"/>
<polygon points="300.00,394.00 302.38,394.44 301.89,392.50" fill="#d9383a"/>
<line x1="313" y1="400" x2="302" y2="400" stroke="#de4a4a" stroke-width="0.55"/>
<polygon points="302.00,400.00 304.20,401.00 304.20,399.00" fill="#d9383a"/>
<circle cx="276" cy="398.5" r="2.6" fill="#e8191c"/>
<circle cx="279.5" cy="396.5" r="2.6" fill="#e8191c"/>
<circle cx="282" cy="399.5" r="2.6" fill="#e8191c"/>
<circle cx="316.6" cy="321.2" r="2.6" fill="#e8191c"/>
<circle cx="296" cy="385" r="2.6" fill="#e8191c"/>
<circle cx="296.5" cy="389" r="2.6" fill="#e8191c"/>
<circle cx="295" cy="393" r="2.6" fill="#e8191c"/>
<circle cx="294" cy="397" r="2.6" fill="#e8191c"/>
<circle cx="296.5" cy="399" r="2.6" fill="#e8191c"/>
<circle cx="285" cy="402" r="2.6" fill="#e8191c"/>
<circle cx="290" cy="400" r="2.6" fill="#e8191c"/>
<circle cx="280" cy="402" r="2.6" fill="#e8191c"/>
<circle cx="276" cy="402" r="2.6" fill="#e8191c"/>
<circle cx="299" cy="396" r="2.6" fill="#e8191c"/>
<text x="286.00" y="289.30" font-size="5.35" fill="#333" text-anchor="start" stroke="#333" stroke-width="0.143">Hypoxanthine</text>
<text x="223.40" y="392.50" font-size="5.35" fill="#333" text-anchor="start" stroke="#333" stroke-width="0.143">Nicotinamide</text>
<text x="234.80" y="401.00" font-size="5.35" fill="#333" text-anchor="start" stroke="#333" stroke-width="0.143">Adenine</text>
<text x="284.70" y="364.00" font-size="5.35" fill="#333" text-anchor="start" stroke="#333" stroke-width="0.143">Lactate</text>
<text x="317.70" y="378.80" font-size="5.35" fill="#333" text-anchor="start" stroke="#333" stroke-width="0.143">Xanthine</text>
<text x="317.70" y="386.20" font-size="5.35" fill="#333" text-anchor="start" stroke="#333" stroke-width="0.143">Malate</text>
<text x="309.00" y="392.70" font-size="5.35" fill="#333" text-anchor="start" stroke="#333" stroke-width="0.143">5-Oxoproline</text>
<text x="316.30" y="402.00" font-size="5.35" fill="#333" text-anchor="start" stroke="#333" stroke-width="0.143">Glucose</text>
<line x1="283.6" y1="244.2" x2="283.6" y2="405" stroke="#444" stroke-width="1.2"/>
<rect x="220" y="244.2" width="126.60000000000002" height="160.8" fill="none" stroke="#222" stroke-width="1.35"/>
<circle cx="226" cy="251.0" r="2.1" fill="#1c3d66"/>
<text x="231.20" y="252.80" font-size="5.3" fill="#333" text-anchor="start" stroke="#333" stroke-width="0.141">up (q &lt; 0.1)</text>
<circle cx="226" cy="260.6" r="2.1" fill="#4a4a4a"/>
<text x="231.20" y="262.40" font-size="5.3" fill="#333" text-anchor="start" stroke="#333" stroke-width="0.141">not significant</text>
<circle cx="226" cy="270.2" r="2.1" fill="#2a9fd6"/>
<text x="231.20" y="272.00" font-size="5.3" fill="#333" text-anchor="start" stroke="#333" stroke-width="0.141">down (q &lt; 0.1)</text>
<line x1="218" y1="405" x2="220" y2="405" stroke="#333" stroke-width="0.8"/>
<text x="214.20" y="407.10" font-size="6.0" fill="#3a3a3a" text-anchor="end" stroke="#3a3a3a" stroke-width="0.160">0</text>
<line x1="218" y1="373.3" x2="220" y2="373.3" stroke="#333" stroke-width="0.8"/>
<text x="214.20" y="375.40" font-size="6.0" fill="#3a3a3a" text-anchor="end" stroke="#3a3a3a" stroke-width="0.160">2</text>
<line x1="218" y1="341.6" x2="220" y2="341.6" stroke="#333" stroke-width="0.8"/>
<text x="214.20" y="343.70" font-size="6.0" fill="#3a3a3a" text-anchor="end" stroke="#3a3a3a" stroke-width="0.160">4</text>
<line x1="218" y1="309.9" x2="220" y2="309.9" stroke="#333" stroke-width="0.8"/>
<text x="214.20" y="312.00" font-size="6.0" fill="#3a3a3a" text-anchor="end" stroke="#3a3a3a" stroke-width="0.160">6</text>
<line x1="218" y1="278.2" x2="220" y2="278.2" stroke="#333" stroke-width="0.8"/>
<text x="214.20" y="280.30" font-size="6.0" fill="#3a3a3a" text-anchor="end" stroke="#3a3a3a" stroke-width="0.160">8</text>
<line x1="218" y1="246.5" x2="220" y2="246.5" stroke="#333" stroke-width="0.8"/>
<text x="214.20" y="248.60" font-size="6.0" fill="#3a3a3a" text-anchor="end" stroke="#3a3a3a" stroke-width="0.160">10</text>
<line x1="245" y1="405" x2="245" y2="407" stroke="#333" stroke-width="0.8"/>
<text x="245.00" y="416.20" font-size="5.6" fill="#3a3a3a" text-anchor="middle" stroke="#3a3a3a" stroke-width="0.149">-0.01</text>
<line x1="283.4" y1="405" x2="283.4" y2="407" stroke="#333" stroke-width="0.8"/>
<text x="283.40" y="416.20" font-size="5.6" fill="#3a3a3a" text-anchor="middle" stroke="#3a3a3a" stroke-width="0.149">0</text>
<line x1="322.2" y1="405" x2="322.2" y2="407" stroke="#333" stroke-width="0.8"/>
<text x="322.20" y="416.20" font-size="5.6" fill="#3a3a3a" text-anchor="middle" stroke="#3a3a3a" stroke-width="0.149">0.01</text>
<text transform="translate(198.2,320.1) rotate(-90)" font-size="6.0" fill="#3a3a3a" stroke="#3a3a3a" stroke-width="0.2" text-anchor="middle" textLength="49" lengthAdjust="spacingAndGlyphs">-log<tspan font-size="3.8" dy="1.2">10</tspan><tspan dy="-1.2">(q value)</tspan></text>
<text x="232.5" y="426.1" font-size="7.3" fill="#3a3a3a" stroke="#3a3a3a" stroke-width="0.25" textLength="100.5" lengthAdjust="spacingAndGlyphs">log<tspan font-size="4.6" dy="1.4">2</tspan><tspan dy="-1.4">(fold change) per unit of hemolysis</tspan></text>
<text x="395.10" y="228.90" font-size="8.6" fill="#333" text-anchor="start" textLength="106.90" lengthAdjust="spacingAndGlyphs">Markers of metabolic age vs</text>
<text x="413.10" y="238.80" font-size="8.6" fill="#333" text-anchor="start" textLength="71.60" lengthAdjust="spacingAndGlyphs">Osmotic Hemolysis</text>
<circle cx="422" cy="346" r="1.5" fill="#78a6c6" opacity="0.85"/>
<circle cx="408.4" cy="362" r="1.5" fill="#78a6c6" opacity="0.85"/>
<circle cx="413" cy="363.5" r="1.5" fill="#78a6c6" opacity="0.85"/>
<circle cx="428" cy="358" r="1.5" fill="#78a6c6" opacity="0.85"/>
<circle cx="413.5" cy="371.5" r="1.5" fill="#78a6c6" opacity="0.85"/>
<circle cx="425" cy="371" r="1.5" fill="#78a6c6" opacity="0.85"/>
<circle cx="428.5" cy="374.3" r="1.5" fill="#78a6c6" opacity="0.85"/>
<circle cx="424" cy="384" r="1.5" fill="#78a6c6" opacity="0.85"/>
<circle cx="410.4" cy="375" r="1.5" fill="#6e6e6e" opacity="0.85"/>
<circle cx="413.5" cy="377.5" r="1.5" fill="#6e6e6e" opacity="0.85"/>
<circle cx="420" cy="380.4" r="1.5" fill="#6e6e6e" opacity="0.85"/>
<circle cx="421" cy="383" r="1.5" fill="#6e6e6e" opacity="0.85"/>
<circle cx="423" cy="384" r="1.5" fill="#6e6e6e" opacity="0.85"/>
<circle cx="425" cy="385" r="1.5" fill="#6e6e6e" opacity="0.85"/>
<circle cx="427" cy="384" r="1.5" fill="#6e6e6e" opacity="0.85"/>
<circle cx="428.5" cy="388.5" r="1.5" fill="#6e6e6e" opacity="0.85"/>
<circle cx="427" cy="390" r="1.5" fill="#6e6e6e" opacity="0.85"/>
<circle cx="430" cy="393" r="1.5" fill="#6e6e6e" opacity="0.85"/>
<circle cx="431" cy="395" r="1.5" fill="#6e6e6e" opacity="0.85"/>
<circle cx="432" cy="397" r="1.5" fill="#6e6e6e" opacity="0.85"/>
<circle cx="433" cy="398" r="1.5" fill="#6e6e6e" opacity="0.85"/>
<circle cx="435" cy="399" r="1.5" fill="#6e6e6e" opacity="0.85"/>
<circle cx="437" cy="401" r="1.5" fill="#6e6e6e" opacity="0.85"/>
<circle cx="439" cy="402" r="1.5" fill="#6e6e6e" opacity="0.85"/>
<circle cx="434" cy="384" r="1.5" fill="#6e6e6e" opacity="0.85"/>
<circle cx="437" cy="386" r="1.5" fill="#6e6e6e" opacity="0.85"/>
<circle cx="440" cy="388" r="1.5" fill="#6e6e6e" opacity="0.85"/>
<circle cx="443" cy="395" r="1.5" fill="#6e6e6e" opacity="0.85"/>
<circle cx="441" cy="398" r="1.5" fill="#6e6e6e" opacity="0.85"/>
<circle cx="428" cy="380.5" r="1.5" fill="#6e6e6e" opacity="0.85"/>
<circle cx="424" cy="379.5" r="1.5" fill="#6e6e6e" opacity="0.85"/>
<circle cx="438.5" cy="393" r="1.5" fill="#6e6e6e" opacity="0.85"/>
<circle cx="455" cy="396" r="1.5" fill="#6e6e6e" opacity="0.85"/>
<circle cx="459" cy="397" r="1.5" fill="#6e6e6e" opacity="0.85"/>
<circle cx="462" cy="388" r="1.5" fill="#6e6e6e" opacity="0.85"/>
<circle cx="466" cy="386" r="1.5" fill="#6e6e6e" opacity="0.85"/>
<circle cx="470" cy="388" r="1.5" fill="#6e6e6e" opacity="0.85"/>
<circle cx="473" cy="384" r="1.5" fill="#6e6e6e" opacity="0.85"/>
<circle cx="475" cy="383" r="1.5" fill="#6e6e6e" opacity="0.85"/>
<circle cx="470" cy="379" r="1.5" fill="#6e6e6e" opacity="0.85"/>
<circle cx="477" cy="379" r="1.5" fill="#6e6e6e" opacity="0.85"/>
<circle cx="410" cy="375" r="1.5" fill="#6e6e6e" opacity="0.85"/>
<circle cx="418.5" cy="377" r="1.5" fill="#6e6e6e" opacity="0.85"/>
<circle cx="425.3" cy="373.5" r="1.5" fill="#6e6e6e" opacity="0.85"/>
<circle cx="428.6" cy="382" r="1.5" fill="#6e6e6e" opacity="0.85"/>
<circle cx="420" cy="382" r="1.5" fill="#6e6e6e" opacity="0.85"/>
<circle cx="420" cy="385" r="1.5" fill="#6e6e6e" opacity="0.85"/>
<circle cx="427" cy="386" r="1.5" fill="#6e6e6e" opacity="0.85"/>
<circle cx="433" cy="386" r="1.5" fill="#6e6e6e" opacity="0.85"/>
<circle cx="425.6" cy="389" r="1.5" fill="#6e6e6e" opacity="0.85"/>
<circle cx="432" cy="389" r="1.5" fill="#6e6e6e" opacity="0.85"/>
<circle cx="445" cy="390" r="1.5" fill="#6e6e6e" opacity="0.85"/>
<circle cx="438" cy="390" r="1.5" fill="#6e6e6e" opacity="0.85"/>
<circle cx="440" cy="391" r="1.5" fill="#6e6e6e" opacity="0.85"/>
<circle cx="444.5" cy="390.7" r="1.5" fill="#6e6e6e" opacity="0.85"/>
<circle cx="441" cy="394" r="1.5" fill="#6e6e6e" opacity="0.85"/>
<circle cx="431.4" cy="392" r="1.5" fill="#6e6e6e" opacity="0.85"/>
<circle cx="434" cy="395" r="1.5" fill="#6e6e6e" opacity="0.85"/>
<circle cx="436" cy="396" r="1.5" fill="#6e6e6e" opacity="0.85"/>
<circle cx="437" cy="398" r="1.5" fill="#6e6e6e" opacity="0.85"/>
<circle cx="439" cy="400" r="1.5" fill="#6e6e6e" opacity="0.85"/>
<circle cx="441" cy="401" r="1.5" fill="#6e6e6e" opacity="0.85"/>
<circle cx="443" cy="402" r="1.5" fill="#6e6e6e" opacity="0.85"/>
<circle cx="446" cy="403" r="1.5" fill="#6e6e6e" opacity="0.85"/>
<circle cx="430" cy="390" r="1.5" fill="#6e6e6e" opacity="0.85"/>
<circle cx="435" cy="392" r="1.5" fill="#6e6e6e" opacity="0.85"/>
<circle cx="423" cy="387" r="1.5" fill="#6e6e6e" opacity="0.85"/>
<circle cx="428" cy="391" r="1.5" fill="#6e6e6e" opacity="0.85"/>
<circle cx="433" cy="399" r="1.5" fill="#6e6e6e" opacity="0.85"/>
<circle cx="440" cy="404" r="1.5" fill="#6e6e6e" opacity="0.85"/>
<circle cx="451" cy="398" r="1.5" fill="#6e6e6e" opacity="0.85"/>
<circle cx="453" cy="396" r="1.5" fill="#6e6e6e" opacity="0.85"/>
<circle cx="455" cy="394" r="1.5" fill="#6e6e6e" opacity="0.85"/>
<circle cx="457" cy="392" r="1.5" fill="#6e6e6e" opacity="0.85"/>
<circle cx="459" cy="390" r="1.5" fill="#6e6e6e" opacity="0.85"/>
<circle cx="461" cy="388" r="1.5" fill="#6e6e6e" opacity="0.85"/>
<circle cx="463" cy="386" r="1.5" fill="#6e6e6e" opacity="0.85"/>
<circle cx="465" cy="389" r="1.5" fill="#6e6e6e" opacity="0.85"/>
<circle cx="460" cy="393" r="1.5" fill="#6e6e6e" opacity="0.85"/>
<circle cx="458" cy="397" r="1.5" fill="#6e6e6e" opacity="0.85"/>
<circle cx="452" cy="402" r="1.5" fill="#6e6e6e" opacity="0.85"/>
<circle cx="456" cy="400" r="1.5" fill="#6e6e6e" opacity="0.85"/>
<circle cx="472" cy="386" r="1.5" fill="#6e6e6e" opacity="0.85"/>
<circle cx="474" cy="382" r="1.5" fill="#6e6e6e" opacity="0.85"/>
<circle cx="476" cy="384" r="1.5" fill="#6e6e6e" opacity="0.85"/>
<circle cx="470" cy="388" r="1.5" fill="#6e6e6e" opacity="0.85"/>
<circle cx="466" cy="391" r="1.5" fill="#6e6e6e" opacity="0.85"/>
<circle cx="469" cy="394" r="1.5" fill="#6e6e6e" opacity="0.85"/>
<circle cx="478" cy="388" r="1.5" fill="#6e6e6e" opacity="0.85"/>
<circle cx="458.3" cy="323.3" r="1.5" fill="#6e6e6e" opacity="0.85"/>
<circle cx="504.4" cy="307.4" r="1.5" fill="#56758f" opacity="0.85"/>
<circle cx="505" cy="318.7" r="1.5" fill="#56758f" opacity="0.85"/>
<circle cx="498" cy="326.7" r="1.5" fill="#56758f" opacity="0.85"/>
<circle cx="502.3" cy="350.5" r="1.5" fill="#56758f" opacity="0.85"/>
<circle cx="485.4" cy="358.7" r="1.5" fill="#56758f" opacity="0.85"/>
<circle cx="485.4" cy="363.5" r="1.5" fill="#56758f" opacity="0.85"/>
<circle cx="494.5" cy="361.5" r="1.5" fill="#56758f" opacity="0.85"/>
<circle cx="498.5" cy="364" r="1.5" fill="#56758f" opacity="0.85"/>
<circle cx="470" cy="371.7" r="1.5" fill="#56758f" opacity="0.85"/>
<circle cx="478" cy="371.7" r="1.5" fill="#56758f" opacity="0.85"/>
<circle cx="480.7" cy="371.7" r="1.5" fill="#56758f" opacity="0.85"/>
<circle cx="482" cy="371.5" r="1.5" fill="#56758f" opacity="0.85"/>
<circle cx="487" cy="371" r="1.5" fill="#56758f" opacity="0.85"/>
<circle cx="486" cy="374" r="1.5" fill="#56758f" opacity="0.85"/>
<circle cx="475" cy="375.5" r="1.5" fill="#56758f" opacity="0.85"/>
<circle cx="477" cy="378" r="1.5" fill="#56758f" opacity="0.85"/>
<circle cx="474" cy="380.5" r="1.5" fill="#56758f" opacity="0.85"/>
<circle cx="480" cy="384.5" r="1.5" fill="#56758f" opacity="0.85"/>
<line x1="409" y1="347" x2="417" y2="368" stroke="#de4a4a" stroke-width="0.55"/>
<polygon points="417.00,368.00 417.15,365.59 415.28,366.30" fill="#d9383a"/>
<line x1="424" y1="400" x2="434" y2="402" stroke="#de4a4a" stroke-width="0.55"/>
<polygon points="434.00,402.00 432.04,400.59 431.65,402.55" fill="#d9383a"/>
<line x1="457" y1="337" x2="458" y2="398" stroke="#de4a4a" stroke-width="0.55"/>
<polygon points="458.00,398.00 458.96,395.78 456.96,395.82" fill="#d9383a"/>
<line x1="486" y1="343" x2="469" y2="379" stroke="#de4a4a" stroke-width="0.55"/>
<polygon points="469.00,379.00 470.84,377.44 469.04,376.58" fill="#d9383a"/>
<line x1="465" y1="350" x2="456" y2="397" stroke="#de4a4a" stroke-width="0.55"/>
<polygon points="456.00,397.00 457.40,395.03 455.43,394.65" fill="#d9383a"/>
<line x1="453" y1="367" x2="453" y2="400" stroke="#de4a4a" stroke-width="0.55"/>
<polygon points="453.00,400.00 454.00,397.80 452.00,397.80" fill="#d9383a"/>
<line x1="488" y1="388.5" x2="476" y2="389" stroke="#de4a4a" stroke-width="0.55"/>
<polygon points="476.00,389.00 478.24,389.91 478.16,387.91" fill="#d9383a"/>
<line x1="472" y1="401" x2="463" y2="398" stroke="#de4a4a" stroke-width="0.55"/>
<polygon points="463.00,398.00 464.77,399.64 465.40,397.75" fill="#d9383a"/>
<circle cx="419" cy="372" r="2.6" fill="#e8191c"/>
<circle cx="436" cy="402" r="2.6" fill="#e8191c"/>
<circle cx="444" cy="403" r="2.6" fill="#e8191c"/>
<circle cx="468" cy="382" r="2.6" fill="#e8191c"/>
<circle cx="467" cy="391.5" r="2.6" fill="#e8191c"/>
<circle cx="461.5" cy="394.5" r="2.6" fill="#e8191c"/>
<circle cx="455" cy="401" r="2.6" fill="#e8191c"/>
<circle cx="451" cy="403" r="2.6" fill="#e8191c"/>
<text x="397.70" y="343.80" font-size="5.35" fill="#333" text-anchor="start" stroke="#333" stroke-width="0.143">Adenine</text>
<text x="389.50" y="399.00" font-size="5.35" fill="#333" text-anchor="start" stroke="#333" stroke-width="0.143">Nicotinamide</text>
<text x="452.20" y="334.70" font-size="5.35" fill="#333" text-anchor="start" stroke="#333" stroke-width="0.143">5-Oxoproline</text>
<text x="478.90" y="340.80" font-size="5.35" fill="#333" text-anchor="start" stroke="#333" stroke-width="0.143">Lactate</text>
<text x="458.30" y="347.00" font-size="5.35" fill="#333" text-anchor="start" stroke="#333" stroke-width="0.143">Glucose</text>
<text x="450.00" y="364.40" font-size="5.35" fill="#333" text-anchor="start" stroke="#333" stroke-width="0.143">Xanthine</text>
<text x="489.00" y="390.10" font-size="5.35" fill="#333" text-anchor="start" stroke="#333" stroke-width="0.143">Malate</text>
<text x="471.70" y="403.00" font-size="5.35" fill="#333" text-anchor="start" stroke="#333" stroke-width="0.143">Hypoxanthine</text>
<line x1="448.3" y1="244" x2="448.3" y2="405" stroke="#444" stroke-width="1.2"/>
<rect x="386" y="244" width="124.69999999999999" height="161" fill="none" stroke="#222" stroke-width="1.35"/>
<circle cx="394.2" cy="250.8" r="2.1" fill="#1c3d66"/>
<text x="399.40" y="252.60" font-size="5.3" fill="#333" text-anchor="start" stroke="#333" stroke-width="0.141">up (q &lt; 0.1)</text>
<circle cx="394.2" cy="260.40000000000003" r="2.1" fill="#4a4a4a"/>
<text x="399.40" y="262.20" font-size="5.3" fill="#333" text-anchor="start" stroke="#333" stroke-width="0.141">not significant</text>
<circle cx="394.2" cy="270.0" r="2.1" fill="#2a9fd6"/>
<text x="399.40" y="271.80" font-size="5.3" fill="#333" text-anchor="start" stroke="#333" stroke-width="0.141">down (q &lt; 0.1)</text>
<line x1="384" y1="405" x2="386" y2="405" stroke="#333" stroke-width="0.8"/>
<text x="380.20" y="407.10" font-size="6.0" fill="#3a3a3a" text-anchor="end" stroke="#3a3a3a" stroke-width="0.160">0</text>
<line x1="384" y1="372.8" x2="386" y2="372.8" stroke="#333" stroke-width="0.8"/>
<text x="380.20" y="374.90" font-size="6.0" fill="#3a3a3a" text-anchor="end" stroke="#3a3a3a" stroke-width="0.160">1</text>
<line x1="384" y1="340.6" x2="386" y2="340.6" stroke="#333" stroke-width="0.8"/>
<text x="380.20" y="342.70" font-size="6.0" fill="#3a3a3a" text-anchor="end" stroke="#3a3a3a" stroke-width="0.160">2</text>
<line x1="384" y1="308.4" x2="386" y2="308.4" stroke="#333" stroke-width="0.8"/>
<text x="380.20" y="310.50" font-size="6.0" fill="#3a3a3a" text-anchor="end" stroke="#3a3a3a" stroke-width="0.160">3</text>
<line x1="384" y1="276.2" x2="386" y2="276.2" stroke="#333" stroke-width="0.8"/>
<text x="380.20" y="278.30" font-size="6.0" fill="#3a3a3a" text-anchor="end" stroke="#3a3a3a" stroke-width="0.160">4</text>
<line x1="384" y1="244" x2="386" y2="244" stroke="#333" stroke-width="0.8"/>
<text x="380.20" y="246.10" font-size="6.0" fill="#3a3a3a" text-anchor="end" stroke="#3a3a3a" stroke-width="0.160">5</text>
<line x1="410" y1="405" x2="410" y2="407" stroke="#333" stroke-width="0.8"/>
<text x="410.00" y="416.20" font-size="5.6" fill="#3a3a3a" text-anchor="middle" stroke="#3a3a3a" stroke-width="0.149">-0.01</text>
<line x1="448.75" y1="405" x2="448.75" y2="407" stroke="#333" stroke-width="0.8"/>
<text x="448.75" y="416.20" font-size="5.6" fill="#3a3a3a" text-anchor="middle" stroke="#3a3a3a" stroke-width="0.149">0</text>
<line x1="487.5" y1="405" x2="487.5" y2="407" stroke="#333" stroke-width="0.8"/>
<text x="487.50" y="416.20" font-size="5.6" fill="#3a3a3a" text-anchor="middle" stroke="#3a3a3a" stroke-width="0.149">0.01</text>
<text transform="translate(367.9,320.1) rotate(-90)" font-size="6.0" fill="#3a3a3a" stroke="#3a3a3a" stroke-width="0.2" text-anchor="middle" textLength="49" lengthAdjust="spacingAndGlyphs">-log<tspan font-size="3.8" dy="1.2">10</tspan><tspan dy="-1.2">(q value)</tspan></text>
<text x="397.5" y="426.1" font-size="7.3" fill="#3a3a3a" stroke="#3a3a3a" stroke-width="0.25" textLength="101.25" lengthAdjust="spacingAndGlyphs">log<tspan font-size="4.6" dy="1.4">2</tspan><tspan dy="-1.4">(fold change) per unit of hemolysis</tspan></text>
<text x="113.70" y="448.10" font-size="8.4" fill="#222" text-anchor="start" font-style="italic" textLength="298.00" lengthAdjust="spacingAndGlyphs">Heterogeneous levels of metabolic markers of the storage lesion in fresh and stored RBCs</text>
<line x1="47.3" y1="462" x2="47.3" y2="497" stroke="#ececf4" stroke-width="0.5"/>
<line x1="73.3" y1="462" x2="73.3" y2="497" stroke="#ececf4" stroke-width="0.5"/>
<line x1="99" y1="462" x2="99" y2="497" stroke="#ececf4" stroke-width="0.5"/>
<line x1="124.9" y1="462" x2="124.9" y2="497" stroke="#ececf4" stroke-width="0.5"/>
<line x1="43.7" y1="466" x2="130.9" y2="466" stroke="#ececf4" stroke-width="0.5"/>
<line x1="43.7" y1="474" x2="130.9" y2="474" stroke="#ececf4" stroke-width="0.5"/>
<line x1="43.7" y1="482" x2="130.9" y2="482" stroke="#ececf4" stroke-width="0.5"/>
<line x1="43.7" y1="490" x2="130.9" y2="490" stroke="#ececf4" stroke-width="0.5"/>
<path d="M47.3,468 Q88.6,474.5 129.9,478.7 L129.9,494 Q88.6,491 47.3,485.5 Z" fill="#c2c4c2" opacity="0.85"/>
<path d="M47.3,464.5 Q88.6,470 129.9,474 L129.9,479.5 Q88.6,475.5 47.3,469.5 Z" fill="#f29c9c" opacity="0.6"/>
<path d="M47.3,468 Q88.6,474.5 129.9,478.7" fill="none" stroke="#e06464" stroke-width="1.7"/>
<path d="M47.3,486 Q88.6,490.5 129.9,494.5 L129.9,497 Q88.6,494 47.3,491.5 Z" fill="#9a9ad8" opacity="0.5"/>
<path d="M47.3,485.4 Q88.6,491 129.9,494" fill="none" stroke="#5050ac" stroke-width="1.7"/>
<line x1="47.3" y1="482.1" x2="129.9" y2="482.1" stroke="#333" stroke-width="1.25" stroke-dasharray="3,2"/>
<line x1="43.7" y1="462" x2="43.7" y2="497" stroke="#222" stroke-width="1.1"/>
<line x1="43.7" y1="497" x2="130.9" y2="497" stroke="#222" stroke-width="1.1"/>
<line x1="47.3" y1="497" x2="47.3" y2="499" stroke="#222" stroke-width="0.8"/>
<text x="47.30" y="508.20" font-size="6.0" fill="#3a3a3a" text-anchor="middle" stroke="#3a3a3a" stroke-width="0.160">10</text>
<line x1="73.3" y1="497" x2="73.3" y2="499" stroke="#222" stroke-width="0.8"/>
<text x="73.30" y="508.20" font-size="6.0" fill="#3a3a3a" text-anchor="middle" stroke="#3a3a3a" stroke-width="0.160">20</text>
<line x1="99" y1="497" x2="99" y2="499" stroke="#222" stroke-width="0.8"/>
<text x="99.00" y="508.20" font-size="6.0" fill="#3a3a3a" text-anchor="middle" stroke="#3a3a3a" stroke-width="0.160">30</text>
<line x1="124.9" y1="497" x2="124.9" y2="499" stroke="#222" stroke-width="0.8"/>
<text x="124.90" y="508.20" font-size="6.0" fill="#3a3a3a" text-anchor="middle" stroke="#3a3a3a" stroke-width="0.160">40</text>
<line x1="41.7" y1="466" x2="43.7" y2="466" stroke="#222" stroke-width="0.8"/>
<text x="37.70" y="468.00" font-size="5.5" fill="#3a3a3a" text-anchor="end" stroke="#3a3a3a" stroke-width="0.147">1.50</text>
<line x1="41.7" y1="474" x2="43.7" y2="474" stroke="#222" stroke-width="0.8"/>
<text x="37.70" y="476.00" font-size="5.5" fill="#3a3a3a" text-anchor="end" stroke="#3a3a3a" stroke-width="0.147">1.25</text>
<line x1="41.7" y1="482" x2="43.7" y2="482" stroke="#222" stroke-width="0.8"/>
<text x="37.70" y="484.00" font-size="5.5" fill="#3a3a3a" text-anchor="end" stroke="#3a3a3a" stroke-width="0.147">1.00</text>
<line x1="41.7" y1="490" x2="43.7" y2="490" stroke="#222" stroke-width="0.8"/>
<text x="37.70" y="492.00" font-size="5.5" fill="#3a3a3a" text-anchor="end" stroke="#3a3a3a" stroke-width="0.147">0.75</text>
<text x="87.00" y="457.20" font-size="5.8" fill="#3a3a3a" text-anchor="middle" stroke="#3a3a3a" stroke-width="0.155">Glucose</text>
<text x="86.10" y="518.60" font-size="7.4" fill="#3a3a3a" text-anchor="middle" stroke="#3a3a3a" stroke-width="0.197" textLength="10.50" lengthAdjust="spacingAndGlyphs">Day</text>
<line x1="166.6" y1="461" x2="166.6" y2="496.5" stroke="#ececf4" stroke-width="0.5"/>
<line x1="194" y1="461" x2="194" y2="496.5" stroke="#ececf4" stroke-width="0.5"/>
<line x1="221.2" y1="461" x2="221.2" y2="496.5" stroke="#ececf4" stroke-width="0.5"/>
<line x1="248.8" y1="461" x2="248.8" y2="496.5" stroke="#ececf4" stroke-width="0.5"/>
<line x1="162.5" y1="468.3" x2="254.8" y2="468.3" stroke="#ececf4" stroke-width="0.5"/>
<line x1="162.5" y1="477.7" x2="254.8" y2="477.7" stroke="#ececf4" stroke-width="0.5"/>
<line x1="162.5" y1="487.2" x2="254.8" y2="487.2" stroke="#ececf4" stroke-width="0.5"/>
<line x1="162.5" y1="496" x2="254.8" y2="496" stroke="#ececf4" stroke-width="0.5"/>
<defs><linearGradient id="hxg" x1="0" x2="0" y1="0" y2="1"><stop offset="0" stop-color="#eeaaaa"/><stop offset="0.5" stop-color="#d4bcc0"/><stop offset="1" stop-color="#c4c0c6"/></linearGradient></defs>
<path d="M166.7,492 L180,491.5 Q215,487 255.2,476 L255.2,493 L166.7,493 Z" fill="url(#hxg)" opacity="0.85"/>
<path d="M166.7,492.5 L178,491.5 Q210,486 255.2,463" fill="none" stroke="#f0d0d0" stroke-width="0.9"/>
<path d="M166.7,492.5 L178,491.5 Q212,487 255.2,475.5" fill="none" stroke="#e8a0a0" stroke-width="0.9"/>
<line x1="166.7" y1="494.8" x2="255.2" y2="494.3" stroke="#7070bc" stroke-width="1.2"/>
<line x1="166.7" y1="492.6" x2="255.2" y2="492.6" stroke="#333" stroke-width="1.25" stroke-dasharray="3,2"/>
<line x1="162.5" y1="461" x2="162.5" y2="496.5" stroke="#222" stroke-width="1.1"/>
<line x1="162.5" y1="496.5" x2="254.8" y2="496.5" stroke="#222" stroke-width="1.1"/>
<line x1="166.6" y1="496.5" x2="166.6" y2="498.5" stroke="#222" stroke-width="0.8"/>
<text x="166.60" y="508.20" font-size="6.0" fill="#3a3a3a" text-anchor="middle" stroke="#3a3a3a" stroke-width="0.160">10</text>
<line x1="194" y1="496.5" x2="194" y2="498.5" stroke="#222" stroke-width="0.8"/>
<text x="194.00" y="508.20" font-size="6.0" fill="#3a3a3a" text-anchor="middle" stroke="#3a3a3a" stroke-width="0.160">20</text>
<line x1="221.2" y1="496.5" x2="221.2" y2="498.5" stroke="#222" stroke-width="0.8"/>
<text x="221.20" y="508.20" font-size="6.0" fill="#3a3a3a" text-anchor="middle" stroke="#3a3a3a" stroke-width="0.160">30</text>
<line x1="248.8" y1="496.5" x2="248.8" y2="498.5" stroke="#222" stroke-width="0.8"/>
<text x="248.80" y="508.20" font-size="6.0" fill="#3a3a3a" text-anchor="middle" stroke="#3a3a3a" stroke-width="0.160">40</text>
<line x1="160.5" y1="468.3" x2="162.5" y2="468.3" stroke="#222" stroke-width="0.8"/>
<text x="156.50" y="470.30" font-size="5.5" fill="#3a3a3a" text-anchor="end" stroke="#3a3a3a" stroke-width="0.147">9</text>
<line x1="160.5" y1="477.7" x2="162.5" y2="477.7" stroke="#222" stroke-width="0.8"/>
<text x="156.50" y="479.70" font-size="5.5" fill="#3a3a3a" text-anchor="end" stroke="#3a3a3a" stroke-width="0.147">6</text>
<line x1="160.5" y1="487.2" x2="162.5" y2="487.2" stroke="#222" stroke-width="0.8"/>
<text x="156.50" y="489.20" font-size="5.5" fill="#3a3a3a" text-anchor="end" stroke="#3a3a3a" stroke-width="0.147">3</text>
<line x1="160.5" y1="496" x2="162.5" y2="496" stroke="#222" stroke-width="0.8"/>
<text x="156.50" y="498.00" font-size="5.5" fill="#3a3a3a" text-anchor="end" stroke="#3a3a3a" stroke-width="0.147">0</text>
<text x="208.00" y="457.20" font-size="5.8" fill="#3a3a3a" text-anchor="middle" stroke="#3a3a3a" stroke-width="0.155">Hypoxanthine</text>
<text x="207.70" y="518.60" font-size="7.4" fill="#3a3a3a" text-anchor="middle" stroke="#3a3a3a" stroke-width="0.197" textLength="10.50" lengthAdjust="spacingAndGlyphs">Day</text>
<line x1="296.4" y1="461.6" x2="296.4" y2="497" stroke="#ececf4" stroke-width="0.5"/>
<line x1="322.8" y1="461.6" x2="322.8" y2="497" stroke="#ececf4" stroke-width="0.5"/>
<line x1="349.7" y1="461.6" x2="349.7" y2="497" stroke="#ececf4" stroke-width="0.5"/>
<line x1="375.3" y1="461.6" x2="375.3" y2="497" stroke="#ececf4" stroke-width="0.5"/>
<line x1="292.4" y1="464.3" x2="381.3" y2="464.3" stroke="#ececf4" stroke-width="0.5"/>
<line x1="292.4" y1="473.7" x2="381.3" y2="473.7" stroke="#ececf4" stroke-width="0.5"/>
<line x1="292.4" y1="483" x2="381.3" y2="483" stroke="#ececf4" stroke-width="0.5"/>
<line x1="292.4" y1="492.6" x2="381.3" y2="492.6" stroke="#ececf4" stroke-width="0.5"/>
<polygon points="296.7,484.5 380.4,467 380.4,481 296.7,494.5" fill="#c2c4c2" opacity="0.85"/>
<polygon points="296.7,482.5 380.4,463.8 380.4,468 296.7,486" fill="#f29c9c" opacity="0.6"/>
<line x1="296.7" y1="484.5" x2="380.4" y2="467" stroke="#e06464" stroke-width="1.6"/>
<polygon points="296.7,494.5 380.4,481 380.4,485.5 296.7,497" fill="#9a9ad8" opacity="0.5"/>
<line x1="296.7" y1="494.5" x2="380.4" y2="480.7" stroke="#5050ac" stroke-width="1.7"/>
<line x1="296.7" y1="485.3" x2="380.4" y2="485.3" stroke="#333" stroke-width="1.25" stroke-dasharray="3,2"/>
<line x1="292.4" y1="461.6" x2="292.4" y2="497" stroke="#222" stroke-width="1.1"/>
<line x1="292.4" y1="497" x2="381.3" y2="497" stroke="#222" stroke-width="1.1"/>
<line x1="296.4" y1="497" x2="296.4" y2="499" stroke="#222" stroke-width="0.8"/>
<text x="296.40" y="508.20" font-size="6.0" fill="#3a3a3a" text-anchor="middle" stroke="#3a3a3a" stroke-width="0.160">10</text>
<line x1="322.8" y1="497" x2="322.8" y2="499" stroke="#222" stroke-width="0.8"/>
<text x="322.80" y="508.20" font-size="6.0" fill="#3a3a3a" text-anchor="middle" stroke="#3a3a3a" stroke-width="0.160">20</text>
<line x1="349.7" y1="497" x2="349.7" y2="499" stroke="#222" stroke-width="0.8"/>
<text x="349.70" y="508.20" font-size="6.0" fill="#3a3a3a" text-anchor="middle" stroke="#3a3a3a" stroke-width="0.160">30</text>
<line x1="375.3" y1="497" x2="375.3" y2="499" stroke="#222" stroke-width="0.8"/>
<text x="375.30" y="508.20" font-size="6.0" fill="#3a3a3a" text-anchor="middle" stroke="#3a3a3a" stroke-width="0.160">40</text>
<line x1="290.4" y1="464.3" x2="292.4" y2="464.3" stroke="#222" stroke-width="0.8"/>
<text x="286.40" y="466.30" font-size="5.5" fill="#3a3a3a" text-anchor="end" stroke="#3a3a3a" stroke-width="0.147">2.0</text>
<line x1="290.4" y1="473.7" x2="292.4" y2="473.7" stroke="#222" stroke-width="0.8"/>
<text x="286.40" y="475.70" font-size="5.5" fill="#3a3a3a" text-anchor="end" stroke="#3a3a3a" stroke-width="0.147">1.5</text>
<line x1="290.4" y1="483" x2="292.4" y2="483" stroke="#222" stroke-width="0.8"/>
<text x="286.40" y="485.00" font-size="5.5" fill="#3a3a3a" text-anchor="end" stroke="#3a3a3a" stroke-width="0.147">1.0</text>
<line x1="290.4" y1="492.6" x2="292.4" y2="492.6" stroke="#222" stroke-width="0.8"/>
<text x="286.40" y="494.60" font-size="5.5" fill="#3a3a3a" text-anchor="end" stroke="#3a3a3a" stroke-width="0.147">0.5</text>
<text x="336.00" y="457.20" font-size="5.8" fill="#3a3a3a" text-anchor="middle" stroke="#3a3a3a" stroke-width="0.155">5-Oxoproline</text>
<text x="335.85" y="518.60" font-size="7.4" fill="#3a3a3a" text-anchor="middle" stroke="#3a3a3a" stroke-width="0.197" textLength="10.50" lengthAdjust="spacingAndGlyphs">Day</text>
<line x1="421" y1="461" x2="421" y2="496.5" stroke="#ececf4" stroke-width="0.5"/>
<line x1="448.2" y1="461" x2="448.2" y2="496.5" stroke="#ececf4" stroke-width="0.5"/>
<line x1="474.3" y1="461" x2="474.3" y2="496.5" stroke="#ececf4" stroke-width="0.5"/>
<line x1="500.5" y1="461" x2="500.5" y2="496.5" stroke="#ececf4" stroke-width="0.5"/>
<line x1="417.5" y1="463.7" x2="506.5" y2="463.7" stroke="#ececf4" stroke-width="0.5"/>
<line x1="417.5" y1="474.5" x2="506.5" y2="474.5" stroke="#ececf4" stroke-width="0.5"/>
<line x1="417.5" y1="485.3" x2="506.5" y2="485.3" stroke="#ececf4" stroke-width="0.5"/>
<line x1="417.5" y1="495.8" x2="506.5" y2="495.8" stroke="#ececf4" stroke-width="0.5"/>
<path d="M421.7,480 L448.2,486 L504.4,487 L504.4,495 L421.7,495 Z" fill="#d4cad2" opacity="0.8"/>
<path d="M421.7,478 L448.2,483 Q470,486 504.4,486.5 L504.4,493.5 L448.2,492 L421.7,487 Z" fill="#f4a4a4" opacity="0.6"/>
<path d="M421.7,463.8 L448.2,471.5 Q470,474 504.4,474.5" fill="none" stroke="#f2d4d4" stroke-width="0.9"/>
<path d="M421.7,472.8 L448.2,482 L504.4,487" fill="none" stroke="#ec8a8a" stroke-width="0.7" opacity="0.8"/>
<path d="M421.7,476.5 L448.2,484 L504.4,488.5" fill="none" stroke="#ec8a8a" stroke-width="0.7" opacity="0.8"/>
<path d="M421.7,478.6 L448.2,486 L504.4,490" fill="none" stroke="#ec8a8a" stroke-width="0.7" opacity="0.8"/>
<path d="M421.7,480.8 L448.2,488 L504.4,491" fill="none" stroke="#ec8a8a" stroke-width="0.7" opacity="0.8"/>
<path d="M421.7,484 L448.2,490 L504.4,492.5" fill="none" stroke="#ec8a8a" stroke-width="0.7" opacity="0.8"/>
<path d="M421.7,486 L448.2,491.5 L504.4,493.5" fill="none" stroke="#ec8a8a" stroke-width="0.7" opacity="0.8"/>
<line x1="421.7" y1="495.3" x2="504.4" y2="495.3" stroke="#222" stroke-width="1.25" stroke-dasharray="3,2"/>
<line x1="417.5" y1="461" x2="417.5" y2="496.5" stroke="#222" stroke-width="1.1"/>
<line x1="417.5" y1="496.5" x2="506.5" y2="496.5" stroke="#222" stroke-width="1.1"/>
<line x1="421" y1="496.5" x2="421" y2="498.5" stroke="#222" stroke-width="0.8"/>
<text x="421.00" y="508.20" font-size="6.0" fill="#3a3a3a" text-anchor="middle" stroke="#3a3a3a" stroke-width="0.160">10</text>
<line x1="448.2" y1="496.5" x2="448.2" y2="498.5" stroke="#222" stroke-width="0.8"/>
<text x="448.20" y="508.20" font-size="6.0" fill="#3a3a3a" text-anchor="middle" stroke="#3a3a3a" stroke-width="0.160">20</text>
<line x1="474.3" y1="496.5" x2="474.3" y2="498.5" stroke="#222" stroke-width="0.8"/>
<text x="474.30" y="508.20" font-size="6.0" fill="#3a3a3a" text-anchor="middle" stroke="#3a3a3a" stroke-width="0.160">30</text>
<line x1="500.5" y1="496.5" x2="500.5" y2="498.5" stroke="#222" stroke-width="0.8"/>
<text x="500.50" y="508.20" font-size="6.0" fill="#3a3a3a" text-anchor="middle" stroke="#3a3a3a" stroke-width="0.160">40</text>
<line x1="415.5" y1="463.7" x2="417.5" y2="463.7" stroke="#222" stroke-width="0.8"/>
<text x="411.50" y="465.70" font-size="5.5" fill="#3a3a3a" text-anchor="end" stroke="#3a3a3a" stroke-width="0.147">600</text>
<line x1="415.5" y1="474.5" x2="417.5" y2="474.5" stroke="#222" stroke-width="0.8"/>
<text x="411.50" y="476.50" font-size="5.5" fill="#3a3a3a" text-anchor="end" stroke="#3a3a3a" stroke-width="0.147">400</text>
<line x1="415.5" y1="485.3" x2="417.5" y2="485.3" stroke="#222" stroke-width="0.8"/>
<text x="411.50" y="487.30" font-size="5.5" fill="#3a3a3a" text-anchor="end" stroke="#3a3a3a" stroke-width="0.147">200</text>
<line x1="415.5" y1="495.8" x2="417.5" y2="495.8" stroke="#222" stroke-width="0.8"/>
<text x="411.50" y="497.80" font-size="5.5" fill="#3a3a3a" text-anchor="end" stroke="#3a3a3a" stroke-width="0.147">0</text>
<text x="464.00" y="457.20" font-size="5.8" fill="#3a3a3a" text-anchor="middle" stroke="#3a3a3a" stroke-width="0.155">Adenine</text>
<text x="460.75" y="518.60" font-size="7.4" fill="#3a3a3a" text-anchor="middle" stroke="#3a3a3a" stroke-width="0.197" textLength="10.50" lengthAdjust="spacingAndGlyphs">Day</text>
<text x="22.50" y="480.10" font-size="6.9" fill="#3a3a3a" text-anchor="middle" stroke="#3a3a3a" stroke-width="0.184" textLength="44.00" lengthAdjust="spacingAndGlyphs" transform="rotate(-90 22.50 480.10)">ValueNormalized</text>
<text x="149.20" y="481.40" font-size="6.9" fill="#3a3a3a" text-anchor="middle" stroke="#3a3a3a" stroke-width="0.184" textLength="44.00" lengthAdjust="spacingAndGlyphs" transform="rotate(-90 149.20 481.40)">ValueNormalized</text>
<text x="275.00" y="480.40" font-size="6.9" fill="#3a3a3a" text-anchor="middle" stroke="#3a3a3a" stroke-width="0.184" textLength="44.00" lengthAdjust="spacingAndGlyphs" transform="rotate(-90 275.00 480.40)">ValueNormalized</text>
<text x="398.00" y="478.50" font-size="6.9" fill="#3a3a3a" text-anchor="middle" stroke="#3a3a3a" stroke-width="0.184" textLength="44.00" lengthAdjust="spacingAndGlyphs" transform="rotate(-90 398.00 478.50)">Valuenormalized</text>
<line x1="225.6" y1="526.5" x2="235.2" y2="526.5" stroke="#e05a5a" stroke-width="1.5"/>
<text x="236.80" y="528.40" font-size="5.4" fill="#e05a5a" text-anchor="start" stroke="#e05a5a" stroke-width="0.144" textLength="17.60" lengthAdjust="spacingAndGlyphs">Top 5%</text>
<line x1="261.2" y1="526.5" x2="270.8" y2="526.5" stroke="#4848a8" stroke-width="1.5"/>
<text x="272.40" y="528.40" font-size="5.4" fill="#6a6ab8" text-anchor="start" stroke="#6a6ab8" stroke-width="0.144" textLength="27.20" lengthAdjust="spacingAndGlyphs">Bottom 5%</text>
</g>
<rect x="0" y="0" width="520" height="1" fill="#4a4a4a"/>
<rect x="0" y="0" width="1.1" height="536" fill="#4a4a4a"/>
<rect x="518.8" y="0" width="1.2" height="536" fill="#4a4a4a"/>
<rect x="0" y="534.8" width="520" height="1.2" fill="#4a4a4a"/>
</svg></div></body></html>
